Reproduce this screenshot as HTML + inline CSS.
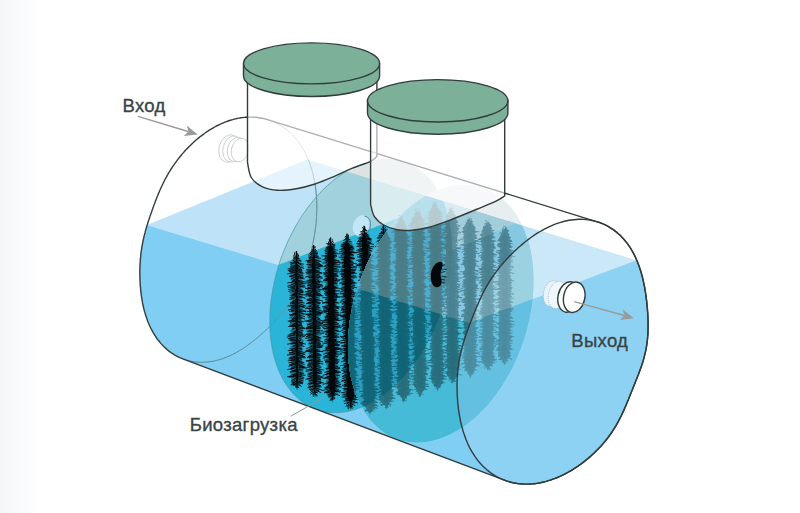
<!DOCTYPE html>
<html><head><meta charset="utf-8"><style>
html,body{margin:0;padding:0;background:#fff;}
svg{display:block;}
.t{font-family:"Liberation Sans",sans-serif;}
</style></head><body>
<svg width="800" height="513" viewBox="0 0 800 513">
<defs>
<path id="bh" d="M296.4,252.5 L296.5,254.0 L297.6,255.6 L298.8,257.2 L299.1,258.8 L301.8,260.4 L300.1,262.0 L301.6,263.6 L302.7,265.2 L304.1,266.8 L300.7,268.4 L302.7,270.0 L301.5,271.6 L304.4,273.2 L302.6,274.8 L304.3,276.4 L301.2,278.0 L302.2,279.6 L302.2,281.2 L303.5,282.8 L300.7,284.4 L304.7,286.0 L300.6,287.6 L302.7,289.2 L302.9,290.8 L302.8,292.4 L302.1,294.0 L303.3,295.6 L301.4,297.2 L301.9,298.8 L301.8,300.4 L303.0,302.0 L302.1,303.6 L304.4,305.2 L301.4,306.8 L303.4,308.4 L301.0,310.0 L302.3,311.6 L301.5,313.2 L302.8,314.8 L301.3,316.4 L302.9,318.0 L301.5,319.6 L302.8,321.2 L301.5,322.8 L302.6,324.4 L301.6,326.0 L304.7,327.6 L302.8,329.2 L304.2,330.8 L301.4,332.4 L302.5,334.0 L302.7,335.6 L303.7,337.2 L301.6,338.8 L304.4,340.4 L303.0,342.0 L302.8,343.6 L302.9,345.2 L302.3,346.8 L301.6,348.4 L303.0,350.0 L301.0,351.6 L304.3,353.2 L301.8,354.8 L303.0,356.4 L302.2,358.0 L302.7,359.6 L302.0,361.2 L303.2,362.8 L302.4,364.4 L303.9,366.0 L302.9,367.6 L304.2,369.2 L303.1,370.8 L304.0,372.4 L302.2,374.0 L302.1,375.6 L301.7,377.2 L304.6,378.8 L302.1,380.4 L302.3,382.0 L300.9,383.6 L300.1,385.2 L298.3,386.8 L297.0,391.0 L296.0,386.8 L293.8,385.2 L293.0,383.6 L290.9,382.0 L290.9,380.4 L291.5,378.8 L290.6,377.2 L289.4,375.6 L292.2,374.0 L289.7,372.4 L292.6,370.8 L289.2,369.2 L292.1,367.6 L290.0,366.0 L291.8,364.4 L290.5,362.8 L291.2,361.2 L291.3,359.6 L292.5,358.0 L289.9,356.4 L291.9,354.8 L288.8,353.2 L292.3,351.6 L290.6,350.0 L292.4,348.4 L289.5,346.8 L292.5,345.2 L290.6,343.6 L292.1,342.0 L290.5,340.4 L292.3,338.8 L288.9,337.2 L290.9,335.6 L290.1,334.0 L291.8,332.4 L289.6,330.8 L291.9,329.2 L291.7,327.6 L291.9,326.0 L289.3,324.4 L290.6,322.8 L291.2,321.2 L291.6,319.6 L288.9,318.0 L290.6,316.4 L290.8,314.8 L292.2,313.2 L290.8,311.6 L290.9,310.0 L290.3,308.4 L291.1,306.8 L289.5,305.2 L290.7,303.6 L289.8,302.0 L292.4,300.4 L289.9,298.8 L292.2,297.2 L288.8,295.6 L291.1,294.0 L288.9,292.4 L292.2,290.8 L290.9,289.2 L291.8,287.6 L289.0,286.0 L291.2,284.4 L290.7,282.8 L292.1,281.2 L290.7,279.6 L291.0,278.0 L289.2,276.4 L290.6,274.8 L289.8,273.2 L291.1,271.6 L288.8,270.0 L290.2,268.4 L290.1,266.8 L290.9,265.2 L290.8,263.6 L291.9,262.0 L291.6,260.4 L293.2,258.8 L294.3,257.2 L294.8,255.6 L296.3,254.0Z M313.6,246.5 L313.6,248.0 L314.8,249.6 L316.1,251.2 L316.7,252.8 L317.8,254.4 L318.2,256.0 L319.5,257.6 L318.7,259.2 L321.0,260.8 L318.2,262.4 L319.9,264.0 L319.9,265.6 L320.8,267.2 L319.3,268.8 L320.4,270.4 L318.6,272.0 L321.5,273.6 L318.7,275.2 L321.7,276.8 L318.7,278.4 L321.3,280.0 L319.4,281.6 L320.5,283.2 L318.7,284.8 L321.2,286.4 L318.3,288.0 L321.3,289.6 L320.1,291.2 L320.8,292.8 L319.1,294.4 L319.9,296.0 L319.9,297.6 L319.8,299.2 L319.4,300.8 L320.0,302.4 L319.4,304.0 L320.1,305.6 L318.8,307.2 L320.7,308.8 L320.0,310.4 L319.9,312.0 L319.0,313.6 L321.2,315.2 L318.9,316.8 L319.9,318.4 L320.3,320.0 L321.4,321.6 L319.1,323.2 L321.7,324.8 L319.6,326.4 L321.0,328.0 L319.8,329.6 L320.1,331.2 L319.1,332.8 L322.3,334.4 L319.0,336.0 L321.5,337.6 L320.6,339.2 L320.7,340.8 L319.1,342.4 L321.3,344.0 L319.6,345.6 L322.1,347.2 L319.7,348.8 L320.2,350.4 L319.0,352.0 L320.1,353.6 L319.6,355.2 L320.7,356.8 L320.0,358.4 L320.0,360.0 L319.3,361.6 L320.6,363.2 L319.4,364.8 L321.4,366.4 L320.7,368.0 L320.0,369.6 L320.2,371.2 L321.5,372.8 L319.1,374.4 L320.5,376.0 L320.0,377.6 L320.7,379.2 L320.1,380.8 L320.7,382.4 L319.5,384.0 L321.0,385.6 L319.3,387.2 L320.0,388.8 L319.0,390.4 L318.3,392.0 L316.1,393.6 L315.0,398.0 L314.1,393.6 L311.3,392.0 L311.4,390.4 L308.6,388.8 L309.2,387.2 L307.8,385.6 L310.3,384.0 L308.7,382.4 L309.2,380.8 L307.3,379.2 L310.3,377.6 L307.0,376.0 L308.5,374.4 L307.2,372.8 L310.7,371.2 L309.2,369.6 L309.2,368.0 L307.2,366.4 L308.4,364.8 L307.7,363.2 L308.9,361.6 L308.8,360.0 L309.3,358.4 L308.3,356.8 L309.8,355.2 L308.0,353.6 L309.3,352.0 L309.5,350.4 L309.6,348.8 L309.0,347.2 L309.8,345.6 L307.4,344.0 L309.9,342.4 L307.0,340.8 L308.8,339.2 L306.9,337.6 L309.0,336.0 L307.7,334.4 L309.9,332.8 L307.0,331.2 L308.9,329.6 L308.3,328.0 L308.8,326.4 L307.2,324.8 L308.9,323.2 L307.7,321.6 L308.7,320.0 L308.7,318.4 L309.2,316.8 L306.9,315.2 L309.6,313.6 L308.9,312.0 L309.0,310.4 L308.1,308.8 L309.1,307.2 L308.4,305.6 L308.5,304.0 L307.8,302.4 L308.7,300.8 L306.3,299.2 L309.6,297.6 L307.4,296.0 L308.9,294.4 L306.3,292.8 L308.3,291.2 L306.6,289.6 L308.1,288.0 L307.8,286.4 L307.8,284.8 L307.4,283.2 L308.2,281.6 L308.3,280.0 L309.2,278.4 L306.2,276.8 L309.1,275.2 L307.0,273.6 L308.5,272.0 L306.5,270.4 L307.9,268.8 L307.3,267.2 L308.7,265.6 L307.0,264.0 L308.1,262.4 L307.6,260.8 L309.0,259.2 L308.0,257.6 L308.5,256.0 L308.1,254.4 L310.5,252.8 L310.8,251.2 L312.9,249.6 L313.5,248.0Z M330.6,239.0 L330.7,240.5 L331.7,242.1 L333.0,243.7 L333.8,245.3 L335.6,246.9 L334.1,248.5 L338.5,250.1 L336.1,251.7 L337.9,253.3 L336.0,254.9 L337.4,256.5 L335.7,258.1 L337.4,259.7 L336.0,261.3 L336.9,262.9 L335.1,264.5 L338.4,266.1 L337.0,267.7 L338.6,269.3 L336.3,270.9 L338.4,272.5 L335.9,274.1 L338.2,275.7 L336.7,277.3 L336.8,278.9 L337.2,280.5 L338.4,282.1 L336.3,283.7 L338.6,285.3 L336.9,286.9 L336.5,288.5 L335.6,290.1 L337.9,291.7 L335.2,293.3 L337.4,294.9 L336.3,296.5 L337.2,298.1 L337.1,299.7 L337.1,301.3 L337.2,302.9 L336.9,304.5 L336.8,306.1 L338.2,307.7 L336.3,309.3 L337.7,310.9 L336.4,312.5 L338.3,314.1 L337.4,315.7 L338.1,317.3 L337.7,318.9 L338.4,320.5 L336.0,322.1 L338.9,323.7 L337.7,325.3 L337.5,326.9 L336.1,328.5 L338.9,330.1 L336.2,331.7 L337.5,333.3 L336.3,334.9 L339.7,336.5 L337.1,338.1 L337.7,339.7 L336.1,341.3 L337.6,342.9 L336.1,344.5 L339.3,346.1 L338.0,347.7 L339.8,349.3 L336.3,350.9 L338.7,352.5 L337.1,354.1 L339.5,355.7 L337.8,357.3 L337.3,358.9 L336.7,360.5 L339.9,362.1 L336.4,363.7 L338.9,365.3 L337.0,366.9 L340.0,368.5 L338.2,370.1 L339.4,371.7 L338.4,373.3 L339.8,374.9 L337.7,376.5 L339.7,378.1 L338.3,379.7 L340.1,381.3 L337.3,382.9 L338.8,384.5 L336.8,386.1 L337.9,387.7 L336.9,389.3 L339.8,390.9 L337.3,392.5 L337.9,394.1 L335.4,395.7 L334.5,397.3 L333.5,398.9 L332.5,403.0 L330.9,398.9 L330.0,397.3 L329.6,395.7 L326.1,394.1 L326.4,392.5 L325.9,390.9 L327.6,389.3 L325.2,387.7 L326.7,386.1 L326.1,384.5 L326.5,382.9 L325.5,381.3 L327.2,379.7 L324.5,378.1 L326.8,376.5 L325.8,374.9 L327.4,373.3 L325.5,371.7 L327.2,370.1 L324.5,368.5 L327.0,366.9 L326.3,365.3 L326.3,363.7 L324.8,362.1 L325.7,360.5 L326.5,358.9 L325.6,357.3 L325.4,355.7 L327.0,354.1 L324.6,352.5 L327.0,350.9 L325.7,349.3 L326.0,347.7 L325.4,346.1 L326.8,344.5 L325.5,342.9 L326.0,341.3 L324.4,339.7 L325.9,338.1 L325.9,336.5 L326.2,334.9 L326.3,333.3 L325.6,331.7 L325.2,330.1 L327.1,328.5 L325.5,326.9 L325.3,325.3 L325.2,323.7 L326.3,322.1 L325.6,320.5 L325.6,318.9 L324.7,317.3 L325.6,315.7 L325.3,314.1 L325.8,312.5 L324.7,310.9 L327.0,309.3 L324.0,307.7 L325.4,306.1 L325.8,304.5 L326.1,302.9 L325.6,301.3 L326.0,299.7 L324.7,298.1 L326.7,296.5 L324.6,294.9 L324.8,293.3 L324.2,291.7 L325.6,290.1 L323.6,288.5 L325.0,286.9 L324.8,285.3 L326.3,283.7 L323.2,282.1 L326.7,280.5 L325.5,278.9 L326.3,277.3 L325.5,275.7 L325.3,274.1 L324.8,272.5 L325.4,270.9 L323.5,269.3 L325.5,267.7 L323.4,266.1 L325.6,264.5 L325.4,262.9 L325.2,261.3 L324.4,259.7 L325.6,258.1 L323.5,256.5 L325.8,254.9 L324.0,253.3 L326.2,251.7 L325.4,250.1 L327.1,248.5 L325.9,246.9 L328.0,245.3 L327.7,243.7 L329.3,242.1 L330.3,240.5Z M347.0,235.1 L347.1,236.6 L348.2,238.2 L349.9,239.8 L349.4,241.4 L352.3,243.0 L352.2,244.6 L354.2,246.2 L352.5,247.8 L354.6,249.4 L352.7,251.0 L355.0,252.6 L352.6,254.2 L354.3,255.8 L352.5,257.4 L354.7,259.0 L352.4,260.6 L354.3,262.2 L351.8,263.8 L353.6,265.4 L352.0,267.0 L353.4,268.6 L353.3,270.2 L354.5,271.8 L352.3,273.4 L354.8,275.0 L352.8,276.6 L355.5,278.2 L352.9,279.8 L354.6,281.4 L354.0,283.0 L355.2,284.6 L353.6,286.2 L355.0,287.8 L353.0,289.4 L354.4,291.0 L353.8,292.6 L355.1,294.2 L353.2,295.8 L353.8,297.4 L353.3,299.0 L356.0,300.6 L352.6,302.2 L354.0,303.8 L353.0,305.4 L354.9,307.0 L354.6,308.6 L355.5,310.2 L355.0,311.8 L355.6,313.4 L354.7,315.0 L354.9,316.6 L353.9,318.2 L355.8,319.8 L355.1,321.4 L354.3,323.0 L353.8,324.6 L355.2,326.2 L354.3,327.8 L355.6,329.4 L353.3,331.0 L356.7,332.6 L353.4,334.2 L354.3,335.8 L353.5,337.4 L355.5,339.0 L354.2,340.6 L355.5,342.2 L354.5,343.8 L354.4,345.4 L354.1,347.0 L356.5,348.6 L353.7,350.2 L357.2,351.8 L353.7,353.4 L357.4,355.0 L354.2,356.6 L356.2,358.2 L355.8,359.8 L356.0,361.4 L355.5,363.0 L357.2,364.6 L355.0,366.2 L355.2,367.8 L354.1,369.4 L356.2,371.0 L354.8,372.6 L357.1,374.2 L355.0,375.8 L356.4,377.4 L354.8,379.0 L355.6,380.6 L354.8,382.2 L356.6,383.8 L355.0,385.4 L356.1,387.0 L356.1,388.6 L356.4,390.2 L355.4,391.8 L356.2,393.4 L356.8,395.0 L356.2,396.6 L356.4,398.2 L356.2,399.8 L354.7,401.4 L355.6,403.0 L353.0,404.6 L351.9,406.2 L350.6,410.5 L349.3,406.2 L347.4,404.6 L346.9,403.0 L346.5,401.4 L345.0,399.8 L345.8,398.2 L342.8,396.6 L344.4,395.0 L342.9,393.4 L345.7,391.8 L343.7,390.2 L344.4,388.6 L344.2,387.0 L344.5,385.4 L343.7,383.8 L345.0,382.2 L343.9,380.6 L345.7,379.0 L342.0,377.4 L345.3,375.8 L343.7,374.2 L344.9,372.6 L342.3,371.0 L343.3,369.4 L343.0,367.8 L344.1,366.2 L344.1,364.6 L344.9,363.0 L343.5,361.4 L343.3,359.8 L344.0,358.2 L344.6,356.6 L343.1,355.0 L344.6,353.4 L344.0,351.8 L344.7,350.2 L342.4,348.6 L344.1,347.0 L343.9,345.4 L343.9,343.8 L343.1,342.2 L344.7,340.6 L341.9,339.0 L343.1,337.4 L343.4,335.8 L343.3,334.2 L342.6,332.6 L344.9,331.0 L343.6,329.4 L343.6,327.8 L341.8,326.2 L342.5,324.6 L342.6,323.0 L343.7,321.4 L342.9,319.8 L343.3,318.2 L341.8,316.6 L343.8,315.0 L342.8,313.4 L343.3,311.8 L343.2,310.2 L342.4,308.6 L341.6,307.0 L343.6,305.4 L341.0,303.8 L343.2,302.2 L341.9,300.6 L343.5,299.0 L341.3,297.4 L343.5,295.8 L342.6,294.2 L343.5,292.6 L341.0,291.0 L342.0,289.4 L340.8,287.8 L342.1,286.2 L341.1,284.6 L342.6,283.0 L342.6,281.4 L342.3,279.8 L341.7,278.2 L342.4,276.6 L341.1,275.0 L342.8,273.4 L341.5,271.8 L341.9,270.2 L341.1,268.6 L342.6,267.0 L341.7,265.4 L341.6,263.8 L342.1,262.2 L341.2,260.6 L341.9,259.0 L342.1,257.4 L339.7,255.8 L342.0,254.2 L341.1,252.6 L341.1,251.0 L340.8,249.4 L341.7,247.8 L341.6,246.2 L342.5,244.6 L341.7,243.0 L344.7,241.4 L345.0,239.8 L346.1,238.2 L347.1,236.6Z M364.2,227.3 L364.0,228.8 L365.5,230.4 L367.4,232.0 L366.6,233.6 L370.1,235.2 L367.9,236.8 L370.5,238.4 L370.8,240.0 L372.1,241.6 L369.9,243.2 L369.9,244.8 L369.5,246.4 L371.0,248.0 L370.8,249.6 L370.7,251.2 L370.2,252.8 L370.9,254.4 L370.2,256.0 L372.5,257.6 L371.3,259.2 L370.8,260.8 L371.0,262.4 L370.8,264.0 L371.3,265.6 L372.3,267.2 L369.7,268.8 L370.9,270.4 L370.6,272.0 L372.9,273.6 L369.9,275.2 L371.3,276.8 L371.0,278.4 L373.2,280.0 L370.8,281.6 L372.3,283.2 L371.0,284.8 L371.6,286.4 L371.0,288.0 L371.7,289.6 L372.3,291.2 L373.0,292.8 L371.3,294.4 L372.1,296.0 L371.3,297.6 L372.0,299.2 L371.3,300.8 L373.3,302.4 L372.1,304.0 L371.8,305.6 L372.1,307.2 L373.0,308.8 L371.6,310.4 L371.9,312.0 L372.4,313.6 L372.1,315.2 L371.3,316.8 L374.2,318.4 L372.9,320.0 L374.8,321.6 L371.7,323.2 L374.7,324.8 L373.4,326.4 L372.6,328.0 L373.1,329.6 L374.5,331.2 L373.2,332.8 L373.0,334.4 L372.8,336.0 L375.4,337.6 L373.9,339.2 L375.5,340.8 L373.4,342.4 L375.1,344.0 L373.4,345.6 L374.7,347.2 L373.8,348.8 L375.2,350.4 L373.6,352.0 L374.6,353.6 L372.8,355.2 L374.7,356.8 L373.6,358.4 L373.7,360.0 L374.4,361.6 L375.2,363.2 L374.4,364.8 L374.9,366.4 L374.5,368.0 L374.7,369.6 L374.7,371.2 L374.4,372.8 L373.8,374.4 L375.6,376.0 L374.9,377.6 L376.0,379.2 L373.4,380.8 L376.5,382.4 L373.8,384.0 L374.9,385.6 L373.7,387.2 L374.9,388.8 L375.5,390.4 L376.4,392.0 L374.6,393.6 L377.1,395.2 L375.5,396.8 L374.6,398.4 L374.0,400.0 L377.4,401.6 L374.5,403.2 L377.1,404.8 L374.2,406.4 L375.6,408.0 L373.2,409.6 L372.3,411.2 L370.4,412.8 L369.9,416.0 L369.4,412.8 L367.6,411.2 L367.5,409.6 L365.5,408.0 L365.5,406.4 L362.0,404.8 L363.2,403.2 L362.2,401.6 L364.6,400.0 L362.8,398.4 L364.2,396.8 L362.3,395.2 L364.5,393.6 L362.3,392.0 L364.2,390.4 L362.4,388.8 L363.9,387.2 L362.5,385.6 L363.7,384.0 L361.2,382.4 L363.4,380.8 L362.8,379.2 L362.2,377.6 L361.9,376.0 L363.4,374.4 L361.4,372.8 L364.0,371.2 L361.4,369.6 L363.5,368.0 L363.2,366.4 L362.4,364.8 L361.9,363.2 L362.1,361.6 L361.4,360.0 L362.4,358.4 L361.4,356.8 L361.9,355.2 L361.4,353.6 L363.4,352.0 L362.4,350.4 L361.8,348.8 L361.5,347.2 L361.6,345.6 L360.9,344.0 L362.9,342.4 L360.4,340.8 L361.4,339.2 L361.3,337.6 L361.8,336.0 L360.8,334.4 L361.6,332.8 L359.6,331.2 L362.4,329.6 L359.7,328.0 L362.3,326.4 L361.2,324.8 L360.8,323.2 L359.7,321.6 L361.7,320.0 L359.5,318.4 L360.5,316.8 L360.1,315.2 L360.7,313.6 L361.3,312.0 L361.4,310.4 L359.1,308.8 L361.9,307.2 L360.2,305.6 L360.3,304.0 L359.9,302.4 L362.0,300.8 L360.5,299.2 L361.2,297.6 L359.2,296.0 L361.1,294.4 L359.3,292.8 L361.3,291.2 L360.2,289.6 L360.9,288.0 L360.2,286.4 L361.2,284.8 L359.5,283.2 L360.8,281.6 L360.4,280.0 L359.8,278.4 L357.9,276.8 L359.8,275.2 L358.6,273.6 L361.5,272.0 L358.3,270.4 L361.2,268.8 L357.6,267.2 L359.9,265.6 L359.2,264.0 L359.6,262.4 L359.3,260.8 L360.5,259.2 L358.4,257.6 L359.7,256.0 L358.7,254.4 L359.7,252.8 L358.2,251.2 L359.6,249.6 L358.0,248.0 L360.0,246.4 L358.2,244.8 L358.9,243.2 L359.0,241.6 L359.8,240.0 L357.0,238.4 L359.9,236.8 L360.7,235.2 L360.9,233.6 L362.1,232.0 L363.0,230.4 L364.1,228.8Z M383.5,226.5 L383.4,228.0 L384.9,229.6 L386.7,231.2 L386.2,232.8 L388.7,234.4 L388.1,236.0 L389.5,237.6 L390.2,239.2 L390.7,240.8 L389.2,242.4 L390.9,244.0 L389.0,245.6 L391.7,247.2 L388.9,248.8 L390.4,250.4 L389.6,252.0 L391.5,253.6 L388.5,255.2 L391.2,256.8 L389.1,258.4 L390.9,260.0 L389.2,261.6 L390.6,263.2 L389.6,264.8 L390.2,266.4 L388.8,268.0 L391.3,269.6 L389.7,271.2 L391.1,272.8 L389.6,274.4 L392.3,276.0 L388.3,277.6 L390.6,279.2 L389.5,280.8 L390.0,282.4 L389.3,284.0 L392.1,285.6 L389.3,287.2 L391.9,288.8 L388.8,290.4 L390.4,292.0 L389.9,293.6 L391.0,295.2 L390.2,296.8 L390.5,298.4 L388.8,300.0 L392.6,301.6 L390.3,303.2 L392.3,304.8 L389.7,306.4 L392.8,308.0 L389.4,309.6 L391.3,311.2 L390.0,312.8 L391.6,314.4 L391.0,316.0 L392.4,317.6 L389.3,319.2 L390.6,320.8 L389.5,322.4 L390.6,324.0 L389.4,325.6 L390.7,327.2 L390.6,328.8 L391.8,330.4 L390.3,332.0 L391.2,333.6 L389.8,335.2 L390.4,336.8 L390.5,338.4 L392.3,340.0 L389.8,341.6 L392.4,343.2 L390.5,344.8 L392.0,346.4 L390.2,348.0 L391.6,349.6 L391.0,351.2 L391.7,352.8 L390.8,354.4 L390.9,356.0 L391.0,357.6 L392.4,359.2 L390.4,360.8 L391.9,362.4 L391.3,364.0 L392.1,365.6 L390.3,367.2 L392.7,368.8 L390.0,370.4 L393.4,372.0 L392.1,373.6 L393.1,375.2 L391.0,376.8 L393.3,378.4 L390.2,380.0 L392.5,381.6 L390.8,383.2 L392.4,384.8 L391.0,386.4 L391.6,388.0 L391.9,389.6 L393.3,391.2 L392.0,392.8 L393.3,394.4 L391.8,396.0 L393.6,397.6 L392.5,399.2 L391.3,400.8 L389.5,402.4 L389.3,404.0 L387.7,405.6 L386.2,410.1 L385.2,405.6 L382.6,404.0 L382.1,402.4 L379.4,400.8 L379.7,399.2 L378.7,397.6 L381.3,396.0 L379.9,394.4 L381.7,392.8 L379.1,391.2 L381.5,389.6 L380.8,388.0 L380.3,386.4 L378.3,384.8 L380.5,383.2 L378.1,381.6 L380.3,380.0 L378.4,378.4 L381.2,376.8 L379.0,375.2 L380.2,373.6 L380.4,372.0 L379.6,370.4 L380.0,368.8 L380.7,367.2 L379.5,365.6 L380.7,364.0 L380.1,362.4 L380.0,360.8 L379.3,359.2 L380.2,357.6 L378.3,356.0 L381.3,354.4 L377.7,352.8 L380.6,351.2 L378.7,349.6 L379.2,348.0 L377.7,346.4 L380.2,344.8 L379.4,343.2 L379.9,341.6 L377.2,340.0 L379.1,338.4 L379.1,336.8 L379.8,335.2 L379.2,333.6 L380.4,332.0 L379.6,330.4 L380.5,328.8 L379.2,327.2 L380.4,325.6 L378.5,324.0 L378.8,322.4 L378.1,320.8 L380.4,319.2 L378.6,317.6 L379.8,316.0 L378.1,314.4 L378.4,312.8 L378.1,311.2 L379.2,309.6 L378.5,308.0 L378.5,306.4 L377.1,304.8 L380.2,303.2 L378.6,301.6 L379.5,300.0 L378.9,298.4 L378.3,296.8 L377.8,295.2 L380.1,293.6 L378.2,292.0 L379.8,290.4 L378.5,288.8 L378.2,287.2 L377.9,285.6 L379.6,284.0 L378.6,282.4 L379.6,280.8 L377.0,279.2 L378.9,277.6 L378.1,276.0 L379.9,274.4 L377.2,272.8 L378.5,271.2 L378.2,269.6 L378.4,268.0 L376.1,266.4 L377.7,264.8 L377.6,263.2 L379.5,261.6 L376.7,260.0 L379.1,258.4 L376.6,256.8 L378.6,255.2 L378.5,253.6 L378.3,252.0 L376.2,250.4 L378.3,248.8 L378.0,247.2 L378.4,245.6 L376.3,244.0 L378.4,242.4 L377.2,240.8 L378.7,239.2 L376.9,237.6 L378.9,236.0 L379.4,234.4 L380.6,232.8 L381.0,231.2 L382.7,229.6 L383.2,228.0Z M401.0,216.5 L400.9,218.0 L402.6,219.6 L403.9,221.2 L403.6,222.8 L405.0,224.4 L405.8,226.0 L407.1,227.6 L406.5,229.2 L407.3,230.8 L405.9,232.4 L407.6,234.0 L406.5,235.6 L408.9,237.2 L406.4,238.8 L408.9,240.4 L406.1,242.0 L408.3,243.6 L406.4,245.2 L407.9,246.8 L407.1,248.4 L408.4,250.0 L406.5,251.6 L408.2,253.2 L406.8,254.8 L407.5,256.4 L406.7,258.0 L408.1,259.6 L406.8,261.2 L407.8,262.8 L407.3,264.4 L409.4,266.0 L407.0,267.6 L408.2,269.2 L406.5,270.8 L409.5,272.4 L406.1,274.0 L408.2,275.6 L406.4,277.2 L409.5,278.8 L407.2,280.4 L408.3,282.0 L407.9,283.6 L407.8,285.2 L406.2,286.8 L407.2,288.4 L407.0,290.0 L409.6,291.6 L408.2,293.2 L409.9,294.8 L406.8,296.4 L408.3,298.0 L407.4,299.6 L409.0,301.2 L407.6,302.8 L408.1,304.4 L407.4,306.0 L410.0,307.6 L408.3,309.2 L410.2,310.8 L408.6,312.4 L409.0,314.0 L406.7,315.6 L410.3,317.2 L407.9,318.8 L409.4,320.4 L407.0,322.0 L409.4,323.6 L407.1,325.2 L409.8,326.8 L408.5,328.4 L409.8,330.0 L408.7,331.6 L409.5,333.2 L408.4,334.8 L410.2,336.4 L409.0,338.0 L410.2,339.6 L407.5,341.2 L409.4,342.8 L408.1,344.4 L409.4,346.0 L407.7,347.6 L410.4,349.2 L408.9,350.8 L408.8,352.4 L408.8,354.0 L410.7,355.6 L407.6,357.2 L410.0,358.8 L408.5,360.4 L410.8,362.0 L408.6,363.6 L410.3,365.2 L407.6,366.8 L411.1,368.4 L409.4,370.0 L409.1,371.6 L409.4,373.2 L409.6,374.8 L409.0,376.4 L409.8,378.0 L407.6,379.6 L411.1,381.2 L409.3,382.8 L409.2,384.4 L409.1,386.0 L409.4,387.6 L408.8,389.2 L411.2,390.8 L409.3,392.4 L408.9,394.0 L406.8,395.6 L407.0,397.2 L405.2,398.8 L403.8,403.1 L402.1,398.8 L401.3,397.2 L399.9,395.6 L397.4,394.0 L397.6,392.4 L398.1,390.8 L397.6,389.2 L396.6,387.6 L398.4,386.0 L397.0,384.4 L397.2,382.8 L397.2,381.2 L397.6,379.6 L397.0,378.0 L398.6,376.4 L397.2,374.8 L397.1,373.2 L397.6,371.6 L399.1,370.0 L395.8,368.4 L398.0,366.8 L397.2,365.2 L397.4,363.6 L396.4,362.0 L398.8,360.4 L397.3,358.8 L398.2,357.2 L397.7,355.6 L397.3,354.0 L397.0,352.4 L397.2,350.8 L396.0,349.2 L397.5,347.6 L395.6,346.0 L396.9,344.4 L396.4,342.8 L397.9,341.2 L397.3,339.6 L398.1,338.0 L396.6,336.4 L398.0,334.8 L396.7,333.2 L397.2,331.6 L396.1,330.0 L397.0,328.4 L396.6,326.8 L397.1,325.2 L396.7,323.6 L397.6,322.0 L396.6,320.4 L397.6,318.8 L397.4,317.2 L397.6,315.6 L394.7,314.0 L398.3,312.4 L397.0,310.8 L397.2,309.2 L395.4,307.6 L397.7,306.0 L394.7,304.4 L397.8,302.8 L395.9,301.2 L397.6,299.6 L394.8,298.0 L397.9,296.4 L395.9,294.8 L396.7,293.2 L395.9,291.6 L396.1,290.0 L395.8,288.4 L396.8,286.8 L396.4,285.2 L396.4,283.6 L394.3,282.0 L395.7,280.4 L395.0,278.8 L396.1,277.2 L394.8,275.6 L395.3,274.0 L394.0,272.4 L396.2,270.8 L395.1,269.2 L395.3,267.6 L394.2,266.0 L395.8,264.4 L396.0,262.8 L395.7,261.2 L396.4,259.6 L396.3,258.0 L395.6,256.4 L395.6,254.8 L395.8,253.2 L397.0,251.6 L396.4,250.0 L396.4,248.4 L394.0,246.8 L396.6,245.2 L395.8,243.6 L396.1,242.0 L394.2,240.4 L394.9,238.8 L394.2,237.2 L395.9,235.6 L393.9,234.0 L395.3,232.4 L393.7,230.8 L395.8,229.2 L395.6,227.6 L397.0,226.0 L396.2,224.4 L398.4,222.8 L398.4,221.2 L399.9,219.6 L400.8,218.0Z M417.6,209.0 L417.4,210.5 L418.6,212.1 L419.6,213.7 L420.2,215.3 L421.9,216.9 L423.0,218.5 L425.3,220.1 L422.4,221.7 L423.9,223.3 L423.6,224.9 L423.4,226.5 L424.0,228.1 L425.1,229.7 L422.7,231.3 L425.3,232.9 L422.7,234.5 L425.2,236.1 L423.9,237.7 L425.9,239.3 L422.4,240.9 L423.9,242.5 L422.8,244.1 L423.6,245.7 L422.2,247.3 L423.8,248.9 L422.4,250.5 L424.9,252.1 L422.7,253.7 L425.0,255.3 L423.4,256.9 L425.3,258.5 L423.9,260.1 L425.0,261.7 L422.7,263.3 L425.9,264.9 L423.7,266.5 L426.1,268.1 L423.2,269.7 L425.4,271.3 L423.2,272.9 L424.6,274.5 L424.6,276.1 L423.9,277.7 L424.5,279.3 L424.5,280.9 L422.6,282.5 L425.9,284.1 L424.2,285.7 L426.3,287.3 L423.8,288.9 L426.1,290.5 L423.2,292.1 L425.4,293.7 L422.9,295.3 L426.8,296.9 L423.8,298.5 L425.2,300.1 L424.2,301.7 L425.1,303.3 L425.0,304.9 L425.2,306.5 L424.0,308.1 L425.3,309.7 L423.0,311.3 L425.5,312.9 L423.6,314.5 L425.5,316.1 L425.4,317.7 L426.2,319.3 L424.4,320.9 L424.5,322.5 L423.4,324.1 L425.3,325.7 L425.1,327.3 L424.9,328.9 L425.2,330.5 L424.7,332.1 L424.6,333.7 L425.0,335.3 L423.4,336.9 L426.6,338.5 L425.1,340.1 L426.4,341.7 L425.4,343.3 L426.5,344.9 L425.4,346.5 L426.8,348.1 L424.3,349.7 L425.8,351.3 L424.7,352.9 L426.7,354.5 L424.0,356.1 L426.9,357.7 L425.2,359.3 L426.7,360.9 L424.3,362.5 L426.9,364.1 L425.2,365.7 L427.5,367.3 L425.4,368.9 L427.3,370.5 L425.7,372.1 L427.9,373.7 L425.0,375.3 L426.7,376.9 L425.8,378.5 L426.2,380.1 L425.0,381.7 L426.1,383.3 L424.7,384.9 L425.6,386.5 L424.6,388.1 L424.1,389.7 L422.6,391.3 L422.1,392.9 L420.1,397.3 L418.4,392.9 L417.6,391.3 L416.4,389.7 L415.9,388.1 L414.2,386.5 L414.1,384.9 L413.1,383.3 L415.2,381.7 L413.3,380.1 L415.3,378.5 L412.4,376.9 L414.8,375.3 L414.3,373.7 L414.0,372.1 L414.1,370.5 L414.3,368.9 L412.3,367.3 L414.2,365.7 L414.4,364.1 L415.5,362.5 L413.8,360.9 L414.6,359.3 L413.7,357.7 L415.3,356.1 L414.0,354.5 L415.2,352.9 L413.5,351.3 L414.6,349.7 L412.4,348.1 L414.9,346.5 L413.0,344.9 L414.7,343.3 L411.4,341.7 L413.4,340.1 L412.8,338.5 L414.6,336.9 L413.0,335.3 L413.5,333.7 L412.6,332.1 L415.2,330.5 L412.5,328.9 L413.3,327.3 L411.4,325.7 L414.4,324.1 L412.1,322.5 L412.9,320.9 L413.3,319.3 L413.3,317.7 L411.6,316.1 L414.2,314.5 L412.9,312.9 L414.4,311.3 L413.7,309.7 L412.6,308.1 L412.6,306.5 L413.1,304.9 L412.9,303.3 L413.7,301.7 L412.4,300.1 L413.1,298.5 L411.6,296.9 L412.9,295.3 L411.4,293.7 L413.3,292.1 L413.6,290.5 L412.5,288.9 L411.3,287.3 L414.2,285.7 L412.8,284.1 L413.9,282.5 L411.4,280.9 L414.1,279.3 L411.1,277.7 L413.7,276.1 L413.2,274.5 L413.7,272.9 L412.1,271.3 L412.6,269.7 L412.3,268.1 L413.3,266.5 L412.8,264.9 L412.1,263.3 L410.6,261.7 L412.1,260.1 L412.5,258.5 L414.1,256.9 L411.3,255.3 L411.9,253.7 L410.9,252.1 L413.6,250.5 L411.2,248.9 L412.9,247.3 L412.7,245.7 L413.3,244.1 L411.7,242.5 L413.0,240.9 L411.8,239.3 L412.3,237.7 L411.8,236.1 L413.4,234.5 L411.2,232.9 L413.5,231.3 L412.4,229.7 L411.8,228.1 L410.6,226.5 L411.8,224.9 L410.1,223.3 L411.7,221.7 L412.0,220.1 L412.7,218.5 L413.1,216.9 L414.8,215.3 L415.1,213.7 L416.2,212.1 L417.7,210.5Z M435.0,201.5 L434.8,203.0 L436.3,204.6 L437.0,206.2 L437.5,207.8 L440.1,209.4 L439.2,211.0 L442.0,212.6 L440.5,214.2 L441.8,215.8 L440.2,217.4 L441.7,219.0 L439.7,220.6 L442.1,222.2 L440.4,223.8 L441.6,225.4 L440.9,227.0 L441.7,228.6 L440.4,230.2 L441.2,231.8 L439.7,233.4 L440.9,235.0 L440.3,236.6 L442.9,238.2 L440.3,239.8 L442.4,241.4 L440.3,243.0 L441.9,244.6 L441.0,246.2 L443.1,247.8 L441.3,249.4 L441.4,251.0 L440.4,252.6 L443.4,254.2 L442.2,255.8 L442.1,257.4 L440.3,259.0 L443.5,260.6 L441.4,262.2 L443.7,263.8 L441.1,265.4 L442.1,267.0 L440.8,268.6 L443.3,270.2 L440.9,271.8 L441.8,273.4 L440.4,275.0 L441.8,276.6 L441.2,278.2 L443.7,279.8 L440.6,281.4 L442.3,283.0 L441.1,284.6 L443.6,286.2 L441.1,287.8 L442.4,289.4 L440.8,291.0 L442.6,292.6 L441.0,294.2 L443.1,295.8 L442.7,297.4 L442.9,299.0 L441.5,300.6 L443.9,302.2 L441.6,303.8 L444.0,305.4 L441.3,307.0 L441.8,308.6 L442.0,310.2 L443.4,311.8 L442.2,313.4 L442.2,315.0 L442.3,316.6 L443.1,318.2 L443.2,319.8 L441.8,321.4 L441.7,323.0 L443.1,324.6 L441.3,326.2 L444.3,327.8 L441.4,329.4 L444.6,331.0 L442.7,332.6 L442.5,334.2 L442.5,335.8 L444.1,337.4 L441.4,339.0 L444.7,340.6 L441.9,342.2 L443.8,343.8 L441.1,345.4 L443.6,347.0 L441.2,348.6 L442.8,350.2 L443.1,351.8 L444.1,353.4 L441.9,355.0 L443.3,356.6 L442.5,358.2 L443.8,359.8 L442.5,361.4 L444.0,363.0 L443.6,364.6 L444.9,366.2 L442.2,367.8 L443.6,369.4 L442.5,371.0 L444.0,372.6 L442.7,374.2 L445.0,375.8 L443.1,377.4 L444.9,379.0 L442.0,380.6 L443.5,382.2 L441.5,383.8 L440.5,385.4 L438.8,387.0 L437.7,391.4 L435.9,387.0 L435.1,385.4 L434.2,383.8 L431.2,382.2 L431.8,380.6 L430.8,379.0 L432.1,377.4 L430.1,375.8 L432.1,374.2 L430.6,372.6 L431.3,371.0 L431.5,369.4 L431.7,367.8 L430.1,366.2 L433.1,364.6 L430.4,363.0 L431.6,361.4 L429.6,359.8 L431.9,358.2 L431.7,356.6 L431.3,355.0 L430.9,353.4 L432.5,351.8 L431.6,350.2 L432.7,348.6 L429.1,347.0 L432.5,345.4 L429.5,343.8 L431.8,342.2 L430.3,340.6 L431.0,339.0 L431.4,337.4 L431.5,335.8 L430.5,334.2 L431.9,332.6 L429.6,331.0 L430.9,329.4 L431.2,327.8 L432.1,326.2 L430.7,324.6 L432.5,323.0 L429.1,321.4 L430.6,319.8 L431.0,318.2 L431.2,316.6 L429.4,315.0 L431.9,313.4 L429.8,311.8 L432.2,310.2 L429.3,308.6 L431.7,307.0 L430.8,305.4 L430.6,303.8 L428.8,302.2 L431.2,300.6 L430.4,299.0 L432.0,297.4 L429.2,295.8 L431.5,294.2 L429.8,292.6 L430.4,291.0 L430.2,289.4 L430.7,287.8 L428.4,286.2 L430.9,284.6 L430.9,283.0 L431.7,281.4 L428.4,279.8 L431.4,278.2 L429.5,276.6 L431.3,275.0 L428.1,273.4 L429.8,271.8 L429.5,270.2 L429.7,268.6 L429.3,267.0 L430.7,265.4 L428.6,263.8 L430.4,262.2 L429.5,260.6 L430.7,259.0 L428.1,257.4 L431.2,255.8 L430.0,254.2 L430.7,252.6 L429.3,251.0 L429.8,249.4 L429.5,247.8 L429.7,246.2 L429.1,244.6 L430.8,243.0 L429.8,241.4 L430.4,239.8 L430.0,238.2 L431.3,236.6 L430.1,235.0 L431.0,233.4 L427.9,231.8 L430.2,230.2 L429.3,228.6 L429.7,227.0 L427.7,225.4 L428.9,223.8 L429.1,222.2 L429.2,220.6 L428.8,219.0 L430.5,217.4 L428.0,215.8 L429.0,214.2 L428.2,212.6 L430.4,211.0 L430.9,209.4 L431.5,207.8 L432.2,206.2 L433.6,204.6 L434.7,203.0Z M451.0,208.1 L450.9,209.6 L452.6,211.2 L453.2,212.8 L454.5,214.4 L456.6,216.0 L456.1,217.6 L456.1,219.2 L457.6,220.8 L458.0,222.4 L455.7,224.0 L457.1,225.6 L456.5,227.2 L459.1,228.8 L457.1,230.4 L456.9,232.0 L457.3,233.6 L458.1,235.2 L457.3,236.8 L457.2,238.4 L456.6,240.0 L457.9,241.6 L455.8,243.2 L458.2,244.8 L456.3,246.4 L459.2,248.0 L456.6,249.6 L456.7,251.2 L457.1,252.8 L458.4,254.4 L456.9,256.0 L459.1,257.6 L456.6,259.2 L458.7,260.8 L455.7,262.4 L458.6,264.0 L457.4,265.6 L458.9,267.2 L458.0,268.8 L457.3,270.4 L457.8,272.0 L459.4,273.6 L456.9,275.2 L458.3,276.8 L458.1,278.4 L459.4,280.0 L456.3,281.6 L458.0,283.2 L456.4,284.8 L458.4,286.4 L456.5,288.0 L459.6,289.6 L456.4,291.2 L458.5,292.8 L458.1,294.4 L459.6,296.0 L457.8,297.6 L458.4,299.2 L456.8,300.8 L459.9,302.4 L457.9,304.0 L458.4,305.6 L456.7,307.2 L458.4,308.8 L458.1,310.4 L458.2,312.0 L458.0,313.6 L459.4,315.2 L457.5,316.8 L459.6,318.4 L457.1,320.0 L458.5,321.6 L456.9,323.2 L458.3,324.8 L457.3,326.4 L459.9,328.0 L457.6,329.6 L458.2,331.2 L458.7,332.8 L459.7,334.4 L457.7,336.0 L458.3,337.6 L457.0,339.2 L458.3,340.8 L458.2,342.4 L457.9,344.0 L456.9,345.6 L459.5,347.2 L457.5,348.8 L457.8,350.4 L458.0,352.0 L459.4,353.6 L459.0,355.2 L459.6,356.8 L458.7,358.4 L460.2,360.0 L458.4,361.6 L460.2,363.2 L459.1,364.8 L460.3,366.4 L458.8,368.0 L458.3,369.6 L458.0,371.2 L458.7,372.8 L457.3,374.4 L457.3,376.0 L455.5,377.6 L455.0,379.2 L453.4,380.8 L452.9,384.4 L451.7,380.8 L451.1,379.2 L449.7,377.6 L447.0,376.0 L446.8,374.4 L447.3,372.8 L447.2,371.2 L447.7,369.6 L447.6,368.0 L445.0,366.4 L446.8,364.8 L447.3,363.2 L448.5,361.6 L444.6,360.0 L448.1,358.4 L446.1,356.8 L447.9,355.2 L446.2,353.6 L447.5,352.0 L445.3,350.4 L447.1,348.8 L446.8,347.2 L446.3,345.6 L446.9,344.0 L446.8,342.4 L446.3,340.8 L447.4,339.2 L445.1,337.6 L447.4,336.0 L446.8,334.4 L447.1,332.8 L447.0,331.2 L447.9,329.6 L446.0,328.0 L447.5,326.4 L445.9,324.8 L447.6,323.2 L444.4,321.6 L446.8,320.0 L446.1,318.4 L445.8,316.8 L446.2,315.2 L447.9,313.6 L445.0,312.0 L447.4,310.4 L446.5,308.8 L446.2,307.2 L446.5,305.6 L447.5,304.0 L444.9,302.4 L445.6,300.8 L445.5,299.2 L447.1,297.6 L446.3,296.0 L446.5,294.4 L444.8,292.8 L445.4,291.2 L444.7,289.6 L446.6,288.0 L446.1,286.4 L446.8,284.8 L444.8,283.2 L447.4,281.6 L445.5,280.0 L446.4,278.4 L443.9,276.8 L447.6,275.2 L445.4,273.6 L446.6,272.0 L445.5,270.4 L445.4,268.8 L443.8,267.2 L446.7,265.6 L445.0,264.0 L446.1,262.4 L443.5,260.8 L445.6,259.2 L444.5,257.6 L445.5,256.0 L445.7,254.4 L446.5,252.8 L446.4,251.2 L445.6,249.6 L443.4,248.0 L445.1,246.4 L443.7,244.8 L446.8,243.2 L445.9,241.6 L446.1,240.0 L443.5,238.4 L445.2,236.8 L445.8,235.2 L446.8,233.6 L444.3,232.0 L445.4,230.4 L445.6,228.8 L446.2,227.2 L445.7,225.6 L445.3,224.0 L444.5,222.4 L445.4,220.8 L445.9,219.2 L447.3,217.6 L445.9,216.0 L448.6,214.4 L448.8,212.8 L449.6,211.2 L450.9,209.6Z M469.5,217.5 L469.7,219.0 L470.3,220.6 L472.3,222.2 L472.8,223.8 L473.9,225.4 L474.5,227.0 L475.1,228.6 L474.7,230.2 L477.2,231.8 L474.8,233.4 L476.3,235.0 L475.7,236.6 L477.5,238.2 L474.0,239.8 L475.6,241.4 L475.8,243.0 L475.6,244.6 L474.4,246.2 L475.5,247.8 L475.9,249.4 L475.7,251.0 L475.3,252.6 L476.0,254.2 L475.9,255.8 L475.8,257.4 L474.8,259.0 L476.9,260.6 L475.1,262.2 L477.0,263.8 L475.6,265.4 L475.5,267.0 L474.9,268.6 L475.0,270.2 L474.4,271.8 L475.1,273.4 L474.6,275.0 L477.9,276.6 L476.2,278.2 L475.6,279.8 L475.3,281.4 L475.6,283.0 L475.7,284.6 L478.0,286.2 L475.6,287.8 L475.9,289.4 L475.3,291.0 L477.3,292.6 L474.4,294.2 L477.1,295.8 L474.5,297.4 L476.2,299.0 L475.4,300.6 L477.0,302.2 L475.2,303.8 L477.3,305.4 L476.1,307.0 L476.4,308.6 L475.3,310.2 L475.4,311.8 L476.0,313.4 L476.5,315.0 L474.8,316.6 L477.1,318.2 L476.0,319.8 L477.2,321.4 L474.6,323.0 L476.7,324.6 L474.7,326.2 L477.9,327.8 L476.4,329.4 L475.8,331.0 L476.0,332.6 L476.6,334.2 L474.5,335.8 L478.1,337.4 L476.1,339.0 L477.0,340.6 L476.3,342.2 L476.2,343.8 L474.2,345.4 L477.5,347.0 L476.0,348.6 L475.7,350.2 L474.8,351.8 L476.7,353.4 L474.3,355.0 L477.9,356.6 L475.7,358.2 L477.1,359.8 L475.2,361.4 L476.5,363.0 L475.7,364.6 L476.2,366.2 L474.8,367.8 L475.7,369.4 L474.0,371.0 L474.3,372.6 L471.8,374.2 L470.4,378.6 L468.9,374.2 L467.1,372.6 L467.4,371.0 L464.2,369.4 L465.3,367.8 L464.0,366.2 L466.1,364.6 L464.3,363.0 L464.2,361.4 L464.1,359.8 L464.6,358.2 L462.9,356.6 L465.1,355.0 L462.4,353.4 L463.9,351.8 L465.1,350.2 L464.0,348.6 L464.8,347.0 L464.6,345.4 L463.4,343.8 L465.1,342.2 L462.8,340.6 L464.7,339.0 L463.9,337.4 L464.5,335.8 L464.3,334.2 L463.9,332.6 L463.3,331.0 L465.6,329.4 L463.7,327.8 L464.1,326.2 L464.0,324.6 L464.0,323.0 L462.5,321.4 L464.0,319.8 L463.4,318.2 L464.5,316.6 L464.4,315.0 L465.4,313.4 L462.9,311.8 L464.9,310.2 L464.7,308.6 L465.4,307.0 L463.4,305.4 L465.3,303.8 L462.1,302.2 L464.6,300.6 L462.7,299.0 L464.9,297.4 L464.4,295.8 L464.1,294.2 L463.2,292.6 L464.7,291.0 L463.7,289.4 L465.5,287.8 L462.2,286.2 L465.2,284.6 L462.6,283.0 L464.4,281.4 L462.9,279.8 L465.5,278.2 L463.2,276.6 L464.5,275.0 L462.1,273.4 L463.7,271.8 L464.6,270.2 L465.0,268.6 L464.3,267.0 L463.7,265.4 L462.7,263.8 L464.1,262.2 L462.3,260.6 L464.4,259.0 L464.2,257.4 L464.2,255.8 L462.9,254.2 L465.2,252.6 L463.5,251.0 L464.7,249.4 L463.4,247.8 L463.9,246.2 L462.5,244.6 L463.9,243.0 L464.0,241.4 L464.0,239.8 L463.6,238.2 L463.5,236.6 L464.1,235.0 L464.2,233.4 L462.2,231.8 L463.5,230.2 L462.3,228.6 L464.3,227.0 L464.3,225.4 L466.0,223.8 L466.5,222.2 L468.2,220.6 L469.7,219.0Z M487.5,220.5 L487.4,222.0 L489.0,223.6 L490.6,225.2 L490.7,226.8 L491.8,228.4 L491.5,230.0 L492.8,231.6 L493.4,233.2 L493.8,234.8 L492.1,236.4 L493.6,238.0 L491.8,239.6 L494.9,241.2 L493.5,242.8 L494.7,244.4 L493.9,246.0 L494.7,247.6 L493.3,249.2 L494.2,250.8 L492.9,252.4 L495.2,254.0 L493.2,255.6 L493.2,257.2 L492.6,258.8 L494.6,260.4 L493.0,262.0 L493.6,263.6 L493.6,265.2 L494.8,266.8 L492.6,268.4 L494.3,270.0 L493.8,271.6 L495.2,273.2 L492.5,274.8 L495.3,276.4 L492.2,278.0 L494.5,279.6 L492.4,281.2 L492.8,282.8 L492.4,284.4 L493.8,286.0 L492.7,287.6 L494.0,289.2 L493.4,290.8 L494.2,292.4 L492.9,294.0 L495.2,295.6 L492.5,297.2 L493.9,298.8 L493.1,300.4 L494.6,302.0 L492.4,303.6 L494.5,305.2 L492.9,306.8 L494.6,308.4 L494.0,310.0 L494.8,311.6 L493.2,313.2 L493.6,314.8 L492.9,316.4 L492.9,318.0 L493.0,319.6 L494.4,321.2 L492.9,322.8 L493.2,324.4 L492.6,326.0 L493.7,327.6 L494.0,329.2 L493.5,330.8 L492.1,332.4 L493.2,334.0 L492.1,335.6 L495.6,337.2 L494.2,338.8 L494.5,340.4 L493.6,342.0 L493.8,343.6 L493.0,345.2 L494.5,346.8 L493.1,348.4 L494.6,350.0 L492.1,351.6 L494.5,353.2 L493.0,354.8 L495.5,356.4 L494.1,358.0 L494.8,359.6 L493.5,361.2 L493.3,362.8 L491.5,364.4 L490.3,366.0 L489.1,367.6 L487.9,371.6 L486.8,367.6 L485.5,366.0 L483.9,364.4 L481.8,362.8 L483.3,361.2 L481.1,359.6 L482.0,358.0 L481.0,356.4 L483.0,354.8 L481.6,353.2 L483.6,351.6 L482.2,350.0 L482.6,348.4 L480.8,346.8 L483.0,345.2 L482.3,343.6 L482.9,342.0 L481.6,340.4 L482.1,338.8 L480.5,337.2 L482.9,335.6 L480.2,334.0 L483.0,332.4 L481.2,330.8 L483.5,329.2 L481.2,327.6 L483.1,326.0 L481.8,324.4 L482.5,322.8 L480.3,321.2 L481.9,319.6 L482.5,318.0 L482.4,316.4 L480.7,314.8 L482.5,313.2 L479.7,311.6 L482.2,310.0 L479.8,308.4 L482.8,306.8 L481.5,305.2 L482.5,303.6 L481.6,302.0 L483.5,300.4 L481.0,298.8 L482.6,297.2 L482.0,295.6 L481.5,294.0 L482.0,292.4 L483.1,290.8 L481.6,289.2 L482.8,287.6 L480.7,286.0 L482.9,284.4 L481.2,282.8 L481.7,281.2 L480.7,279.6 L481.9,278.0 L481.5,276.4 L483.0,274.8 L480.9,273.2 L482.1,271.6 L480.0,270.0 L483.0,268.4 L480.7,266.8 L483.2,265.2 L481.7,263.6 L483.0,262.0 L482.4,260.4 L481.6,258.8 L480.1,257.2 L482.2,255.6 L480.9,254.0 L483.1,252.4 L482.1,250.8 L483.0,249.2 L482.2,247.6 L481.4,246.0 L481.1,244.4 L481.8,242.8 L480.6,241.2 L481.9,239.6 L481.0,238.0 L481.7,236.4 L479.6,234.8 L482.1,233.2 L481.3,231.6 L482.5,230.0 L483.0,228.4 L484.4,226.8 L485.4,225.2 L486.2,223.6 L487.7,222.0Z M505.0,226.5 L504.9,228.0 L506.0,229.6 L508.0,231.2 L508.1,232.8 L509.2,234.4 L508.9,236.0 L511.0,237.6 L509.8,239.2 L512.2,240.8 L509.6,242.4 L510.9,244.0 L509.7,245.6 L512.5,247.2 L508.9,248.8 L511.5,250.4 L509.5,252.0 L511.3,253.6 L510.2,255.2 L512.5,256.8 L510.7,258.4 L510.8,260.0 L510.9,261.6 L510.9,263.2 L509.6,264.8 L509.9,266.4 L508.8,268.0 L512.8,269.6 L509.6,271.2 L511.6,272.8 L509.2,274.4 L511.9,276.0 L509.6,277.6 L512.2,279.2 L510.6,280.8 L511.9,282.4 L510.4,284.0 L512.0,285.6 L509.7,287.2 L512.5,288.8 L509.6,290.4 L510.9,292.0 L509.7,293.6 L510.9,295.2 L510.4,296.8 L510.1,298.4 L509.9,300.0 L510.1,301.6 L509.9,303.2 L511.9,304.8 L510.4,306.4 L510.5,308.0 L510.9,309.6 L511.9,311.2 L510.4,312.8 L511.2,314.4 L509.3,316.0 L511.7,317.6 L509.9,319.2 L510.5,320.8 L509.7,322.4 L511.9,324.0 L510.3,325.6 L510.7,327.2 L510.3,328.8 L509.9,330.4 L510.2,332.0 L510.4,333.6 L509.1,335.2 L511.5,336.8 L510.5,338.4 L511.0,340.0 L509.6,341.6 L510.4,343.2 L509.4,344.8 L511.5,346.4 L509.5,348.0 L512.0,349.6 L509.2,351.2 L510.8,352.8 L510.0,354.4 L511.4,356.0 L508.6,357.6 L507.6,359.2 L506.0,360.8 L505.5,362.4 L504.3,365.7 L503.5,362.4 L502.3,360.8 L500.5,359.2 L500.6,357.6 L497.5,356.0 L498.9,354.4 L497.9,352.8 L498.7,351.2 L497.1,349.6 L498.7,348.0 L498.4,346.4 L498.5,344.8 L497.5,343.2 L499.2,341.6 L497.4,340.0 L499.5,338.4 L498.4,336.8 L498.5,335.2 L498.0,333.6 L498.9,332.0 L499.1,330.4 L498.1,328.8 L498.5,327.2 L498.9,325.6 L497.6,324.0 L499.9,322.4 L499.0,320.8 L499.3,319.2 L498.1,317.6 L500.3,316.0 L498.8,314.4 L499.0,312.8 L497.9,311.2 L500.1,309.6 L498.2,308.0 L499.4,306.4 L498.3,304.8 L499.1,303.2 L497.6,301.6 L500.3,300.0 L497.7,298.4 L499.3,296.8 L497.2,295.2 L498.8,293.6 L497.0,292.0 L500.1,290.4 L497.1,288.8 L499.9,287.2 L497.8,285.6 L499.5,284.0 L497.2,282.4 L499.0,280.8 L498.0,279.2 L499.7,277.6 L498.0,276.0 L499.8,274.4 L498.6,272.8 L499.0,271.2 L499.2,269.6 L499.6,268.0 L497.2,266.4 L498.9,264.8 L499.2,263.2 L499.6,261.6 L496.8,260.0 L499.7,258.4 L499.2,256.8 L499.3,255.2 L499.0,253.6 L499.4,252.0 L499.5,250.4 L500.4,248.8 L498.9,247.2 L500.4,245.6 L496.8,244.0 L500.2,242.4 L499.4,240.8 L499.1,239.2 L499.3,237.6 L500.5,236.0 L500.3,234.4 L502.3,232.8 L502.5,231.2 L504.2,229.6 L505.2,228.0Z" fill="currentColor"/><path id="bf" d="M295.0,252.0 l-0.4,0.8M296.9,252.0 l0.2,-0.4M295.0,252.9 l-1.0,0.8M297.1,252.9 l0.8,0.9M295.1,253.8 l-1.8,1.8M297.8,253.8 l0.7,2.7M295.2,254.9 l-0.8,0.8M297.4,254.9 l1.8,0.8M295.6,256.3 l-2.2,2.9M297.0,256.3 l1.9,-0.3M295.3,257.1 l-2.4,-0.2M296.6,257.1 l3.1,1.8M296.3,258.3 l-2.8,-0.3M297.1,258.3 l1.7,0.6M295.3,259.8 l-2.3,0.8M296.9,259.8 l4.6,1.4M296.2,261.1 l-2.6,0.5M297.5,261.1 l2.0,2.9M296.4,262.3 l-6.2,2.0M297.2,262.3 l4.0,2.6M295.9,263.1 l-6.1,-0.4M297.6,263.1 l6.1,1.1M295.5,264.5 l-2.5,2.4M296.9,264.5 l3.1,2.1M295.5,265.3 l-5.1,0.9M297.2,265.3 l2.7,1.4M296.0,266.5 l-8.3,2.6M296.8,266.5 l7.1,1.8M296.4,267.8 l-5.8,0.3M296.6,267.8 l5.6,1.9M295.9,268.7 l-8.0,1.9M297.4,268.7 l4.5,1.7M295.4,269.9 l-6.0,1.8M297.2,269.9 l3.3,1.3M296.2,271.0 l-7.3,0.3M297.7,271.0 l4.6,0.2M295.0,272.0 l-7.8,2.0M297.5,272.0 l4.0,0.5M295.3,273.0 l-3.8,-0.4M297.5,273.0 l5.6,-0.1M296.0,273.9 l-5.8,2.7M298.0,273.9 l3.0,2.5M295.3,275.1 l-6.3,1.6M296.7,275.1 l6.3,0.1M296.2,276.2 l-6.5,-0.3M296.6,276.2 l6.2,1.3M295.6,277.1 l-4.9,1.9M297.6,277.1 l7.0,1.9M296.5,278.2 l-3.9,2.2M297.5,278.2 l5.9,-0.5M295.7,279.1 l-2.8,2.2M296.5,279.1 l3.1,2.4M295.0,280.0 l-3.7,2.2M297.3,280.0 l8.3,2.0M296.1,281.4 l-8.7,1.6M298.0,281.4 l6.6,2.1M296.5,282.4 l-3.0,1.1M297.3,282.4 l7.2,1.6M295.6,283.5 l-8.2,2.6M297.0,283.5 l8.0,2.4M295.5,285.0 l-4.3,2.2M297.5,285.0 l3.4,-0.4M295.5,286.0 l-3.5,2.1M297.9,286.0 l5.4,0.4M295.1,286.9 l-7.2,0.4M297.7,286.9 l8.0,0.2M295.1,288.3 l-7.1,1.3M297.9,288.3 l4.0,1.8M295.3,289.6 l-6.9,1.9M297.0,289.6 l6.3,1.4M295.2,291.0 l-3.0,0.7M297.2,291.0 l6.3,0.4M296.1,291.9 l-4.0,2.8M297.0,291.9 l6.6,0.8M296.5,292.9 l-3.0,1.2M297.7,292.9 l3.3,1.4M295.2,294.1 l-4.1,1.9M296.8,294.1 l8.8,0.9M295.5,295.6 l-3.5,-0.5M298.1,295.6 l7.4,2.7M296.3,296.5 l-6.8,1.2M296.8,296.5 l7.6,1.3M295.2,297.8 l-6.1,1.8M296.7,297.8 l3.9,-0.1M296.5,299.3 l-4.1,2.2M297.9,299.3 l2.8,1.2M295.5,300.6 l-3.6,2.0M297.9,300.6 l5.0,0.1M296.1,301.9 l-6.1,1.5M296.7,301.9 l7.9,1.1M295.4,303.2 l-3.4,0.4M297.4,303.2 l8.6,2.8M295.5,304.5 l-4.9,1.3M297.2,304.5 l3.2,1.5M295.4,305.3 l-3.9,2.3M298.0,305.3 l7.7,2.9M295.6,306.1 l-8.0,-0.2M297.4,306.1 l7.4,0.7M295.8,307.6 l-4.3,0.3M296.9,307.6 l3.1,0.2M296.1,308.5 l-8.2,1.4M297.9,308.5 l8.6,2.9M296.1,309.9 l-7.1,1.6M297.2,309.9 l8.8,1.9M296.2,311.1 l-5.1,-0.1M297.3,311.1 l5.9,1.0M295.8,311.9 l-3.3,2.7M298.0,311.9 l5.8,2.4M296.4,312.9 l-6.6,2.6M297.8,312.9 l8.5,1.3M295.8,313.7 l-5.9,1.8M296.9,313.7 l3.5,1.5M295.6,314.9 l-6.5,-0.2M298.1,314.9 l6.9,1.8M295.4,315.8 l-2.8,2.7M297.9,315.8 l4.6,2.1M296.0,317.2 l-4.3,2.7M297.1,317.2 l8.0,1.7M295.6,318.4 l-6.6,2.9M296.7,318.4 l3.7,0.6M295.6,319.9 l-5.7,2.7M298.1,319.9 l2.9,0.2M295.6,320.8 l-7.8,0.4M297.3,320.8 l4.0,2.3M295.7,321.7 l-3.1,-0.4M297.4,321.7 l6.6,0.1M296.5,322.7 l-4.4,1.8M298.2,322.7 l3.3,0.7M295.6,324.1 l-7.4,2.4M297.4,324.1 l4.6,1.1M295.7,324.9 l-4.0,0.6M297.6,324.9 l5.3,1.3M295.9,325.7 l-4.4,-0.2M296.9,325.7 l3.6,-0.4M296.5,326.6 l-7.1,-0.2M297.9,326.6 l6.6,1.3M295.7,328.0 l-3.9,1.3M297.4,328.0 l7.8,0.6M296.5,329.2 l-2.9,2.9M297.8,329.2 l4.9,1.6M296.3,330.6 l-3.4,2.6M297.2,330.6 l5.5,2.3M296.1,332.1 l-7.0,2.2M297.9,332.1 l4.6,1.2M295.5,333.2 l-5.0,0.7M297.1,333.2 l8.7,2.3M295.3,334.3 l-8.6,3.0M297.4,334.3 l7.4,2.5M295.4,335.4 l-7.8,-0.2M297.8,335.4 l3.3,1.2M296.3,336.8 l-8.0,1.8M297.1,336.8 l3.5,0.4M295.3,337.7 l-7.3,1.1M298.1,337.7 l3.3,1.6M295.8,338.9 l-5.8,1.0M296.9,338.9 l3.4,2.8M296.6,339.9 l-7.7,0.3M298.1,339.9 l2.9,0.4M296.3,340.7 l-5.9,0.1M298.0,340.7 l3.3,2.6M295.3,341.6 l-4.6,2.9M297.1,341.6 l6.9,1.9M295.7,342.5 l-8.4,1.7M298.3,342.5 l7.7,1.6M296.5,343.6 l-6.1,-0.4M297.1,343.6 l5.5,0.9M296.4,344.8 l-3.4,1.3M297.7,344.8 l6.8,1.7M295.8,346.2 l-3.1,-0.1M297.0,346.2 l3.6,1.1M295.6,347.4 l-4.5,2.8M297.4,347.4 l4.7,2.1M295.9,348.8 l-6.5,-0.0M298.1,348.8 l4.5,0.1M296.1,350.2 l-8.3,0.5M297.3,350.2 l8.0,2.7M296.5,351.0 l-7.5,2.0M297.7,351.0 l2.8,0.6M295.6,351.9 l-6.6,1.0M297.6,351.9 l6.5,2.3M296.6,352.9 l-4.3,1.2M296.9,352.9 l8.3,1.6M295.7,354.0 l-8.8,1.1M297.5,354.0 l7.4,2.7M296.8,354.9 l-3.5,2.1M297.4,354.9 l8.0,2.3M296.7,355.9 l-7.4,2.2M298.2,355.9 l4.7,-0.1M295.9,357.2 l-7.0,1.2M297.1,357.2 l8.4,0.6M295.8,358.2 l-7.0,-0.0M298.1,358.2 l3.7,1.2M296.6,359.2 l-8.8,1.1M297.5,359.2 l2.8,1.7M296.3,360.7 l-6.7,-0.2M298.0,360.7 l4.0,1.1M295.5,361.7 l-7.2,1.1M297.5,361.7 l6.8,0.8M295.8,362.6 l-6.8,2.5M298.3,362.6 l6.3,1.9M296.3,363.8 l-7.8,2.5M298.3,363.8 l4.6,2.9M296.0,364.7 l-5.2,-0.2M297.5,364.7 l7.6,2.3M296.3,365.5 l-5.6,2.6M298.3,365.5 l7.5,2.6M295.9,366.9 l-4.6,2.4M297.3,366.9 l7.4,0.5M295.7,367.9 l-8.3,1.7M298.3,367.9 l8.7,-0.0M296.9,369.4 l-7.2,2.5M297.4,369.4 l3.0,-0.3M296.7,370.2 l-6.1,1.3M298.1,370.2 l4.3,-0.3M295.9,371.3 l-6.0,0.8M297.0,371.3 l7.2,2.8M296.7,372.5 l-3.7,3.0M298.4,372.5 l3.1,1.0M296.6,373.6 l-6.0,1.7M297.8,373.6 l4.4,1.2M296.3,375.0 l-3.6,0.8M297.7,375.0 l7.8,0.3M295.7,375.9 l-7.1,1.1M298.1,375.9 l6.1,1.6M295.9,376.9 l-8.8,-0.2M297.0,376.9 l3.6,-0.3M295.9,378.1 l-4.4,2.5M297.0,378.1 l6.4,0.4M295.7,379.5 l-4.1,3.0M298.4,379.5 l5.3,1.5M296.8,380.6 l-4.3,2.7M297.1,380.6 l6.1,2.0M295.5,382.1 l-4.8,2.7M297.7,382.1 l5.2,1.7M296.9,382.9 l-5.3,2.2M298.1,382.9 l4.4,-0.1M295.7,383.8 l-2.9,1.7M297.7,383.8 l1.8,0.5M295.7,384.6 l-2.1,0.3M298.5,384.6 l3.2,1.9M296.8,386.1 l-1.9,-0.3M297.5,386.1 l1.5,2.0M296.3,387.6 l-1.0,-0.5M297.5,387.6 l0.4,-0.1M313.4,246.0 l-0.5,1.0M314.7,246.0 l0.7,1.6M312.8,247.3 l-0.6,-0.3M314.1,247.3 l1.1,0.7M312.7,248.5 l-0.8,2.2M314.8,248.5 l2.0,2.8M313.4,249.8 l-1.9,1.7M314.4,249.8 l1.4,2.9M312.8,251.1 l-3.3,2.2M314.9,251.1 l2.9,1.7M313.0,252.2 l-2.8,2.9M314.1,252.2 l2.2,2.3M313.5,253.6 l-2.8,0.9M313.7,253.6 l4.4,0.0M312.9,255.1 l-3.8,2.4M314.4,255.1 l2.7,0.2M313.6,256.3 l-4.9,2.4M314.1,256.3 l4.3,0.1M313.7,257.3 l-4.4,1.3M314.4,257.3 l6.8,1.1M313.5,258.7 l-6.0,2.4M314.2,258.7 l2.7,2.4M312.7,259.6 l-5.0,2.1M314.1,259.6 l7.5,2.2M312.3,260.9 l-6.7,-0.2M314.6,260.9 l5.4,2.6M313.0,262.2 l-5.9,0.1M314.9,262.2 l6.6,2.6M312.6,263.6 l-3.5,0.9M315.1,263.6 l8.3,2.8M313.8,264.9 l-7.4,-0.3M314.5,264.9 l8.3,0.5M313.7,266.0 l-4.2,-0.2M315.2,266.0 l7.2,0.8M313.5,267.0 l-5.9,0.4M315.0,267.0 l5.6,2.2M313.7,267.9 l-4.0,2.5M314.8,267.9 l3.8,-0.2M312.8,269.2 l-4.2,2.6M313.9,269.2 l4.3,1.5M313.3,270.2 l-7.2,-0.5M315.1,270.2 l7.1,3.0M313.6,271.5 l-6.4,-0.4M314.6,271.5 l5.4,0.8M312.6,272.4 l-7.1,-0.2M314.1,272.4 l7.9,0.8M312.8,273.7 l-6.7,0.2M314.9,273.7 l5.0,1.6M313.6,274.8 l-8.5,2.3M313.9,274.8 l8.5,2.5M313.4,276.2 l-4.9,1.4M314.1,276.2 l8.4,2.3M312.4,277.4 l-3.4,0.4M315.2,277.4 l3.6,1.1M313.9,278.5 l-4.4,1.2M314.5,278.5 l4.5,2.2M313.4,279.9 l-6.0,0.5M314.1,279.9 l3.1,2.8M313.3,281.0 l-7.7,0.1M315.0,281.0 l7.8,1.0M313.2,282.1 l-8.6,1.2M315.2,282.1 l4.8,0.2M312.9,283.0 l-5.2,2.7M315.0,283.0 l7.2,2.1M313.7,284.0 l-6.8,1.7M314.8,284.0 l3.8,0.5M313.5,285.1 l-6.0,-0.0M314.5,285.1 l8.6,0.1M312.5,286.1 l-5.4,1.9M315.4,286.1 l7.8,0.9M313.8,287.3 l-6.4,1.4M314.0,287.3 l6.0,0.2M312.8,288.6 l-7.7,-0.1M315.3,288.6 l8.2,1.3M313.2,289.5 l-8.5,2.5M314.1,289.5 l2.8,3.0M313.2,290.8 l-2.9,1.9M315.2,290.8 l5.1,0.4M313.2,292.0 l-6.0,-0.3M315.5,292.0 l5.7,2.8M313.1,292.9 l-7.4,0.5M314.3,292.9 l6.6,1.6M313.4,294.3 l-8.1,0.3M314.8,294.3 l7.3,1.1M313.0,295.2 l-7.5,0.9M315.2,295.2 l8.3,0.8M313.4,296.6 l-4.6,-0.4M315.0,296.6 l3.2,1.2M313.0,297.9 l-6.3,1.8M314.3,297.9 l3.4,2.1M313.9,299.0 l-7.0,1.7M315.2,299.0 l7.9,2.2M313.6,300.3 l-5.1,0.0M314.3,300.3 l3.5,-0.0M312.8,301.1 l-5.9,2.0M315.1,301.1 l3.1,1.0M313.9,302.0 l-8.0,1.8M314.9,302.0 l5.3,1.7M312.7,303.0 l-6.7,0.7M314.9,303.0 l6.0,-0.2M312.9,304.1 l-4.1,2.6M314.5,304.1 l4.5,1.7M314.1,305.6 l-7.8,1.7M314.7,305.6 l4.3,1.6M313.9,306.9 l-4.6,2.5M315.1,306.9 l5.2,0.9M313.1,308.2 l-7.9,0.4M315.0,308.2 l4.1,-0.2M313.7,309.0 l-6.0,2.8M314.5,309.0 l8.8,2.4M313.2,310.3 l-3.6,2.3M314.6,310.3 l6.5,3.0M313.1,311.7 l-5.9,-0.3M314.8,311.7 l8.2,0.7M314.2,312.6 l-8.4,2.2M315.0,312.6 l7.7,0.6M313.0,313.7 l-5.6,2.5M314.4,313.7 l7.1,-0.2M312.9,314.7 l-6.9,-0.5M315.2,314.7 l5.7,0.1M314.1,315.6 l-5.3,0.6M314.4,315.6 l3.3,0.2M314.0,317.0 l-6.3,0.7M315.7,317.0 l4.5,1.9M313.3,318.2 l-3.6,1.6M314.4,318.2 l7.5,2.4M313.0,319.6 l-8.7,1.6M314.7,319.6 l5.3,2.5M313.8,320.9 l-7.7,0.7M314.4,320.9 l8.7,2.7M313.1,322.3 l-5.7,2.9M315.3,322.3 l7.5,1.8M313.9,323.8 l-7.3,0.4M314.5,323.8 l7.2,0.1M313.9,324.6 l-7.4,2.8M315.7,324.6 l7.8,1.6M313.4,325.5 l-7.7,2.5M315.6,325.5 l3.0,0.8M313.7,326.5 l-7.7,2.7M315.8,326.5 l4.7,0.7M313.7,327.3 l-5.6,-0.2M315.2,327.3 l5.3,1.3M313.8,328.2 l-8.2,0.6M315.6,328.2 l3.7,0.6M314.3,329.7 l-7.7,1.6M315.2,329.7 l4.5,1.4M314.3,331.1 l-6.9,1.0M315.0,331.1 l7.8,-0.4M314.0,332.6 l-7.7,1.5M315.7,332.6 l8.5,0.8M314.2,333.6 l-7.1,2.5M314.4,333.6 l3.7,0.6M313.4,334.9 l-8.0,-0.5M314.8,334.9 l4.1,2.8M313.1,335.8 l-7.2,0.7M314.6,335.8 l6.8,2.4M313.8,337.0 l-8.7,1.4M315.6,337.0 l3.4,1.4M313.5,338.3 l-5.1,1.5M314.5,338.3 l5.5,0.8M313.7,339.2 l-3.0,0.4M315.4,339.2 l4.0,1.3M313.7,340.2 l-7.0,0.5M314.8,340.2 l8.3,1.7M313.7,341.2 l-3.4,2.7M315.6,341.2 l5.4,2.2M314.0,342.1 l-3.1,0.0M314.9,342.1 l5.3,2.1M313.4,343.6 l-4.7,-0.4M315.3,343.6 l8.1,2.2M313.5,344.7 l-3.0,1.5M314.7,344.7 l7.9,2.2M313.5,345.8 l-7.2,2.8M315.3,345.8 l6.1,1.0M314.3,347.3 l-6.8,2.9M314.7,347.3 l6.8,0.2M314.5,348.7 l-3.4,0.9M315.1,348.7 l3.0,1.1M314.5,350.2 l-8.8,0.3M314.8,350.2 l8.3,1.5M313.2,351.3 l-8.5,0.4M315.6,351.3 l7.7,0.3M313.1,352.6 l-3.1,0.3M315.8,352.6 l6.0,2.8M313.9,354.0 l-6.3,2.8M315.7,354.0 l5.4,1.6M313.4,355.1 l-3.8,0.7M315.6,355.1 l3.8,0.6M313.5,356.4 l-5.0,0.1M314.9,356.4 l5.4,1.4M313.7,357.5 l-6.7,0.2M316.0,357.5 l3.1,0.5M314.4,358.8 l-8.2,2.5M316.0,358.8 l4.6,0.9M313.9,359.9 l-6.8,1.2M315.7,359.9 l7.4,1.9M313.2,361.1 l-7.3,-0.4M315.2,361.1 l6.2,0.7M313.9,362.4 l-5.4,1.0M315.4,362.4 l4.1,0.7M314.3,363.3 l-6.7,1.2M316.0,363.3 l7.3,0.6M314.2,364.4 l-7.1,1.3M315.5,364.4 l4.1,0.9M314.5,365.5 l-8.0,2.2M314.9,365.5 l3.0,-0.4M314.3,366.5 l-3.4,1.4M315.5,366.5 l5.8,0.8M313.9,367.7 l-3.0,2.6M315.4,367.7 l5.1,2.6M314.3,368.5 l-8.5,1.7M315.8,368.5 l7.9,1.6M314.2,369.8 l-8.6,1.7M315.5,369.8 l6.3,2.0M313.8,371.1 l-3.8,2.3M314.8,371.1 l4.2,1.4M313.3,372.5 l-5.8,1.8M315.9,372.5 l4.7,0.9M313.7,373.3 l-4.7,1.3M314.9,373.3 l7.2,-0.2M314.3,374.4 l-3.5,1.9M315.3,374.4 l8.3,2.9M314.3,375.8 l-6.6,0.6M315.8,375.8 l7.9,2.5M313.8,376.7 l-8.3,2.7M316.2,376.7 l4.4,2.6M313.7,377.8 l-6.8,1.2M316.0,377.8 l5.2,1.2M313.5,379.0 l-4.9,2.1M315.9,379.0 l5.2,1.1M314.2,380.4 l-5.4,0.4M315.1,380.4 l6.6,1.7M314.4,381.3 l-7.0,2.9M316.0,381.3 l7.8,1.7M313.9,382.3 l-4.7,2.5M315.5,382.3 l3.0,2.5M314.7,383.2 l-6.9,0.5M315.3,383.2 l6.1,0.3M314.5,384.6 l-4.4,2.8M315.3,384.6 l5.7,1.0M313.4,386.0 l-5.9,1.6M315.7,386.0 l3.9,-0.2M314.0,386.8 l-5.7,0.2M316.0,386.8 l5.8,-0.0M314.0,388.2 l-3.9,2.7M316.3,388.2 l6.8,2.3M313.8,389.1 l-5.0,0.4M316.2,389.1 l3.2,2.2M313.6,390.2 l-3.3,2.4M316.1,390.2 l5.0,2.5M314.4,391.6 l-3.8,2.6M316.4,391.6 l1.4,1.7M314.4,392.6 l-1.8,1.1M315.6,392.6 l1.6,-0.2M314.2,393.9 l-1.8,1.0M315.8,393.9 l1.6,2.0M314.1,394.8 l-1.0,2.2M315.7,394.8 l1.0,1.6M329.7,238.5 l-0.7,1.4M330.8,238.5 l0.3,-0.1M329.7,239.5 l-0.5,2.0M332.0,239.5 l1.2,1.1M329.7,240.9 l-1.3,1.8M332.1,240.9 l1.6,2.3M329.2,242.1 l-1.2,0.6M330.8,242.1 l1.6,1.7M329.7,243.4 l-3.5,0.3M331.9,243.4 l3.1,2.6M329.8,244.4 l-2.4,0.3M331.7,244.4 l3.8,0.6M330.1,245.7 l-4.5,2.6M331.4,245.7 l3.3,1.6M330.4,246.6 l-4.7,2.6M330.8,246.6 l3.0,0.6M330.5,247.9 l-3.6,1.4M332.0,247.9 l3.3,1.8M329.6,249.2 l-5.2,1.4M331.1,249.2 l3.3,-0.1M330.3,250.5 l-5.2,1.3M332.2,250.5 l3.1,1.1M330.0,251.9 l-3.2,1.3M331.0,251.9 l7.3,1.9M330.7,253.1 l-5.4,0.3M332.1,253.1 l4.1,1.0M329.5,254.0 l-4.4,1.9M331.9,254.0 l4.8,2.4M329.4,254.9 l-4.5,2.9M331.6,254.9 l2.8,2.3M329.5,255.9 l-7.9,-0.1M331.0,255.9 l6.0,-0.3M329.3,257.4 l-4.8,1.3M331.0,257.4 l3.7,2.8M330.4,258.3 l-8.3,1.6M331.4,258.3 l2.8,-0.2M330.2,259.1 l-5.8,2.0M332.1,259.1 l7.5,2.4M329.9,260.5 l-3.9,1.4M332.1,260.5 l7.3,0.3M330.0,261.7 l-3.0,2.8M332.0,261.7 l8.5,1.2M330.7,262.8 l-8.4,0.2M332.0,262.8 l5.8,-0.1M330.5,263.7 l-5.4,1.9M331.5,263.7 l5.3,0.3M330.1,265.0 l-6.4,1.5M331.9,265.0 l8.2,-0.3M329.9,266.1 l-3.7,1.5M332.0,266.1 l8.0,1.2M330.0,267.4 l-5.8,1.5M331.1,267.4 l4.3,1.1M330.4,268.7 l-3.5,2.3M331.0,268.7 l5.6,-0.1M330.6,270.0 l-5.3,1.2M331.2,270.0 l8.0,-0.1M330.0,271.2 l-3.8,1.6M331.4,271.2 l8.7,0.8M330.5,272.2 l-6.6,1.7M332.3,272.2 l3.8,2.3M330.9,273.1 l-8.2,-0.3M331.1,273.1 l6.3,1.1M330.3,274.1 l-5.8,2.5M331.5,274.1 l6.0,-0.1M329.6,275.0 l-6.2,-0.3M332.0,275.0 l6.4,1.4M330.5,276.1 l-5.1,1.0M331.2,276.1 l7.3,-0.1M329.8,277.1 l-6.2,2.6M332.2,277.1 l5.3,1.6M330.2,277.9 l-4.9,1.9M331.2,277.9 l8.6,2.8M329.7,279.0 l-5.7,1.5M331.8,279.0 l4.3,2.6M329.8,280.1 l-6.7,0.6M332.5,280.1 l6.1,0.9M331.0,281.0 l-3.7,0.6M332.4,281.0 l2.9,1.6M330.5,282.2 l-2.9,1.2M332.3,282.2 l4.3,1.8M330.2,283.3 l-2.9,-0.4M332.1,283.3 l5.4,-0.1M331.1,284.5 l-6.4,2.9M331.4,284.5 l3.1,2.0M330.9,285.7 l-6.9,1.8M331.8,285.7 l8.1,3.0M331.0,287.0 l-8.1,1.6M332.1,287.0 l5.4,1.7M330.6,288.5 l-8.4,0.1M331.5,288.5 l4.2,2.2M330.1,289.4 l-7.2,0.4M331.2,289.4 l4.2,-0.3M329.8,290.5 l-5.7,1.0M331.9,290.5 l8.1,0.4M330.9,291.8 l-6.0,1.0M331.7,291.8 l2.9,2.3M330.4,292.8 l-6.2,1.1M331.3,292.8 l6.4,3.0M330.6,293.7 l-4.4,2.1M332.5,293.7 l6.3,0.1M331.1,294.9 l-5.9,0.2M331.9,294.9 l5.4,0.1M329.9,295.8 l-3.2,1.9M331.5,295.8 l8.4,1.2M330.6,297.2 l-8.1,0.5M332.4,297.2 l6.0,0.3M331.0,298.2 l-5.2,1.3M331.3,298.2 l5.4,1.5M330.6,299.4 l-5.8,0.2M332.2,299.4 l4.5,-0.4M330.2,300.6 l-7.7,2.7M332.2,300.6 l3.9,0.2M330.3,301.7 l-5.9,0.9M332.6,301.7 l6.6,1.5M330.7,302.7 l-8.6,0.2M331.4,302.7 l6.4,-0.1M329.9,303.9 l-2.8,1.9M331.9,303.9 l3.3,1.8M330.5,305.2 l-8.5,1.8M332.6,305.2 l7.7,2.1M330.2,306.6 l-6.7,1.4M332.0,306.6 l6.7,0.9M330.1,307.7 l-4.1,1.2M332.9,307.7 l6.3,1.1M330.9,308.5 l-7.8,0.7M332.5,308.5 l4.7,2.5M330.0,309.5 l-6.7,1.3M331.6,309.5 l6.5,1.4M330.0,310.4 l-6.8,2.8M332.4,310.4 l6.2,2.9M331.2,311.4 l-7.8,0.0M332.0,311.4 l4.7,1.4M330.4,312.5 l-4.4,1.6M332.5,312.5 l6.8,0.4M330.7,313.5 l-3.7,2.2M332.1,313.5 l8.8,2.0M331.1,314.4 l-4.9,1.2M331.6,314.4 l4.1,-0.3M331.0,315.3 l-4.2,2.2M333.0,315.3 l8.0,-0.3M330.3,316.2 l-5.9,0.9M332.9,316.2 l5.5,0.9M331.1,317.1 l-4.6,-0.5M331.8,317.1 l7.5,1.8M331.4,318.1 l-6.5,0.0M332.9,318.1 l6.2,2.4M330.1,319.0 l-7.6,1.5M333.0,319.0 l5.3,0.7M330.5,320.0 l-5.8,0.0M332.7,320.0 l7.2,0.7M330.4,320.8 l-8.4,0.3M332.6,320.8 l6.1,2.8M330.2,322.1 l-8.7,0.4M331.7,322.1 l4.7,0.8M330.4,323.3 l-6.9,2.1M333.0,323.3 l7.8,2.5M330.9,324.5 l-8.0,0.2M332.9,324.5 l3.2,0.3M330.4,325.5 l-8.2,1.9M332.8,325.5 l8.6,2.3M331.4,326.5 l-7.5,2.6M331.9,326.5 l8.4,0.5M330.8,327.9 l-7.6,0.7M331.8,327.9 l6.4,0.2M330.8,329.1 l-4.8,2.5M332.9,329.1 l5.9,2.3M330.9,330.3 l-8.5,1.9M332.1,330.3 l8.6,1.4M331.3,331.4 l-5.9,1.6M333.2,331.4 l2.8,2.4M331.6,332.8 l-2.9,1.3M332.3,332.8 l6.9,1.6M330.8,334.3 l-5.8,-0.0M332.7,334.3 l4.6,1.4M331.1,335.8 l-3.5,0.9M333.0,335.8 l6.4,1.8M330.3,336.9 l-7.5,-0.2M332.2,336.9 l4.7,0.9M330.7,338.4 l-6.2,1.6M332.3,338.4 l3.4,2.3M330.5,339.5 l-6.7,2.9M332.1,339.5 l4.4,0.1M331.6,340.9 l-4.0,0.5M331.9,340.9 l8.1,0.6M331.1,341.9 l-8.7,2.2M332.1,341.9 l8.3,0.3M331.2,343.1 l-3.9,0.9M333.2,343.1 l4.9,0.7M331.0,344.4 l-3.5,2.2M332.5,344.4 l7.2,0.2M331.6,345.7 l-6.9,2.6M332.4,345.7 l7.3,-0.4M330.8,347.1 l-5.7,2.9M332.6,347.1 l6.9,1.0M331.1,348.5 l-4.9,0.3M332.9,348.5 l8.6,-0.1M331.8,349.6 l-4.8,0.8M332.2,349.6 l8.4,-0.3M331.3,350.7 l-8.7,-0.0M332.8,350.7 l7.0,1.1M330.5,352.2 l-7.2,2.0M332.0,352.2 l4.5,0.3M331.3,353.6 l-7.0,2.5M333.2,353.6 l8.5,0.7M330.9,355.1 l-7.5,1.9M333.4,355.1 l4.4,1.7M331.2,356.3 l-8.3,1.9M332.8,356.3 l3.8,0.7M331.5,357.5 l-4.3,0.2M332.1,357.5 l6.0,2.4M331.6,359.0 l-3.0,0.8M333.3,359.0 l6.5,1.1M332.0,360.2 l-7.9,-0.2M333.2,360.2 l5.0,0.8M330.6,361.4 l-5.7,0.0M332.6,361.4 l5.3,2.3M331.9,362.4 l-6.9,-0.3M332.5,362.4 l6.4,-0.4M331.8,363.8 l-3.5,0.6M332.4,363.8 l4.2,-0.1M331.9,365.3 l-2.9,1.7M333.5,365.3 l4.3,1.3M331.5,366.6 l-2.9,0.8M333.5,366.6 l6.5,0.9M331.4,367.5 l-5.4,1.5M332.5,367.5 l3.4,0.4M331.4,368.6 l-3.7,-0.0M333.4,368.6 l6.8,0.0M331.8,369.8 l-5.0,2.3M333.4,369.8 l3.9,1.3M331.2,370.9 l-6.8,1.4M332.4,370.9 l7.9,1.4M331.0,371.9 l-6.0,2.8M332.5,371.9 l8.3,0.3M330.9,373.0 l-8.3,2.4M332.5,373.0 l6.1,-0.4M331.6,374.2 l-4.4,-0.5M332.2,374.2 l7.9,1.7M331.8,375.5 l-7.4,2.2M332.8,375.5 l3.1,0.8M330.9,376.4 l-5.8,1.5M333.0,376.4 l4.9,2.7M331.8,377.3 l-7.9,1.2M333.5,377.3 l3.4,1.8M331.7,378.7 l-3.6,0.4M333.3,378.7 l5.5,2.8M331.6,379.9 l-3.5,2.1M333.0,379.9 l3.6,1.9M331.1,380.7 l-2.9,1.8M333.7,380.7 l6.9,2.2M330.8,381.9 l-8.1,2.6M332.6,381.9 l8.5,2.9M332.3,382.8 l-5.2,0.3M332.4,382.8 l3.9,0.1M331.3,383.9 l-3.2,1.8M332.7,383.9 l7.1,2.3M331.0,385.0 l-6.7,2.8M332.7,385.0 l7.5,1.4M331.2,385.9 l-6.0,2.8M333.5,385.9 l4.0,0.7M331.5,386.8 l-5.9,1.2M333.7,386.8 l8.0,0.2M331.0,388.3 l-7.9,2.0M333.0,388.3 l5.9,1.3M331.6,389.6 l-7.0,2.5M332.8,389.6 l7.5,2.9M331.3,391.0 l-7.1,1.8M332.8,391.0 l8.0,-0.0M332.0,391.9 l-5.9,0.8M332.5,391.9 l4.5,-0.5M331.3,393.3 l-2.5,0.9M333.7,393.3 l6.3,2.4M331.6,394.6 l-4.2,0.3M332.6,394.6 l2.4,0.5M332.1,395.6 l-4.3,0.6M332.9,395.6 l2.3,-0.3M331.0,396.6 l-2.5,0.7M333.2,396.6 l1.9,2.4M331.6,397.8 l-1.7,2.8M333.2,397.8 l1.5,0.4M332.1,399.2 l-1.2,1.6M333.5,399.2 l1.0,-0.3M346.9,234.6 l-0.3,1.9M348.3,234.6 l0.3,2.2M345.9,235.9 l-1.1,1.4M347.7,235.9 l0.9,1.9M347.0,236.7 l-1.2,2.8M347.7,236.7 l0.8,1.5M346.4,237.8 l-1.3,0.4M348.1,237.8 l0.9,0.4M345.9,238.9 l-2.6,1.7M347.5,238.9 l3.0,1.0M346.8,240.3 l-1.6,1.8M347.3,240.3 l1.9,-0.5M346.8,241.7 l-3.7,2.8M348.4,241.7 l3.3,-0.1M345.8,243.0 l-2.8,-0.3M347.6,243.0 l2.7,2.0M346.5,244.2 l-5.6,0.6M348.1,244.2 l4.4,2.6M346.5,245.6 l-4.2,0.4M348.4,245.6 l4.5,1.4M345.9,246.6 l-5.4,-0.5M348.2,246.6 l5.4,1.6M346.9,247.6 l-5.4,0.7M348.2,247.6 l6.2,0.6M345.8,248.9 l-6.3,0.5M347.9,248.9 l5.4,1.0M345.9,250.4 l-6.8,1.5M348.5,250.4 l8.0,2.4M347.1,251.6 l-4.5,1.2M347.7,251.6 l7.6,1.3M346.9,252.6 l-5.5,2.9M347.6,252.6 l4.1,1.1M347.1,253.8 l-8.7,-0.2M347.8,253.8 l5.3,0.7M346.5,255.1 l-3.3,2.9M348.5,255.1 l5.4,-0.1M347.4,256.2 l-3.8,-0.2M347.5,256.2 l6.6,2.7M346.3,257.5 l-7.8,-0.3M348.1,257.5 l6.2,0.5M347.0,258.4 l-3.4,1.9M348.7,258.4 l6.4,0.3M346.8,259.5 l-6.2,-0.2M348.0,259.5 l3.3,1.2M346.1,260.7 l-4.4,2.9M348.9,260.7 l4.5,1.6M347.3,261.5 l-3.4,2.4M348.2,261.5 l2.9,-0.1M346.7,262.7 l-7.5,0.1M348.9,262.7 l8.0,1.2M347.2,264.1 l-5.2,1.9M347.8,264.1 l5.6,0.5M347.3,265.1 l-3.3,2.8M348.7,265.1 l7.1,1.7M347.6,266.5 l-5.0,0.4M347.8,266.5 l4.5,1.1M346.4,267.3 l-7.9,-0.4M348.5,267.3 l8.6,0.6M346.8,268.6 l-6.9,2.9M347.7,268.6 l7.9,2.0M347.1,269.5 l-6.6,0.2M348.3,269.5 l7.8,0.1M346.7,270.7 l-5.7,1.4M349.2,270.7 l5.9,0.2M347.4,271.6 l-6.5,2.9M348.1,271.6 l6.9,0.8M347.8,272.6 l-8.1,1.6M348.7,272.6 l6.1,0.0M346.7,273.7 l-5.0,1.2M348.0,273.7 l8.8,-0.5M347.5,274.9 l-6.4,1.5M348.4,274.9 l3.3,2.1M346.9,276.1 l-5.4,2.9M349.2,276.1 l6.8,-0.1M346.5,277.2 l-4.9,-0.4M348.5,277.2 l8.5,-0.1M347.2,278.6 l-3.7,0.5M348.6,278.6 l3.3,1.5M346.5,279.9 l-8.2,-0.2M348.6,279.9 l4.9,0.4M347.0,280.7 l-6.3,1.8M349.3,280.7 l3.7,0.7M347.3,282.1 l-4.0,1.6M349.5,282.1 l7.0,0.8M347.7,283.2 l-8.6,0.0M348.4,283.2 l6.8,-0.0M347.6,284.4 l-5.8,0.0M348.3,284.4 l6.9,1.2M347.4,285.9 l-7.2,3.0M349.1,285.9 l8.6,2.1M346.6,287.0 l-3.3,0.3M348.7,287.0 l5.3,1.7M347.9,288.1 l-6.8,1.4M348.5,288.1 l3.5,2.1M346.8,289.6 l-7.0,2.6M349.0,289.6 l4.4,1.4M346.7,291.0 l-2.8,0.2M348.7,291.0 l5.6,1.9M346.8,292.4 l-6.7,1.4M348.2,292.4 l8.7,0.7M348.2,293.3 l-8.6,0.5M348.4,293.3 l3.9,0.5M348.0,294.2 l-5.1,0.5M348.5,294.2 l8.3,1.0M347.9,295.5 l-5.3,0.0M348.7,295.5 l7.4,1.4M347.5,296.7 l-8.1,0.2M348.6,296.7 l4.3,2.9M347.2,298.1 l-6.5,2.5M349.8,298.1 l3.7,2.4M348.1,299.4 l-2.8,1.6M349.0,299.4 l6.7,2.3M348.4,300.5 l-8.8,1.8M348.9,300.5 l5.7,1.8M347.6,302.0 l-4.3,0.6M348.7,302.0 l3.8,1.5M347.4,303.1 l-3.4,2.7M348.6,303.1 l4.7,1.4M348.2,304.2 l-6.0,-0.4M349.2,304.2 l4.9,1.3M347.9,305.2 l-7.2,2.1M349.6,305.2 l7.7,0.1M347.5,306.5 l-6.3,2.5M349.6,306.5 l8.6,2.7M347.5,307.4 l-4.4,2.8M348.7,307.4 l5.3,1.2M348.2,308.6 l-7.5,1.8M349.2,308.6 l5.7,2.9M348.2,309.7 l-6.5,0.1M349.5,309.7 l7.9,2.9M347.2,311.0 l-7.0,2.1M349.5,311.0 l6.0,-0.4M347.9,312.4 l-6.0,-0.5M348.6,312.4 l8.8,1.5M347.5,313.5 l-7.0,2.3M349.4,313.5 l3.2,-0.2M348.3,314.3 l-6.2,2.2M349.5,314.3 l6.0,-0.4M347.9,315.2 l-6.5,1.3M350.1,315.2 l6.6,0.7M348.3,316.3 l-7.9,0.5M349.5,316.3 l6.2,0.1M348.4,317.2 l-5.7,1.1M349.9,317.2 l8.1,-0.1M347.5,318.7 l-8.3,1.8M349.2,318.7 l8.3,0.7M347.8,320.1 l-5.1,1.9M349.0,320.1 l5.3,-0.2M347.9,321.1 l-3.1,0.7M349.5,321.1 l5.1,2.1M348.4,322.5 l-6.4,2.1M348.9,322.5 l5.7,0.7M348.6,323.3 l-4.1,2.6M349.6,323.3 l8.2,1.4M348.7,324.6 l-7.6,1.6M349.4,324.6 l7.1,0.3M347.7,326.0 l-5.2,2.4M349.3,326.0 l3.8,2.4M348.5,327.2 l-6.0,1.8M349.4,327.2 l7.3,0.1M348.6,328.1 l-8.1,2.9M349.6,328.1 l3.2,-0.3M348.3,329.3 l-2.9,-0.3M349.3,329.3 l8.2,2.0M348.3,330.4 l-6.4,2.2M349.1,330.4 l4.2,0.4M348.7,331.5 l-3.2,0.5M349.1,331.5 l6.8,0.4M348.0,332.4 l-4.4,1.5M349.5,332.4 l3.9,2.3M348.4,333.4 l-4.6,2.5M350.1,333.4 l3.4,2.7M349.1,334.3 l-4.1,0.0M350.2,334.3 l5.1,1.8M348.4,335.3 l-7.5,2.5M349.5,335.3 l6.2,2.8M347.8,336.3 l-8.0,0.1M350.0,336.3 l8.3,2.5M349.1,337.8 l-4.1,0.3M350.6,337.8 l5.0,1.2M348.5,338.9 l-5.8,-0.1M350.7,338.9 l7.8,2.3M348.8,339.8 l-8.3,1.0M350.1,339.8 l3.3,1.4M347.9,341.3 l-7.3,2.0M350.2,341.3 l6.5,1.0M348.3,342.8 l-8.1,-0.1M349.6,342.8 l4.7,2.7M348.2,344.0 l-6.6,1.8M350.7,344.0 l6.5,2.0M349.0,345.3 l-7.5,1.0M349.4,345.3 l4.2,1.2M348.8,346.5 l-5.4,0.1M349.7,346.5 l7.3,3.0M348.5,347.5 l-7.9,2.1M349.9,347.5 l7.2,2.9M349.0,348.7 l-5.4,1.5M349.4,348.7 l5.7,1.1M349.1,349.7 l-4.9,0.4M349.9,349.7 l4.7,2.3M348.1,350.6 l-8.4,0.5M350.2,350.6 l8.8,-0.3M348.3,351.9 l-8.3,1.4M349.9,351.9 l6.0,-0.5M348.1,353.1 l-3.8,0.8M350.5,353.1 l2.9,2.2M348.9,354.0 l-4.4,2.6M350.8,354.0 l4.8,3.0M349.2,355.3 l-7.0,2.7M350.7,355.3 l7.7,1.0M349.1,356.2 l-4.8,0.1M350.4,356.2 l3.3,2.8M349.5,357.1 l-7.8,1.7M349.7,357.1 l5.9,1.0M348.7,358.0 l-3.2,0.4M350.0,358.0 l5.1,1.8M348.2,359.0 l-4.7,1.1M350.7,359.0 l8.7,1.3M348.2,360.0 l-7.3,1.8M350.8,360.0 l5.8,-0.2M348.5,361.3 l-3.2,0.1M350.3,361.3 l4.6,2.8M348.2,362.7 l-4.9,1.2M350.1,362.7 l5.3,0.2M348.4,363.7 l-3.4,-0.2M350.2,363.7 l3.8,0.3M348.5,364.8 l-8.3,0.8M350.7,364.8 l8.1,2.2M349.0,365.6 l-6.8,2.8M350.3,365.6 l7.3,0.6M348.4,366.8 l-4.2,-0.4M350.0,366.8 l6.3,-0.0M348.5,367.9 l-3.4,0.2M351.2,367.9 l5.9,-0.5M349.0,369.1 l-7.6,1.4M351.2,369.1 l4.5,1.2M349.5,370.1 l-6.2,1.8M350.2,370.1 l3.5,-0.3M348.6,371.2 l-6.5,2.6M351.3,371.2 l6.1,1.5M349.7,372.0 l-3.5,0.5M350.6,372.0 l5.9,-0.3M349.3,373.2 l-4.6,1.4M351.0,373.2 l3.8,2.6M349.9,374.2 l-8.0,2.5M349.9,374.2 l3.0,2.6M348.9,375.5 l-6.2,0.3M351.3,375.5 l7.3,-0.3M348.5,376.5 l-6.4,2.4M350.1,376.5 l5.0,2.4M349.2,377.4 l-3.1,1.6M350.4,377.4 l7.0,1.2M349.6,378.5 l-7.9,2.2M350.7,378.5 l5.0,1.2M349.6,380.0 l-8.3,1.3M350.4,380.0 l5.9,0.5M349.9,380.8 l-6.0,1.8M351.1,380.8 l7.7,0.6M349.9,381.8 l-4.2,1.6M351.2,381.8 l6.3,1.8M348.9,383.2 l-7.0,2.4M350.8,383.2 l3.8,2.4M350.1,384.3 l-5.1,1.4M350.9,384.3 l7.9,-0.4M349.4,385.3 l-5.3,-0.4M350.7,385.3 l4.0,-0.0M349.4,386.4 l-6.1,-0.2M351.1,386.4 l8.8,-0.1M349.6,387.6 l-6.2,2.6M351.4,387.6 l8.0,1.6M348.9,388.7 l-6.3,-0.2M351.1,388.7 l6.0,-0.2M349.8,389.9 l-3.5,1.3M350.7,389.9 l5.0,1.3M349.9,391.1 l-8.7,1.7M350.4,391.1 l3.0,-0.3M349.9,392.2 l-3.0,2.6M351.0,392.2 l3.2,0.3M349.5,393.5 l-2.8,1.3M351.3,393.5 l4.3,2.0M349.8,394.8 l-7.6,-0.0M351.6,394.8 l4.6,1.9M349.9,396.3 l-8.2,0.9M350.5,396.3 l7.2,1.1M349.9,397.3 l-5.0,1.6M350.5,397.3 l3.2,0.3M349.0,398.2 l-3.1,1.1M350.9,398.2 l7.4,1.6M349.4,399.5 l-3.9,0.8M351.5,399.5 l4.1,-0.2M349.1,400.6 l-5.6,0.5M351.5,400.6 l6.3,2.6M349.4,401.6 l-2.7,2.8M351.3,401.6 l4.4,1.0M349.4,402.6 l-5.3,0.9M350.9,402.6 l1.9,1.7M349.7,404.0 l-4.1,2.3M351.2,404.0 l4.2,1.7M349.5,405.3 l-2.2,1.3M351.1,405.3 l2.0,2.3M349.3,406.2 l-2.0,1.9M351.1,406.2 l1.6,0.1M349.1,407.3 l-0.7,2.0M351.3,407.3 l1.0,1.6M362.9,226.8 l-0.5,1.5M364.9,226.8 l0.3,0.7M364.0,227.6 l-0.8,2.3M364.4,227.6 l1.1,1.0M364.3,228.5 l-0.9,1.4M364.5,228.5 l0.9,2.3M363.6,229.4 l-1.6,2.2M365.0,229.4 l1.4,0.4M364.0,230.5 l-1.1,1.7M365.2,230.5 l2.0,0.2M363.2,231.7 l-3.0,0.2M364.5,231.7 l1.5,2.1M363.0,233.0 l-4.1,2.2M364.6,233.0 l2.5,0.6M363.7,234.0 l-1.7,0.8M365.8,234.0 l2.6,1.1M363.5,234.9 l-1.9,0.4M364.5,234.9 l3.5,1.2M364.0,235.9 l-1.9,1.9M365.9,235.9 l4.9,2.8M363.1,236.9 l-4.3,1.5M364.9,236.9 l4.5,-0.0M363.3,237.8 l-5.2,2.9M365.8,237.8 l4.6,1.8M363.7,238.6 l-3.3,-0.3M365.0,238.6 l6.4,0.1M363.5,239.6 l-4.0,2.1M366.0,239.6 l5.8,0.3M363.4,240.5 l-6.4,1.3M366.1,240.5 l5.7,2.9M364.5,241.8 l-5.9,-0.2M365.9,241.8 l4.8,1.3M364.6,242.9 l-8.3,0.8M365.5,242.9 l8.6,1.6M363.8,243.9 l-3.0,2.8M365.5,243.9 l3.5,1.5M364.2,244.7 l-6.9,0.2M365.0,244.7 l4.8,0.6M364.5,245.9 l-8.1,0.7M366.1,245.9 l4.1,2.2M363.8,246.8 l-2.9,2.9M365.5,246.8 l8.4,-0.1M363.4,247.8 l-7.1,2.7M366.3,247.8 l6.3,1.0M364.9,248.8 l-7.2,2.2M365.0,248.8 l7.2,2.3M363.7,249.7 l-2.9,0.7M366.2,249.7 l5.3,1.3M363.7,251.0 l-8.0,1.8M365.0,251.0 l5.6,2.1M363.9,252.1 l-6.6,2.8M365.7,252.1 l3.7,0.2M365.0,253.5 l-5.2,1.9M365.9,253.5 l7.1,1.7M363.8,254.8 l-4.0,1.0M365.9,254.8 l8.3,1.5M364.3,255.9 l-4.6,-0.1M366.3,255.9 l4.4,0.9M364.1,256.8 l-7.0,0.1M366.5,256.8 l3.4,1.5M364.6,257.7 l-3.9,-0.3M366.3,257.7 l4.2,0.7M364.1,258.9 l-7.7,1.6M366.6,258.9 l7.0,2.4M365.2,259.8 l-5.7,1.9M365.6,259.8 l6.1,1.5M364.3,260.6 l-6.1,0.8M365.7,260.6 l3.7,0.2M364.4,261.8 l-7.8,3.0M365.9,261.8 l4.4,0.6M365.2,263.0 l-8.3,2.6M365.6,263.0 l8.8,2.8M364.2,264.3 l-8.5,1.7M366.6,264.3 l7.8,1.2M365.2,265.5 l-8.5,0.1M366.2,265.5 l6.7,-0.1M364.5,266.3 l-3.1,0.6M366.3,266.3 l8.3,2.0M364.0,267.3 l-4.1,1.0M366.9,267.3 l8.7,-0.2M365.1,268.1 l-3.2,0.1M366.9,268.1 l6.8,0.1M365.4,269.3 l-5.3,0.4M366.0,269.3 l6.9,1.4M364.5,270.6 l-4.4,-0.3M365.8,270.6 l5.9,2.5M365.6,271.7 l-3.4,3.0M366.4,271.7 l8.2,-0.3M364.6,272.8 l-3.9,2.0M366.5,272.8 l2.9,2.7M364.4,273.8 l-5.1,0.6M366.5,273.8 l5.9,1.2M365.0,275.1 l-5.4,1.6M366.3,275.1 l6.7,1.1M365.7,276.5 l-3.1,0.8M366.5,276.5 l5.2,0.7M364.3,277.5 l-4.2,0.4M367.3,277.5 l5.2,0.1M364.7,278.5 l-6.6,2.0M366.4,278.5 l7.6,2.8M365.8,279.4 l-5.3,2.0M366.2,279.4 l6.1,2.4M365.3,280.7 l-4.0,1.3M366.9,280.7 l8.5,1.0M365.9,282.1 l-6.8,0.4M366.3,282.1 l6.4,0.1M365.9,283.0 l-4.9,1.8M366.8,283.0 l3.2,2.9M364.6,284.2 l-3.7,-0.1M366.9,284.2 l3.9,2.2M364.9,285.6 l-7.1,1.7M367.1,285.6 l6.8,0.1M365.0,286.9 l-6.6,2.3M367.0,286.9 l8.4,-0.4M364.9,288.2 l-5.8,2.0M367.4,288.2 l8.3,0.2M365.4,289.6 l-3.6,2.9M367.4,289.6 l4.5,1.3M365.1,290.5 l-7.6,2.6M367.6,290.5 l6.3,1.1M366.0,291.5 l-3.0,0.4M366.3,291.5 l7.0,2.4M365.4,292.7 l-4.7,2.8M367.4,292.7 l7.7,0.6M365.1,294.1 l-4.2,1.1M366.7,294.1 l7.1,0.2M366.1,295.0 l-5.3,2.3M366.7,295.0 l8.6,1.6M365.3,295.8 l-7.3,-0.2M367.5,295.8 l8.0,-0.1M365.9,296.9 l-8.3,-0.2M366.6,296.9 l5.2,1.6M365.5,297.7 l-4.0,0.7M367.2,297.7 l5.5,2.7M365.2,298.6 l-3.8,1.9M367.1,298.6 l8.2,0.3M365.1,299.8 l-4.6,2.3M367.1,299.8 l7.9,0.5M365.7,301.2 l-8.1,-0.5M367.1,301.2 l8.3,2.2M366.0,302.3 l-8.8,1.2M367.4,302.3 l4.7,-0.2M365.4,303.5 l-5.1,3.0M366.7,303.5 l7.4,0.4M365.1,304.3 l-7.0,0.7M367.3,304.3 l3.6,1.5M366.1,305.6 l-3.3,1.9M367.2,305.6 l3.1,0.8M365.6,306.4 l-7.6,0.6M367.8,306.4 l6.0,2.2M365.8,307.2 l-8.2,0.0M367.6,307.2 l4.5,-0.4M366.0,308.1 l-3.7,3.0M367.7,308.1 l8.7,-0.5M365.5,309.6 l-8.3,0.6M367.4,309.6 l4.1,0.6M366.4,311.0 l-7.0,-0.4M367.1,311.0 l3.4,-0.4M365.8,312.1 l-7.7,0.4M368.0,312.1 l3.2,1.7M365.7,313.5 l-8.8,2.0M367.4,313.5 l4.6,1.7M365.8,314.8 l-3.9,1.1M368.0,314.8 l4.2,2.2M366.2,316.3 l-3.3,1.0M368.3,316.3 l3.7,0.8M366.1,317.5 l-3.1,0.5M368.5,317.5 l8.3,0.4M365.7,318.9 l-8.4,0.5M367.6,318.9 l7.3,0.3M366.6,320.0 l-3.0,0.9M368.1,320.0 l7.4,1.3M365.9,321.0 l-3.9,2.7M367.3,321.0 l6.4,2.5M366.2,322.5 l-4.0,-0.3M367.4,322.5 l3.4,0.6M366.1,323.3 l-6.8,-0.0M367.8,323.3 l8.0,0.1M366.5,324.4 l-6.9,2.9M367.8,324.4 l6.5,1.5M366.3,325.3 l-8.6,2.1M367.8,325.3 l3.4,0.8M367.1,326.4 l-7.6,1.6M368.5,326.4 l4.3,-0.5M365.8,327.6 l-7.3,2.4M368.5,327.6 l6.6,2.9M366.9,329.0 l-3.4,1.6M367.7,329.0 l6.8,1.2M366.7,330.5 l-3.4,1.6M368.6,330.5 l8.1,0.9M366.7,331.6 l-7.2,2.2M368.0,331.6 l4.6,-0.4M366.6,333.0 l-4.5,1.7M368.1,333.0 l2.9,2.4M367.3,334.0 l-7.2,-0.1M368.6,334.0 l4.8,0.8M366.8,335.5 l-4.6,2.1M367.8,335.5 l4.7,0.8M366.9,336.5 l-5.2,1.7M367.8,336.5 l6.9,2.3M367.3,337.8 l-3.2,2.6M369.1,337.8 l5.1,2.3M367.6,339.2 l-3.8,-0.3M367.7,339.2 l3.2,0.7M367.2,340.0 l-8.5,1.7M368.0,340.0 l7.7,2.4M367.6,340.9 l-4.0,-0.3M368.3,340.9 l7.8,2.4M367.4,341.9 l-5.8,0.9M367.8,341.9 l3.6,1.8M367.5,342.9 l-8.7,0.8M368.2,342.9 l4.3,1.5M367.5,344.3 l-8.5,-0.1M368.4,344.3 l4.7,0.7M366.4,345.5 l-6.4,1.3M369.0,345.5 l8.5,1.5M367.1,346.8 l-7.4,0.0M368.3,346.8 l7.5,1.2M366.8,347.7 l-6.2,2.1M368.6,347.7 l4.5,2.0M367.2,348.9 l-8.6,2.8M368.2,348.9 l5.0,2.2M367.0,349.9 l-8.3,1.2M368.7,349.9 l3.5,1.6M367.9,350.8 l-6.0,2.5M369.2,350.8 l3.8,1.7M367.0,352.2 l-8.0,1.1M368.8,352.2 l6.7,-0.2M366.8,353.2 l-6.8,-0.1M368.8,353.2 l7.3,1.5M367.9,354.5 l-3.5,0.4M369.6,354.5 l4.1,2.4M366.8,355.9 l-6.1,0.6M368.2,355.9 l7.2,-0.1M368.2,357.4 l-5.6,-0.2M369.0,357.4 l3.5,1.3M367.7,358.2 l-5.7,2.1M368.7,358.2 l5.0,1.7M366.9,359.1 l-7.1,2.6M368.3,359.1 l5.4,-0.2M367.0,360.6 l-7.5,-0.3M368.7,360.6 l4.8,0.4M367.3,361.6 l-8.6,2.3M369.5,361.6 l5.4,2.5M368.1,363.0 l-5.5,2.3M369.0,363.0 l2.9,1.5M367.4,364.3 l-8.1,1.3M369.2,364.3 l5.4,-0.3M367.3,365.5 l-5.3,1.4M368.9,365.5 l6.2,0.5M367.7,366.8 l-6.1,0.4M369.3,366.8 l8.6,0.3M368.1,368.2 l-7.5,1.1M368.9,368.2 l4.8,2.4M367.1,369.7 l-6.0,1.3M369.7,369.7 l4.8,2.3M368.0,370.6 l-3.7,1.5M369.2,370.6 l7.9,1.8M368.3,371.8 l-3.8,2.5M370.0,371.8 l3.9,-0.2M367.7,373.0 l-4.4,0.8M369.2,373.0 l5.5,2.5M368.0,374.4 l-7.0,0.2M370.2,374.4 l6.4,2.1M367.6,375.4 l-6.0,0.6M369.7,375.4 l5.6,0.8M367.8,376.3 l-7.0,1.5M369.1,376.3 l4.9,2.1M367.3,377.7 l-8.3,1.6M369.2,377.7 l5.3,2.5M367.8,378.9 l-7.7,1.0M369.2,378.9 l6.8,1.1M368.5,380.0 l-6.2,2.8M369.4,380.0 l4.5,2.3M367.7,381.4 l-5.1,0.2M369.6,381.4 l3.8,0.2M368.6,382.6 l-6.9,1.6M369.3,382.6 l7.9,-0.3M367.5,384.0 l-2.9,0.8M369.8,384.0 l2.9,2.9M367.9,385.4 l-5.0,0.5M369.1,385.4 l8.5,1.5M368.0,386.5 l-6.2,0.8M369.7,386.5 l8.5,2.6M368.4,387.3 l-3.1,2.0M369.5,387.3 l4.5,1.6M368.2,388.2 l-5.3,0.4M369.2,388.2 l6.9,0.3M368.6,389.3 l-7.6,2.2M370.3,389.3 l8.3,0.2M368.1,390.5 l-8.7,1.1M370.4,390.5 l6.2,1.6M369.1,391.6 l-5.3,0.7M370.3,391.6 l8.7,1.2M368.7,392.5 l-7.7,1.6M369.6,392.5 l5.7,1.1M368.7,393.5 l-7.4,2.2M369.6,393.5 l7.6,0.4M368.3,394.8 l-8.1,1.7M370.6,394.8 l4.3,-0.2M368.4,396.0 l-7.8,0.2M370.5,396.0 l4.5,2.8M368.1,397.3 l-6.0,0.9M370.7,397.3 l8.4,2.5M368.5,398.6 l-3.5,0.6M370.0,398.6 l3.7,1.2M368.4,400.1 l-6.9,2.1M370.2,400.1 l5.3,2.6M368.5,401.1 l-4.3,-0.1M369.8,401.1 l3.3,0.3M368.8,402.1 l-8.2,1.7M369.7,402.1 l8.4,0.5M369.2,403.3 l-4.2,2.8M370.5,403.3 l6.3,2.1M368.8,404.2 l-5.3,1.8M369.7,404.2 l3.0,-0.3M369.0,405.3 l-5.2,0.2M370.1,405.3 l8.1,0.8M368.4,406.3 l-3.8,-0.4M370.8,406.3 l6.9,2.0M368.5,407.6 l-3.3,2.8M370.7,407.6 l4.6,2.0M369.5,408.5 l-4.6,3.0M370.0,408.5 l1.8,1.1M368.3,409.9 l-3.4,1.0M370.6,409.9 l3.3,1.6M369.3,411.1 l-1.7,-0.4M370.6,411.1 l1.1,0.1M369.5,412.2 l-1.3,-0.2M369.9,412.2 l1.2,1.2M383.3,226.0 l-0.3,1.6M383.9,226.0 l0.4,0.4M382.5,227.4 l-1.4,2.3M384.9,227.4 l1.2,0.7M382.2,228.6 l-1.1,0.9M384.2,228.6 l2.1,2.1M383.2,229.9 l-1.3,-0.5M385.0,229.9 l2.7,0.1M382.1,231.1 l-1.8,2.9M384.5,231.1 l1.8,1.1M383.2,232.2 l-1.9,0.7M384.4,232.2 l3.4,0.6M383.0,233.3 l-4.1,0.4M384.7,233.3 l1.6,1.6M383.6,234.6 l-1.8,2.4M383.9,234.6 l3.7,-0.3M383.3,235.5 l-4.9,0.2M384.0,235.5 l4.6,2.2M383.5,236.8 l-6.6,1.3M384.2,236.8 l2.4,0.9M383.2,237.9 l-2.5,0.3M384.4,237.9 l6.3,0.8M382.8,238.9 l-6.2,2.7M384.9,238.9 l4.0,2.3M382.5,240.3 l-2.7,2.5M384.0,240.3 l8.3,1.3M383.4,241.7 l-5.4,1.8M384.0,241.7 l8.0,1.3M383.0,243.1 l-3.1,0.3M384.2,243.1 l3.1,2.5M383.4,244.0 l-3.4,2.7M384.4,244.0 l5.1,-0.1M383.2,245.1 l-8.1,1.8M384.1,245.1 l5.8,0.8M382.9,246.2 l-7.8,0.3M385.0,246.2 l3.7,0.0M382.8,247.2 l-3.7,-0.4M385.1,247.2 l6.6,0.9M383.0,248.2 l-3.7,2.8M384.0,248.2 l6.6,0.0M382.8,249.7 l-3.5,1.8M384.5,249.7 l3.2,0.9M382.8,251.0 l-3.5,2.4M384.3,251.0 l8.8,0.2M382.9,252.1 l-7.9,0.5M384.8,252.1 l4.4,0.4M382.7,253.3 l-4.3,1.5M383.9,253.3 l5.4,1.4M383.3,254.3 l-6.4,0.6M384.2,254.3 l2.9,1.1M383.4,255.3 l-8.0,2.7M385.1,255.3 l5.5,0.7M382.9,256.5 l-5.3,0.2M384.3,256.5 l4.3,1.7M383.2,257.6 l-3.5,-0.2M384.5,257.6 l3.1,0.0M383.3,259.1 l-4.6,2.2M384.7,259.1 l6.5,2.9M382.8,260.4 l-5.7,1.0M384.7,260.4 l6.6,2.4M383.1,261.9 l-5.3,1.3M384.5,261.9 l3.0,0.8M383.2,262.7 l-7.7,3.0M384.1,262.7 l7.3,1.9M383.0,264.0 l-5.3,0.5M385.1,264.0 l3.6,2.1M383.3,265.1 l-8.3,2.5M385.1,265.1 l4.1,-0.2M383.3,266.4 l-6.7,0.7M384.4,266.4 l4.0,0.7M383.2,267.5 l-3.4,1.2M385.3,267.5 l4.0,-0.3M383.8,268.6 l-4.9,2.5M384.9,268.6 l3.8,2.4M383.8,269.7 l-8.5,-0.3M384.3,269.7 l5.8,0.2M383.9,270.9 l-5.7,1.6M384.9,270.9 l8.4,0.2M383.3,272.2 l-4.2,1.1M385.6,272.2 l3.9,2.9M383.3,273.3 l-5.8,2.0M384.7,273.3 l3.8,-0.1M383.6,274.3 l-5.6,1.4M384.3,274.3 l5.3,2.4M383.1,275.8 l-8.7,1.0M385.2,275.8 l4.5,1.7M384.1,276.9 l-5.5,2.5M384.8,276.9 l6.8,3.0M384.1,278.4 l-8.2,1.9M385.5,278.4 l4.1,2.0M383.3,279.7 l-4.9,-0.1M385.2,279.7 l8.2,1.0M383.1,280.8 l-8.4,1.2M385.0,280.8 l3.3,0.6M383.9,281.8 l-8.4,2.3M385.5,281.8 l8.4,2.9M383.0,282.7 l-7.9,0.5M385.0,282.7 l8.0,2.1M382.9,284.0 l-6.7,-0.2M385.6,284.0 l5.6,1.1M384.3,285.2 l-7.3,-0.2M385.2,285.2 l7.1,2.9M383.8,286.2 l-2.9,1.7M384.5,286.2 l4.1,1.6M383.7,287.6 l-3.5,-0.4M384.7,287.6 l5.9,1.8M384.0,288.7 l-4.0,2.3M384.5,288.7 l4.1,-0.2M383.1,289.8 l-5.9,2.6M385.2,289.8 l8.2,2.4M383.1,290.8 l-4.8,-0.1M384.6,290.8 l7.7,2.8M384.2,292.0 l-8.6,2.5M384.7,292.0 l8.5,2.2M383.1,293.2 l-4.2,1.9M385.9,293.2 l8.1,2.8M384.1,294.7 l-5.7,1.4M385.6,294.7 l3.2,2.5M384.4,296.0 l-5.3,2.6M385.7,296.0 l2.9,2.9M384.2,297.5 l-8.1,0.6M385.6,297.5 l4.2,-0.2M384.5,298.6 l-5.4,1.8M385.7,298.6 l3.7,-0.2M383.4,299.7 l-8.0,2.4M385.4,299.7 l4.0,1.6M383.9,301.1 l-6.8,0.0M385.6,301.1 l6.4,2.2M384.1,302.2 l-4.6,1.9M384.7,302.2 l8.6,2.0M384.6,303.6 l-3.7,2.3M385.0,303.6 l7.6,-0.1M384.1,304.4 l-5.3,2.1M385.7,304.4 l7.7,-0.3M383.9,305.6 l-4.3,2.3M385.7,305.6 l6.7,2.1M383.4,306.9 l-3.0,-0.4M386.0,306.9 l8.3,1.5M383.7,308.1 l-8.3,-0.3M385.5,308.1 l2.9,0.3M383.6,309.6 l-3.5,1.0M386.0,309.6 l7.2,2.2M383.3,310.6 l-6.7,0.7M385.4,310.6 l8.7,2.5M383.5,311.9 l-7.8,2.1M385.8,311.9 l6.3,1.4M384.3,313.2 l-3.3,2.0M385.5,313.2 l6.4,1.1M384.5,314.7 l-7.3,0.7M385.7,314.7 l6.4,1.1M384.7,315.8 l-6.7,1.4M386.0,315.8 l4.3,1.7M383.9,316.9 l-8.7,2.7M385.1,316.9 l2.9,0.4M384.6,318.0 l-4.5,0.7M385.9,318.0 l6.1,0.1M384.5,319.4 l-4.1,2.4M385.7,319.4 l7.9,0.4M384.3,320.7 l-4.5,0.8M385.7,320.7 l4.9,0.4M384.2,322.0 l-8.7,-0.2M386.2,322.0 l6.2,-0.0M383.8,323.4 l-8.3,0.4M386.4,323.4 l7.4,0.1M383.8,324.7 l-3.4,0.8M385.2,324.7 l6.9,2.4M384.0,325.6 l-5.8,1.2M385.0,325.6 l7.2,1.4M384.4,326.4 l-7.4,0.7M386.1,326.4 l6.7,2.9M384.5,327.2 l-7.8,0.8M386.1,327.2 l8.6,2.1M384.1,328.1 l-6.0,1.2M385.5,328.1 l7.3,1.8M384.8,329.4 l-5.0,0.5M386.1,329.4 l6.6,2.9M384.5,330.8 l-5.2,-0.3M385.5,330.8 l7.4,2.7M384.1,331.7 l-4.9,2.3M386.0,331.7 l7.9,2.1M384.0,332.6 l-6.0,1.6M386.2,332.6 l4.3,1.0M384.2,333.6 l-3.5,2.1M385.7,333.6 l5.3,2.2M384.3,334.5 l-3.6,0.8M385.1,334.5 l8.3,1.8M383.9,335.7 l-8.5,0.5M385.2,335.7 l4.5,0.0M384.8,336.6 l-6.4,2.4M385.4,336.6 l5.1,1.4M384.4,337.5 l-8.5,1.2M386.2,337.5 l4.5,1.8M385.1,338.8 l-3.0,1.3M386.6,338.8 l3.3,-0.3M384.3,339.9 l-3.4,-0.3M386.0,339.9 l5.6,-0.3M385.0,340.9 l-4.0,-0.3M386.2,340.9 l4.5,0.5M384.2,341.7 l-4.2,1.4M385.8,341.7 l3.9,0.7M384.3,343.0 l-7.4,-0.3M385.4,343.0 l4.1,0.5M383.9,344.2 l-7.9,1.0M385.9,344.2 l5.8,-0.5M385.0,345.2 l-3.4,2.5M385.5,345.2 l4.0,0.5M384.2,346.6 l-4.9,0.2M385.9,346.6 l6.6,2.5M384.1,348.1 l-2.9,1.3M385.7,348.1 l8.1,0.1M384.9,349.1 l-4.0,1.8M386.1,349.1 l6.7,0.1M384.4,350.0 l-4.5,2.0M386.5,350.0 l3.4,0.3M384.6,351.3 l-3.1,1.6M385.9,351.3 l3.8,1.9M384.7,352.5 l-3.9,1.7M385.6,352.5 l5.4,2.8M385.1,353.7 l-6.7,0.1M386.6,353.7 l4.9,1.9M383.9,355.0 l-5.6,-0.0M386.8,355.0 l7.5,0.8M385.4,356.4 l-4.3,2.1M386.3,356.4 l7.1,2.2M384.5,357.3 l-7.4,1.1M386.7,357.3 l4.8,-0.4M385.4,358.4 l-7.2,2.9M386.2,358.4 l5.9,0.8M385.0,359.5 l-6.0,0.4M386.7,359.5 l3.1,2.9M385.1,360.4 l-5.2,2.0M386.5,360.4 l2.9,2.4M384.9,361.5 l-7.8,2.7M385.5,361.5 l4.6,-0.1M385.2,362.6 l-5.9,2.8M385.9,362.6 l6.7,-0.1M384.4,363.9 l-7.4,2.2M386.0,363.9 l3.7,-0.1M385.2,364.9 l-6.4,0.1M386.7,364.9 l4.0,0.2M385.5,365.7 l-7.0,1.1M386.7,365.7 l8.4,1.0M385.3,366.9 l-7.7,2.4M386.5,366.9 l5.7,0.2M384.2,368.4 l-6.2,0.3M385.8,368.4 l6.4,1.8M385.2,369.7 l-5.0,1.0M386.8,369.7 l4.9,0.7M385.0,370.6 l-6.7,1.5M386.5,370.6 l3.2,1.8M384.4,371.7 l-4.0,1.5M387.0,371.7 l4.3,2.0M384.9,373.1 l-4.9,1.6M386.9,373.1 l3.1,0.2M385.1,374.5 l-7.6,-0.5M387.2,374.5 l7.6,0.5M385.3,375.3 l-7.3,2.6M386.4,375.3 l6.6,0.2M385.6,376.5 l-5.9,1.4M387.1,376.5 l6.0,1.1M384.4,377.9 l-4.5,0.5M386.5,377.9 l6.1,1.5M385.6,379.0 l-4.5,2.1M386.7,379.0 l5.8,0.2M385.5,380.0 l-7.7,1.4M386.1,380.0 l8.2,2.3M385.4,381.2 l-3.2,2.7M385.9,381.2 l7.3,0.8M385.8,382.3 l-7.6,2.4M386.9,382.3 l4.7,1.4M384.8,383.2 l-6.3,2.3M386.2,383.2 l4.6,1.3M385.4,384.3 l-5.3,-0.2M387.3,384.3 l4.5,2.2M385.5,385.3 l-5.6,1.1M387.3,385.3 l7.9,1.4M385.8,386.2 l-6.7,1.7M386.0,386.2 l4.0,2.2M385.2,387.2 l-8.7,2.7M386.1,387.2 l5.9,0.7M385.7,388.1 l-3.1,2.2M386.9,388.1 l4.6,3.0M385.9,389.2 l-7.7,2.8M386.9,389.2 l5.6,2.8M385.8,390.3 l-3.0,1.0M386.5,390.3 l7.4,-0.3M385.5,391.1 l-8.1,1.8M386.4,391.1 l4.6,0.9M385.8,392.5 l-7.5,2.6M387.3,392.5 l3.8,-0.2M385.3,393.9 l-3.1,0.1M387.0,393.9 l7.2,1.9M385.8,394.9 l-7.1,2.2M386.1,394.9 l4.5,0.1M385.2,396.4 l-3.2,2.4M387.0,396.4 l7.6,2.1M385.0,397.6 l-5.4,0.6M386.2,397.6 l3.4,1.3M385.5,398.6 l-6.5,0.9M387.1,398.6 l8.3,-0.4M385.9,399.8 l-5.2,0.2M386.1,399.8 l2.6,-0.3M385.3,400.6 l-5.7,2.5M386.8,400.6 l3.5,0.6M385.1,401.5 l-4.1,0.4M387.6,401.5 l6.0,-0.4M385.3,402.5 l-4.9,2.6M386.7,402.5 l4.5,1.9M384.7,403.8 l-3.8,2.1M387.6,403.8 l3.4,2.8M385.6,405.2 l-1.9,-0.5M386.7,405.2 l1.3,2.5M386.0,406.6 l-0.9,1.4M387.3,406.6 l1.2,0.6M399.6,216.0 l-0.3,-0.4M402.0,216.0 l0.4,1.5M400.3,217.4 l-0.7,2.0M401.9,217.4 l0.7,1.3M400.2,218.7 l-0.9,0.6M401.2,218.7 l1.5,2.5M400.5,220.1 l-3.0,0.1M402.3,220.1 l2.4,2.2M400.0,221.5 l-1.8,2.3M402.1,221.5 l3.2,1.7M400.3,222.9 l-1.8,2.6M401.8,222.9 l3.3,2.1M399.6,224.1 l-4.7,0.6M401.4,224.1 l3.0,2.9M400.4,225.3 l-4.7,0.7M402.1,225.3 l4.5,0.9M400.1,226.3 l-5.8,1.5M402.3,226.3 l4.1,2.5M399.7,227.6 l-3.5,-0.0M401.7,227.6 l4.8,-0.5M401.1,228.9 l-6.6,0.2M402.7,228.9 l3.5,0.9M400.0,230.4 l-5.0,1.6M402.6,230.4 l2.8,-0.2M399.8,231.5 l-8.7,0.7M401.4,231.5 l3.7,1.1M399.9,232.9 l-5.0,1.0M401.5,232.9 l3.9,-0.4M400.2,233.9 l-3.5,0.1M402.1,233.9 l7.2,2.8M400.6,234.7 l-7.4,1.4M401.4,234.7 l6.0,0.0M400.1,236.0 l-6.4,3.0M401.8,236.0 l5.8,2.0M400.8,237.0 l-5.6,0.3M401.6,237.0 l5.1,2.0M401.0,238.3 l-6.9,2.1M401.6,238.3 l8.2,-0.5M400.4,239.2 l-4.9,2.1M402.3,239.2 l7.4,1.3M401.2,240.1 l-8.1,1.3M401.5,240.1 l4.0,2.7M401.2,241.0 l-6.3,0.8M402.2,241.0 l3.2,2.8M399.9,242.0 l-4.2,2.6M402.7,242.0 l7.1,-0.3M400.2,242.8 l-6.5,2.2M402.3,242.8 l3.0,1.8M400.6,243.8 l-3.6,2.3M402.2,243.8 l6.0,2.3M400.1,244.8 l-3.5,0.7M402.8,244.8 l5.8,-0.4M400.0,245.6 l-6.2,0.2M401.7,245.6 l7.0,0.0M401.4,246.6 l-7.2,0.8M402.0,246.6 l7.9,-0.4M400.4,247.6 l-6.8,2.1M401.5,247.6 l6.7,0.5M401.3,248.8 l-4.6,2.2M403.0,248.8 l6.1,1.2M401.2,250.1 l-7.6,2.6M401.9,250.1 l5.7,-0.1M401.1,251.1 l-4.4,-0.5M402.2,251.1 l3.8,1.5M401.2,252.2 l-4.3,0.3M402.6,252.2 l5.8,1.2M400.7,253.5 l-3.2,1.6M403.0,253.5 l4.6,2.8M400.8,254.9 l-3.7,0.8M401.9,254.9 l3.5,0.1M400.4,256.1 l-5.1,2.8M403.1,256.1 l2.8,2.2M400.5,257.1 l-3.0,1.1M401.7,257.1 l3.5,1.9M400.3,258.6 l-4.1,1.3M401.7,258.6 l7.5,2.8M400.3,259.8 l-7.5,1.7M403.1,259.8 l7.2,-0.1M400.8,260.8 l-8.6,1.8M402.8,260.8 l8.1,2.6M401.0,262.2 l-5.1,2.2M401.7,262.2 l8.4,2.2M400.8,263.0 l-7.3,0.4M402.6,263.0 l5.0,-0.1M400.7,264.5 l-2.9,0.8M402.8,264.5 l5.1,2.3M401.1,265.6 l-4.2,2.6M402.7,265.6 l4.1,1.9M400.8,267.0 l-6.4,0.1M402.9,267.0 l5.7,1.4M400.7,268.2 l-3.9,3.0M403.2,268.2 l7.2,0.4M401.6,269.3 l-5.1,-0.3M403.3,269.3 l6.8,1.5M401.1,270.7 l-4.2,1.2M402.2,270.7 l3.1,0.0M400.8,271.5 l-4.0,1.4M403.2,271.5 l4.4,0.9M401.2,272.9 l-7.1,0.2M402.0,272.9 l8.4,0.9M401.1,274.2 l-7.4,0.8M403.2,274.2 l5.1,2.6M400.4,275.2 l-5.4,0.5M403.4,275.2 l3.4,-0.3M401.2,276.6 l-3.5,1.2M402.6,276.6 l4.9,2.4M401.9,277.9 l-7.4,2.9M402.8,277.9 l8.8,0.7M401.7,279.1 l-6.7,0.5M402.1,279.1 l4.6,1.5M401.1,279.9 l-2.8,0.1M402.8,279.9 l7.1,2.7M401.6,281.4 l-3.0,0.5M402.6,281.4 l3.5,2.7M401.8,282.3 l-6.3,0.4M403.3,282.3 l4.5,1.4M401.4,283.4 l-3.3,0.5M402.7,283.4 l5.1,-0.3M401.6,284.5 l-5.3,0.2M402.5,284.5 l6.0,0.2M401.1,285.9 l-6.3,0.6M403.1,285.9 l3.5,0.6M400.7,287.0 l-6.3,1.5M403.2,287.0 l7.7,1.2M400.7,288.5 l-8.4,2.0M402.5,288.5 l7.8,0.7M401.1,289.9 l-8.0,2.8M402.3,289.9 l5.4,-0.2M402.1,290.8 l-7.2,1.8M403.2,290.8 l4.7,0.2M401.6,292.1 l-8.0,0.4M403.1,292.1 l7.8,2.3M401.6,293.1 l-6.9,0.4M402.9,293.1 l7.2,0.1M402.0,293.9 l-6.9,1.4M402.2,293.9 l8.1,1.7M401.6,295.3 l-8.0,0.6M402.4,295.3 l4.3,2.0M401.0,296.5 l-5.1,2.8M402.4,296.5 l4.4,0.1M401.8,297.8 l-7.5,2.5M403.4,297.8 l8.6,-0.0M401.2,298.9 l-7.7,1.2M403.2,298.9 l7.9,1.9M400.8,300.1 l-7.1,-0.2M402.7,300.1 l3.1,0.8M402.3,300.9 l-3.6,1.2M403.2,300.9 l3.6,-0.0M401.4,302.3 l-5.9,0.8M403.5,302.3 l5.5,2.2M401.4,303.1 l-4.8,1.1M402.4,303.1 l3.2,1.6M402.1,304.1 l-7.7,1.9M403.3,304.1 l3.2,0.8M400.9,305.2 l-7.6,0.3M402.4,305.2 l5.4,1.1M401.4,306.4 l-3.2,1.1M403.6,306.4 l6.5,-0.5M401.7,307.2 l-3.3,1.4M402.9,307.2 l4.3,2.6M401.6,308.3 l-7.7,-0.4M402.4,308.3 l4.4,0.1M401.3,309.3 l-6.9,2.1M403.1,309.3 l3.0,2.3M401.0,310.2 l-5.5,2.8M402.6,310.2 l5.3,2.5M401.1,311.7 l-7.6,-0.0M402.8,311.7 l2.9,2.4M402.2,312.6 l-5.0,0.9M402.9,312.6 l4.1,0.8M401.8,313.8 l-4.1,1.4M402.6,313.8 l4.8,0.5M401.9,314.6 l-5.1,0.2M403.2,314.6 l4.1,2.0M402.3,316.1 l-5.3,1.2M403.8,316.1 l6.0,-0.5M402.3,317.6 l-5.7,0.2M403.7,317.6 l7.7,3.0M401.5,318.5 l-5.8,1.5M402.6,318.5 l8.0,2.9M402.4,319.3 l-3.4,1.8M402.8,319.3 l8.1,-0.1M401.7,320.5 l-3.6,0.7M403.3,320.5 l3.5,0.2M402.6,321.8 l-3.0,1.5M403.5,321.8 l5.2,-0.3M402.3,323.1 l-6.1,0.9M402.7,323.1 l4.1,2.5M402.5,324.5 l-6.3,1.9M403.6,324.5 l7.5,0.2M401.5,325.4 l-3.8,2.1M403.4,325.4 l4.4,-0.1M402.0,326.4 l-5.2,1.4M403.7,326.4 l8.4,0.5M401.8,327.6 l-6.1,0.1M402.7,327.6 l7.2,-0.3M401.3,328.9 l-3.1,2.7M403.9,328.9 l2.8,0.2M402.4,329.9 l-7.4,0.4M403.4,329.9 l6.7,1.9M402.2,331.2 l-3.4,-0.2M403.5,331.2 l6.1,0.7M401.7,332.4 l-7.2,1.5M403.6,332.4 l8.4,0.0M401.9,333.7 l-5.7,-0.2M403.7,333.7 l7.4,1.3M402.7,334.8 l-7.2,1.4M403.6,334.8 l3.7,0.2M402.0,335.7 l-7.6,2.3M402.9,335.7 l6.6,2.4M402.7,336.6 l-3.3,1.3M403.4,336.6 l3.4,0.6M401.7,337.9 l-5.4,0.3M403.7,337.9 l6.3,0.0M401.7,338.8 l-6.9,1.6M403.2,338.8 l3.7,2.0M402.0,340.0 l-5.7,1.3M403.4,340.0 l6.3,1.6M402.6,341.1 l-4.3,0.7M403.1,341.1 l8.2,2.2M402.7,342.5 l-7.4,2.9M403.1,342.5 l8.7,0.3M402.1,343.4 l-8.4,1.9M403.0,343.4 l4.1,1.8M402.7,344.5 l-5.9,0.1M403.5,344.5 l2.8,0.2M402.9,345.9 l-7.1,2.2M403.2,345.9 l5.8,2.0M403.0,346.9 l-4.4,-0.4M404.0,346.9 l3.2,1.0M402.1,347.8 l-6.5,2.0M404.3,347.8 l7.6,2.6M402.1,349.1 l-6.5,0.8M403.3,349.1 l6.6,0.7M402.4,350.5 l-8.4,1.9M404.0,350.5 l2.9,0.8M402.5,351.8 l-3.3,0.7M403.8,351.8 l3.6,0.7M402.6,353.1 l-7.2,0.7M403.1,353.1 l4.8,2.6M402.1,354.3 l-8.3,-0.2M404.2,354.3 l3.6,1.4M402.5,355.3 l-5.5,2.0M403.5,355.3 l5.7,0.8M403.0,356.4 l-8.2,3.0M403.5,356.4 l3.6,1.0M402.3,357.7 l-8.3,0.7M404.3,357.7 l6.3,2.6M402.4,358.5 l-4.9,2.4M403.5,358.5 l3.6,2.6M402.6,359.6 l-3.5,1.9M404.1,359.6 l5.5,-0.3M402.6,360.8 l-7.5,2.0M403.8,360.8 l8.7,2.7M403.0,362.0 l-8.3,0.7M404.5,362.0 l6.6,2.7M402.5,363.1 l-6.1,1.1M403.4,363.1 l7.7,2.2M402.8,364.3 l-5.3,1.6M403.8,364.3 l3.2,-0.0M402.6,365.1 l-6.1,0.9M403.8,365.1 l4.2,2.7M402.7,366.4 l-7.9,-0.1M403.9,366.4 l3.8,2.8M403.3,367.8 l-6.6,2.1M403.9,367.8 l6.6,0.7M401.9,369.3 l-3.7,2.9M403.4,369.3 l4.6,1.2M402.5,370.4 l-8.6,0.1M404.5,370.4 l8.7,-0.1M401.9,371.8 l-5.0,1.7M403.6,371.8 l5.0,0.3M402.4,373.1 l-6.1,1.7M404.3,373.1 l8.5,0.5M402.9,374.5 l-3.2,2.7M404.7,374.5 l8.0,0.7M402.9,375.5 l-3.9,0.8M404.4,375.5 l4.0,3.0M402.6,376.9 l-8.6,0.8M403.7,376.9 l7.7,0.2M402.2,377.7 l-7.7,0.6M404.2,377.7 l6.0,1.0M403.0,379.1 l-7.4,1.8M404.8,379.1 l4.0,3.0M402.7,380.3 l-4.2,2.6M404.0,380.3 l5.1,1.6M403.0,381.3 l-3.6,1.0M403.7,381.3 l4.4,1.7M402.1,382.7 l-3.1,2.6M403.6,382.7 l6.1,1.9M402.7,383.9 l-8.7,1.0M403.6,383.9 l3.1,2.1M402.4,385.3 l-5.6,0.7M405.0,385.3 l5.9,-0.4M403.3,386.4 l-8.6,-0.2M404.1,386.4 l3.1,1.6M402.3,387.5 l-6.9,-0.4M405.0,387.5 l8.3,2.8M403.4,388.4 l-5.1,2.0M404.2,388.4 l4.5,-0.5M403.6,389.8 l-8.0,2.7M404.7,389.8 l6.5,-0.3M402.9,390.8 l-6.5,2.3M403.9,390.8 l5.7,0.1M402.3,392.1 l-5.2,2.3M405.0,392.1 l7.8,1.6M403.6,393.2 l-6.1,0.9M404.0,393.2 l6.0,1.2M402.6,394.5 l-5.0,-0.0M404.4,394.5 l5.9,0.6M403.7,395.9 l-3.8,0.4M404.5,395.9 l3.1,-0.4M403.3,397.1 l-1.7,0.2M405.0,397.1 l2.1,1.6M403.5,398.5 l-0.9,2.7M403.8,398.5 l1.0,2.2M403.2,399.5 l-1.2,1.3M404.9,399.5 l1.4,1.7M416.3,208.5 l-0.6,1.9M418.7,208.5 l0.4,1.0M416.2,210.0 l-1.6,-0.1M418.9,210.0 l0.8,-0.2M416.7,211.1 l-1.2,1.3M418.7,211.1 l1.0,2.5M416.4,212.1 l-2.8,2.8M419.0,212.1 l2.0,1.7M417.6,213.2 l-2.5,2.0M419.1,213.2 l1.4,2.3M417.5,214.2 l-1.4,1.4M419.0,214.2 l1.7,0.7M416.8,215.3 l-1.9,1.8M417.9,215.3 l3.1,2.4M416.5,216.4 l-4.8,2.9M417.9,216.4 l4.3,1.0M416.8,217.2 l-4.3,2.2M419.0,217.2 l3.2,2.4M417.4,218.1 l-5.8,0.0M418.9,218.1 l3.3,1.8M417.3,219.3 l-5.3,-0.2M418.0,219.3 l3.2,0.9M416.3,220.5 l-4.8,2.4M418.5,220.5 l5.9,1.6M416.6,221.6 l-7.8,3.0M419.0,221.6 l7.5,2.8M417.2,222.7 l-5.5,2.4M419.2,222.7 l3.1,-0.1M417.6,223.5 l-8.0,0.5M418.9,223.5 l6.2,2.6M416.5,224.7 l-8.3,1.0M418.0,224.7 l8.6,-0.3M417.2,225.8 l-6.8,1.6M419.0,225.8 l4.3,2.0M416.4,226.8 l-7.6,0.9M419.2,226.8 l3.1,2.9M416.7,228.1 l-5.6,2.7M419.4,228.1 l5.7,1.4M417.4,229.0 l-3.4,2.8M418.6,229.0 l4.9,0.1M417.3,230.3 l-7.9,1.0M418.7,230.3 l5.8,2.8M417.0,231.5 l-5.3,2.5M419.1,231.5 l3.8,2.1M417.6,232.9 l-2.9,2.7M418.3,232.9 l4.2,0.3M417.5,233.9 l-3.9,0.3M418.9,233.9 l5.7,-0.2M417.7,235.1 l-7.5,0.7M418.4,235.1 l6.1,1.7M417.2,236.5 l-4.6,0.9M419.3,236.5 l5.7,1.6M416.7,238.0 l-4.2,2.9M418.5,238.0 l4.2,2.2M418.0,239.0 l-2.9,1.1M419.2,239.0 l7.0,0.2M418.0,240.0 l-7.2,-0.0M418.6,240.0 l5.2,-0.4M417.8,240.9 l-7.6,1.6M418.5,240.9 l7.9,2.6M416.9,242.1 l-5.1,2.1M419.5,242.1 l4.3,-0.5M417.9,242.9 l-4.8,0.0M418.7,242.9 l5.4,-0.3M416.8,244.2 l-8.2,0.7M419.5,244.2 l3.1,2.1M417.5,245.5 l-3.8,0.5M419.1,245.5 l8.3,1.8M417.4,246.4 l-6.5,0.1M418.5,246.4 l6.9,2.0M417.9,247.7 l-5.5,1.9M418.5,247.7 l3.8,1.3M416.8,248.9 l-4.9,-0.0M419.0,248.9 l6.6,1.9M417.7,249.9 l-4.2,1.1M419.2,249.9 l5.3,2.9M417.1,250.8 l-5.7,0.3M418.5,250.8 l8.1,2.9M417.6,251.7 l-6.9,2.4M418.2,251.7 l4.7,2.0M417.0,252.6 l-4.3,1.4M419.4,252.6 l6.6,1.2M417.0,253.7 l-3.0,0.8M418.5,253.7 l6.8,-0.1M417.8,255.1 l-7.7,1.8M419.2,255.1 l5.6,0.1M417.9,256.0 l-6.9,2.7M419.7,256.0 l5.8,-0.5M417.7,257.3 l-7.9,2.2M419.3,257.3 l3.7,0.4M418.1,258.4 l-8.7,0.4M418.3,258.4 l4.6,-0.1M417.2,259.3 l-5.3,2.1M418.6,259.3 l6.8,2.5M417.8,260.7 l-7.3,1.5M419.5,260.7 l5.9,2.0M417.7,261.9 l-6.0,2.7M418.8,261.9 l3.6,2.6M417.5,263.0 l-3.7,0.9M418.5,263.0 l6.2,1.8M417.2,264.3 l-8.4,-0.2M418.7,264.3 l3.2,0.3M416.9,265.4 l-3.8,1.4M419.6,265.4 l3.1,0.5M417.1,266.3 l-7.5,2.5M419.2,266.3 l6.7,0.8M417.9,267.4 l-7.9,1.7M419.2,267.4 l5.0,0.5M417.1,268.8 l-4.7,0.6M418.7,268.8 l7.6,0.6M417.2,269.7 l-5.3,2.3M419.3,269.7 l3.1,-0.3M418.3,271.0 l-4.0,0.7M418.6,271.0 l4.9,2.2M417.9,272.2 l-5.4,1.3M419.8,272.2 l7.3,1.2M418.2,273.5 l-5.8,2.9M418.7,273.5 l6.5,0.5M418.3,274.7 l-7.2,0.2M419.5,274.7 l7.0,2.7M417.4,275.8 l-3.9,2.7M419.4,275.8 l5.3,2.0M418.4,276.6 l-6.2,-0.3M419.5,276.6 l5.8,0.4M418.3,277.6 l-5.5,2.2M419.4,277.6 l8.1,0.4M417.5,278.8 l-4.5,0.5M418.8,278.8 l7.0,-0.3M417.3,280.0 l-3.9,1.3M418.7,280.0 l3.1,2.6M418.4,281.3 l-3.0,1.5M419.1,281.3 l5.4,2.0M417.8,282.5 l-3.5,-0.5M419.6,282.5 l3.2,1.7M417.3,283.9 l-3.2,1.0M419.1,283.9 l5.2,0.7M417.6,284.9 l-4.4,0.9M419.5,284.9 l7.5,1.5M417.8,285.9 l-4.8,2.5M419.0,285.9 l8.7,1.0M418.7,287.3 l-8.6,2.6M420.0,287.3 l5.5,-0.1M417.3,288.2 l-5.5,-0.3M418.7,288.2 l4.5,0.7M418.3,289.7 l-6.0,1.0M418.9,289.7 l5.0,1.7M418.2,290.9 l-4.3,1.0M418.8,290.9 l5.2,0.8M417.4,291.9 l-7.6,0.5M419.7,291.9 l6.4,-0.3M418.0,293.4 l-3.5,2.2M419.1,293.4 l5.1,0.3M417.7,294.8 l-3.6,-0.4M418.8,294.8 l7.2,0.9M418.0,295.7 l-8.3,1.8M419.2,295.7 l5.5,1.9M418.5,296.5 l-5.9,0.0M420.1,296.5 l4.2,2.1M418.6,298.0 l-4.4,1.0M420.2,298.0 l7.4,-0.3M417.5,299.2 l-7.2,2.4M419.1,299.2 l6.4,0.9M417.9,300.5 l-5.1,1.6M420.2,300.5 l7.5,1.6M417.9,301.9 l-7.2,2.5M419.7,301.9 l5.4,0.8M418.1,302.8 l-3.3,2.2M419.3,302.8 l5.3,0.5M417.7,304.1 l-7.3,1.5M419.5,304.1 l5.2,-0.1M418.0,305.6 l-6.1,1.1M419.6,305.6 l5.8,2.0M417.8,306.4 l-7.6,0.6M419.4,306.4 l7.9,1.7M418.2,307.8 l-2.9,0.5M419.8,307.8 l8.2,1.1M418.2,308.9 l-3.5,2.1M419.9,308.9 l4.9,1.5M418.4,310.2 l-4.5,0.4M419.8,310.2 l3.9,2.5M418.9,311.2 l-8.4,2.8M420.3,311.2 l5.6,2.4M417.7,312.2 l-4.4,2.1M419.8,312.2 l4.3,-0.5M418.0,313.0 l-3.1,1.7M419.8,313.0 l8.6,1.8M417.6,314.0 l-4.0,1.8M419.7,314.0 l8.2,-0.2M417.6,315.1 l-5.9,0.8M419.8,315.1 l3.1,0.1M419.0,316.3 l-6.8,2.4M419.9,316.3 l5.5,1.7M418.3,317.7 l-7.9,-0.3M420.1,317.7 l5.1,-0.1M417.7,318.5 l-8.1,0.3M420.0,318.5 l3.5,0.7M419.0,319.3 l-7.2,1.2M419.5,319.3 l5.8,2.5M417.8,320.5 l-5.1,1.5M419.8,320.5 l7.1,0.0M418.8,321.6 l-4.0,0.2M420.3,321.6 l8.3,2.0M418.5,322.4 l-3.1,-0.1M419.9,322.4 l6.9,-0.3M418.8,323.8 l-6.5,0.2M419.6,323.8 l7.6,1.3M417.9,325.0 l-3.5,2.4M420.6,325.0 l8.0,2.6M418.4,326.3 l-4.4,0.8M419.2,326.3 l3.8,-0.2M418.3,327.7 l-3.7,0.1M420.2,327.7 l5.4,1.9M417.8,329.0 l-5.5,1.4M419.8,329.0 l6.9,0.4M418.3,330.3 l-7.6,1.2M420.3,330.3 l5.9,1.3M418.0,331.7 l-3.7,2.2M419.9,331.7 l7.3,2.3M418.8,332.6 l-5.9,-0.3M420.4,332.6 l6.8,0.9M418.1,334.1 l-4.9,1.7M420.7,334.1 l3.5,2.0M418.3,335.1 l-7.9,1.7M420.4,335.1 l5.5,0.2M419.3,336.2 l-8.0,2.3M419.9,336.2 l6.1,1.5M418.5,337.7 l-7.3,0.2M420.1,337.7 l5.3,-0.3M418.7,339.0 l-7.1,-0.0M419.8,339.0 l4.2,3.0M418.3,339.8 l-6.2,0.3M420.7,339.8 l5.2,1.8M418.8,340.7 l-6.0,2.9M419.8,340.7 l5.3,0.5M419.4,342.1 l-6.5,-0.2M420.2,342.1 l7.3,0.3M418.0,343.5 l-3.3,2.6M420.6,343.5 l3.0,2.1M418.1,344.8 l-7.7,0.8M419.6,344.8 l4.7,0.2M419.2,345.8 l-3.2,0.6M419.6,345.8 l6.7,2.5M418.4,347.1 l-6.0,2.7M420.9,347.1 l3.7,2.7M418.4,348.1 l-3.2,1.3M419.9,348.1 l8.2,0.8M418.5,349.0 l-8.6,0.5M420.0,349.0 l4.2,0.6M419.1,350.1 l-3.9,1.4M420.9,350.1 l5.6,0.5M419.5,351.2 l-7.8,2.0M419.7,351.2 l6.2,0.2M418.3,352.2 l-5.9,1.8M420.8,352.2 l4.2,1.4M418.1,353.2 l-3.2,1.9M420.1,353.2 l8.6,0.7M418.8,354.5 l-8.0,0.6M420.5,354.5 l6.1,-0.4M419.5,355.5 l-3.4,3.0M420.9,355.5 l4.9,0.5M418.9,356.9 l-4.2,2.9M420.7,356.9 l4.6,2.1M418.9,357.9 l-5.5,0.5M419.8,357.9 l6.3,2.0M419.4,358.9 l-7.6,0.9M419.9,358.9 l3.7,1.1M419.4,359.8 l-8.1,1.2M420.5,359.8 l7.1,1.5M419.2,360.8 l-8.2,2.7M420.3,360.8 l5.8,1.3M418.4,362.1 l-6.7,1.6M420.7,362.1 l3.2,1.7M419.6,363.0 l-4.4,2.4M420.9,363.0 l7.0,0.0M418.7,364.1 l-3.6,0.1M419.7,364.1 l8.1,1.3M419.4,365.4 l-5.5,-0.4M420.9,365.4 l7.5,1.9M418.4,366.3 l-5.5,1.4M420.7,366.3 l4.8,1.0M419.5,367.3 l-5.1,2.7M421.0,367.3 l7.8,1.4M418.3,368.8 l-6.4,2.7M420.7,368.8 l8.6,0.1M419.7,370.0 l-4.0,1.3M420.0,370.0 l5.5,0.1M419.0,370.9 l-2.8,1.3M420.7,370.9 l3.3,-0.4M419.1,372.4 l-5.1,-0.1M420.5,372.4 l7.6,2.5M418.6,373.5 l-6.7,-0.4M421.0,373.5 l5.6,1.2M419.3,374.6 l-7.2,1.3M420.4,374.6 l4.2,0.9M419.7,375.9 l-8.6,0.5M421.2,375.9 l4.9,2.6M419.0,377.0 l-6.4,2.8M420.4,377.0 l5.0,2.6M419.4,377.9 l-6.9,1.3M420.0,377.9 l7.7,2.6M418.4,379.3 l-8.6,-0.2M421.1,379.3 l3.5,1.8M419.2,380.6 l-5.8,2.3M420.9,380.6 l5.1,0.4M419.3,381.6 l-8.0,0.5M420.4,381.6 l4.0,1.8M419.3,382.5 l-4.5,-0.4M420.0,382.5 l7.6,2.7M419.8,383.3 l-6.2,2.1M420.1,383.3 l8.3,1.0M419.1,384.6 l-7.4,0.0M420.1,384.6 l2.9,2.7M419.9,385.8 l-5.6,0.9M420.7,385.8 l8.3,0.8M419.5,386.8 l-3.2,1.8M421.2,386.8 l3.5,1.0M419.0,387.7 l-4.8,2.0M421.3,387.7 l4.7,0.6M419.3,389.0 l-2.8,1.4M421.3,389.0 l5.8,0.5M419.2,390.4 l-3.6,1.6M420.8,390.4 l2.9,0.2M418.8,391.9 l-1.9,1.8M421.4,391.9 l1.3,-0.2M419.2,393.1 l-1.2,0.9M421.5,393.1 l1.7,1.7M419.6,394.1 l-0.4,2.9M420.3,394.1 l0.6,1.0M434.1,201.0 l-0.4,0.8M436.2,201.0 l0.6,1.4M434.0,202.3 l-1.1,2.0M435.3,202.3 l1.4,1.5M433.7,203.7 l-1.5,2.9M435.2,203.7 l2.1,2.3M434.2,204.8 l-2.2,1.7M435.4,204.8 l1.0,2.3M434.8,206.2 l-3.6,2.4M435.2,206.2 l1.4,2.3M434.8,207.5 l-3.0,1.1M436.1,207.5 l2.9,2.4M433.8,208.9 l-4.0,2.9M435.2,208.9 l1.9,1.0M434.3,210.3 l-5.8,2.2M435.9,210.3 l4.6,1.5M435.1,211.4 l-3.4,-0.4M436.1,211.4 l6.0,2.0M433.8,212.4 l-2.7,0.7M436.5,212.4 l6.5,1.7M434.7,213.5 l-4.0,1.8M435.9,213.5 l6.0,2.3M435.1,214.5 l-4.3,0.2M436.7,214.5 l6.1,2.6M434.7,215.8 l-6.2,2.7M436.4,215.8 l4.7,0.7M434.0,217.0 l-7.8,1.2M435.5,217.0 l6.3,-0.5M434.8,218.4 l-7.2,0.3M435.9,218.4 l6.5,-0.2M434.3,219.3 l-5.9,1.5M436.5,219.3 l6.0,2.4M434.3,220.6 l-4.9,1.8M435.7,220.6 l7.4,-0.5M434.0,221.7 l-5.2,2.4M435.5,221.7 l5.9,2.3M433.9,223.0 l-5.5,2.8M435.8,223.0 l5.6,2.5M433.9,223.9 l-8.5,-0.5M435.6,223.9 l5.5,0.5M435.3,224.9 l-5.9,0.2M436.0,224.9 l3.3,0.5M435.0,226.0 l-5.7,0.3M436.6,226.0 l5.3,-0.2M434.4,227.2 l-6.5,-0.2M435.7,227.2 l3.3,2.6M434.0,228.6 l-7.8,-0.4M435.9,228.6 l8.5,1.4M434.6,229.8 l-7.5,0.5M436.6,229.8 l5.3,1.4M434.6,230.9 l-6.6,1.9M436.4,230.9 l4.2,-0.1M435.0,232.2 l-5.8,3.0M436.8,232.2 l6.1,0.8M435.1,233.3 l-3.5,2.4M436.9,233.3 l8.1,0.8M434.7,234.6 l-3.6,0.8M436.2,234.6 l8.1,0.8M434.2,235.7 l-8.5,1.8M436.4,235.7 l3.1,1.2M435.5,236.6 l-3.8,0.1M436.5,236.6 l6.7,-0.3M434.3,237.7 l-3.9,0.2M436.9,237.7 l5.8,-0.4M434.9,239.2 l-3.5,1.1M436.9,239.2 l2.9,-0.0M434.1,240.4 l-6.1,1.8M436.3,240.4 l7.2,2.9M435.2,241.3 l-7.8,1.1M436.5,241.3 l6.4,2.6M434.2,242.5 l-4.3,-0.0M435.8,242.5 l7.9,1.6M434.7,243.3 l-7.2,1.0M436.6,243.3 l5.7,-0.5M434.9,244.6 l-5.9,0.6M436.7,244.6 l7.0,0.1M434.2,245.6 l-5.2,1.5M436.2,245.6 l5.4,1.4M434.4,246.6 l-6.9,2.7M437.0,246.6 l6.0,1.4M434.4,247.4 l-6.6,0.5M436.6,247.4 l4.2,2.1M434.3,248.4 l-8.2,0.1M436.3,248.4 l6.9,1.3M435.3,249.5 l-3.0,0.7M436.5,249.5 l6.2,2.3M434.5,250.9 l-8.7,0.2M436.8,250.9 l6.2,-0.2M434.6,252.2 l-4.6,3.0M436.1,252.2 l3.5,-0.5M435.6,253.5 l-2.8,0.2M437.1,253.5 l7.9,1.5M434.8,254.5 l-6.2,1.2M437.2,254.5 l6.6,0.0M434.7,255.3 l-7.9,1.9M435.8,255.3 l4.9,2.0M435.0,256.2 l-3.2,1.9M436.6,256.2 l6.9,2.1M434.3,257.3 l-7.6,-0.1M436.5,257.3 l8.2,-0.0M434.5,258.6 l-5.1,0.9M436.2,258.6 l8.2,0.9M434.5,260.1 l-7.0,1.9M435.9,260.1 l5.4,0.4M434.5,261.2 l-3.0,1.1M437.1,261.2 l3.8,1.5M435.7,262.1 l-6.1,1.7M436.4,262.1 l4.1,2.2M434.5,263.0 l-5.8,2.1M437.3,263.0 l4.1,1.1M435.3,264.0 l-2.8,0.2M436.0,264.0 l3.7,0.3M434.5,265.1 l-2.8,0.8M436.3,265.1 l3.8,1.4M434.6,266.0 l-4.0,1.6M436.4,266.0 l4.5,2.1M435.4,267.2 l-7.0,1.8M436.3,267.2 l3.4,-0.1M435.9,268.6 l-5.8,2.3M437.4,268.6 l7.3,3.0M434.5,269.8 l-7.4,2.9M436.2,269.8 l5.3,2.0M435.6,271.3 l-3.2,-0.3M437.0,271.3 l4.6,-0.0M434.6,272.6 l-5.8,1.5M436.5,272.6 l5.0,2.2M434.6,273.5 l-4.9,1.2M437.1,273.5 l3.4,-0.2M435.5,274.3 l-8.1,2.5M436.4,274.3 l7.0,-0.5M434.9,275.4 l-3.9,0.2M437.4,275.4 l3.8,2.6M435.4,276.6 l-5.7,2.6M436.3,276.6 l5.9,1.2M435.0,277.4 l-7.2,1.8M436.9,277.4 l7.3,0.5M435.0,278.6 l-6.2,2.7M436.7,278.6 l5.3,-0.5M434.7,279.9 l-5.0,1.1M436.5,279.9 l8.4,-0.1M436.2,280.8 l-2.9,0.1M436.4,280.8 l6.2,1.6M435.2,282.2 l-2.8,2.1M437.5,282.2 l8.6,2.0M435.9,283.3 l-2.8,2.5M436.2,283.3 l2.9,2.6M435.1,284.7 l-5.8,0.4M437.7,284.7 l7.4,2.9M435.9,285.9 l-4.2,2.8M437.0,285.9 l5.0,2.6M436.2,286.9 l-6.1,-0.4M437.4,286.9 l7.0,-0.1M434.9,288.0 l-6.4,2.1M437.4,288.0 l4.1,0.9M436.2,289.1 l-3.2,1.3M437.1,289.1 l5.8,0.7M435.2,290.3 l-3.3,0.6M436.7,290.3 l4.2,0.4M435.2,291.4 l-4.9,2.9M436.8,291.4 l6.6,0.4M435.0,292.8 l-3.5,-0.0M436.8,292.8 l7.5,-0.5M435.9,293.8 l-6.7,2.4M437.1,293.8 l4.1,0.0M435.8,295.1 l-3.6,1.2M437.1,295.1 l3.2,1.1M435.7,296.5 l-8.0,1.8M437.0,296.5 l2.9,2.9M435.4,297.9 l-5.4,0.9M436.4,297.9 l7.6,0.9M436.0,298.9 l-8.6,-0.3M437.8,298.9 l6.1,0.9M435.6,300.3 l-3.4,1.2M436.8,300.3 l3.2,-0.0M436.0,301.4 l-8.7,0.9M436.5,301.4 l7.8,1.3M435.2,302.8 l-6.4,0.5M437.6,302.8 l4.5,2.4M436.4,303.9 l-4.0,2.6M437.9,303.9 l3.6,0.6M436.1,304.8 l-7.0,0.2M437.4,304.8 l7.7,1.7M436.4,306.2 l-3.7,0.3M437.6,306.2 l6.9,-0.0M435.9,307.1 l-8.2,1.1M436.7,307.1 l3.1,1.5M435.4,308.6 l-6.0,1.3M437.6,308.6 l7.3,1.9M435.7,309.9 l-7.5,1.5M436.7,309.9 l6.5,1.6M436.1,310.9 l-4.9,2.5M437.7,310.9 l4.2,1.4M435.6,312.3 l-4.9,-0.5M437.8,312.3 l3.6,2.2M436.1,313.7 l-8.1,0.6M436.7,313.7 l5.2,2.7M435.5,315.0 l-5.8,1.5M436.7,315.0 l4.2,1.9M435.8,316.4 l-3.7,1.5M436.8,316.4 l7.4,2.4M435.9,317.4 l-6.0,0.9M437.0,317.4 l3.6,0.5M436.0,318.8 l-3.9,1.7M437.7,318.8 l3.3,-0.4M436.0,320.0 l-5.4,0.6M438.0,320.0 l7.0,2.3M436.6,321.1 l-4.0,1.4M436.8,321.1 l6.9,-0.1M436.4,321.9 l-8.3,1.9M437.7,321.9 l6.2,1.6M435.7,323.2 l-7.8,2.0M436.8,323.2 l5.3,0.8M436.0,324.6 l-3.0,2.6M436.9,324.6 l8.3,1.6M436.2,326.0 l-4.6,1.1M437.2,326.0 l6.2,0.0M435.3,327.4 l-2.9,-0.4M437.9,327.4 l3.9,0.2M436.6,328.4 l-7.0,1.7M438.2,328.4 l3.8,2.1M436.0,329.8 l-6.9,2.1M437.4,329.8 l3.0,1.2M436.8,331.0 l-4.1,0.4M438.0,331.0 l8.0,0.1M435.7,331.9 l-3.4,2.6M437.7,331.9 l8.8,2.0M436.2,333.0 l-7.6,0.5M437.6,333.0 l4.7,-0.3M436.7,334.0 l-3.7,2.0M438.1,334.0 l6.1,0.7M435.8,335.0 l-7.4,1.4M437.0,335.0 l5.9,-0.1M436.4,336.3 l-3.6,-0.5M437.0,336.3 l3.8,2.0M436.8,337.7 l-3.6,-0.2M437.9,337.7 l5.1,0.2M435.9,338.9 l-8.1,1.8M438.0,338.9 l6.0,2.0M436.3,340.2 l-3.4,1.9M437.1,340.2 l8.2,1.3M435.8,341.4 l-5.5,2.6M437.1,341.4 l3.1,2.3M436.7,342.4 l-4.5,0.8M438.0,342.4 l4.6,0.2M435.8,343.8 l-4.4,2.3M438.0,343.8 l3.8,-0.3M436.3,345.0 l-3.3,0.6M438.5,345.0 l8.3,2.6M436.0,345.9 l-6.4,-0.1M438.4,345.9 l2.8,2.0M435.9,347.1 l-8.4,2.9M437.3,347.1 l7.6,3.0M436.7,348.5 l-7.9,1.0M437.5,348.5 l6.2,2.9M436.1,349.3 l-5.7,2.1M437.6,349.3 l4.5,2.5M436.9,350.5 l-4.2,1.0M438.6,350.5 l7.9,2.9M435.9,351.4 l-8.1,2.2M438.5,351.4 l5.0,-0.5M436.2,352.9 l-4.1,1.2M438.2,352.9 l3.2,0.8M436.0,354.0 l-3.9,2.8M438.2,354.0 l7.6,2.3M436.2,355.4 l-6.7,0.3M438.2,355.4 l5.0,1.6M435.8,356.3 l-4.4,1.9M437.4,356.3 l3.4,2.5M436.7,357.2 l-5.3,0.8M438.5,357.2 l5.9,2.9M435.8,358.4 l-4.9,-0.2M438.2,358.4 l7.0,-0.5M436.3,359.7 l-7.4,1.0M438.2,359.7 l4.9,-0.1M436.5,361.0 l-8.8,-0.3M438.4,361.0 l4.8,1.9M436.0,362.5 l-8.4,0.3M438.5,362.5 l5.1,2.2M437.0,363.8 l-3.2,2.8M437.5,363.8 l8.3,0.5M436.7,365.2 l-8.6,0.6M437.4,365.2 l4.2,-0.5M437.4,366.5 l-3.9,1.3M438.3,366.5 l4.2,1.2M437.2,367.4 l-3.9,2.9M438.9,367.4 l3.5,1.0M436.2,368.5 l-5.2,2.2M437.8,368.5 l8.3,0.0M436.7,369.6 l-4.2,1.4M438.9,369.6 l5.8,0.3M436.6,370.8 l-3.8,-0.2M438.2,370.8 l5.8,-0.3M437.2,371.8 l-6.7,2.2M438.2,371.8 l4.0,0.4M436.7,372.7 l-6.1,-0.2M437.8,372.7 l4.1,2.8M436.4,373.6 l-6.3,2.2M438.9,373.6 l6.1,2.8M437.1,374.5 l-5.3,1.4M438.1,374.5 l6.4,1.0M437.5,375.8 l-4.2,-0.1M438.6,375.8 l8.1,0.9M436.9,376.8 l-6.7,1.2M438.5,376.8 l5.7,1.7M436.2,378.2 l-7.6,0.3M438.6,378.2 l8.3,0.9M436.7,379.4 l-5.3,0.1M438.1,379.4 l3.4,0.5M436.8,380.7 l-4.4,2.9M437.8,380.7 l7.0,2.1M437.5,381.9 l-2.3,2.3M438.5,381.9 l2.4,2.7M437.5,382.8 l-3.8,2.5M438.1,382.8 l4.7,0.8M437.0,384.2 l-3.4,0.7M437.9,384.2 l3.4,1.9M437.4,385.3 l-3.3,0.6M437.7,385.3 l2.5,2.6M437.1,386.2 l-2.8,-0.1M438.6,386.2 l1.8,0.3M436.5,387.6 l-0.8,1.0M438.7,387.6 l1.7,0.1M450.5,207.6 l-0.6,2.1M452.2,207.6 l0.3,0.6M450.5,208.6 l-1.3,1.6M451.4,208.6 l1.3,0.8M450.2,209.4 l-1.5,0.1M451.2,209.4 l1.4,2.4M450.3,210.3 l-1.4,2.3M451.6,210.3 l1.1,2.1M450.8,211.4 l-2.9,1.3M451.9,211.4 l2.4,0.4M449.9,212.9 l-2.3,1.4M452.0,212.9 l3.1,1.9M449.8,213.9 l-2.9,1.6M452.4,213.9 l3.9,2.4M449.7,215.0 l-2.7,2.0M451.9,215.0 l4.3,1.7M450.6,216.4 l-2.3,2.4M451.7,216.4 l3.7,0.3M450.1,217.4 l-2.0,2.7M452.0,217.4 l3.0,0.5M450.7,218.7 l-3.1,2.7M451.6,218.7 l4.2,0.0M451.1,220.0 l-4.3,0.1M451.3,220.0 l5.2,2.5M450.4,221.5 l-3.8,-0.5M451.5,221.5 l6.6,1.2M450.7,222.4 l-5.0,2.3M451.4,222.4 l4.0,1.5M450.2,223.5 l-8.7,1.1M452.6,223.5 l7.8,2.3M450.7,224.5 l-4.6,3.0M452.2,224.5 l5.1,2.7M451.2,225.4 l-5.6,1.1M452.4,225.4 l7.1,1.7M449.8,226.8 l-5.6,1.0M452.0,226.8 l6.8,2.4M450.2,227.6 l-7.7,1.7M452.5,227.6 l6.3,1.1M450.5,228.7 l-3.9,-0.3M452.3,228.7 l7.2,2.9M451.2,229.9 l-8.3,0.8M451.4,229.9 l4.2,2.4M450.0,231.3 l-6.2,1.9M452.1,231.3 l3.9,1.3M451.1,232.5 l-8.7,-0.1M452.6,232.5 l8.4,0.4M450.2,233.9 l-4.0,1.6M451.6,233.9 l6.6,-0.3M450.9,235.1 l-7.4,-0.4M452.6,235.1 l4.1,2.4M449.9,236.2 l-4.4,0.8M451.5,236.2 l3.3,2.6M450.4,237.3 l-7.6,0.3M451.8,237.3 l4.6,0.5M451.1,238.1 l-4.3,-0.0M451.9,238.1 l8.4,2.7M450.8,239.5 l-6.2,0.6M452.1,239.5 l4.1,1.5M450.2,240.8 l-8.6,1.2M452.0,240.8 l4.7,-0.4M450.8,241.7 l-8.5,2.4M451.4,241.7 l6.4,1.1M450.4,243.1 l-3.1,0.8M451.9,243.1 l4.0,2.5M450.9,244.6 l-8.8,-0.0M452.0,244.6 l5.1,1.2M450.0,245.5 l-8.1,2.5M451.5,245.5 l4.6,2.3M451.1,246.6 l-4.1,0.8M452.5,246.6 l8.0,2.5M450.1,248.0 l-6.9,0.9M452.6,248.0 l8.7,0.0M451.4,249.0 l-5.1,1.5M451.9,249.0 l7.9,2.6M450.0,250.4 l-3.8,1.3M452.4,250.4 l5.6,0.2M451.3,251.5 l-3.7,2.7M452.0,251.5 l5.8,2.7M450.5,252.5 l-4.5,0.1M452.6,252.5 l4.4,1.3M451.4,253.5 l-4.2,2.6M452.5,253.5 l3.8,2.7M450.4,254.4 l-7.2,1.5M451.8,254.4 l3.7,0.9M451.0,255.5 l-4.3,-0.4M452.4,255.5 l5.3,0.5M450.1,256.7 l-7.3,2.0M451.9,256.7 l4.8,1.5M450.6,257.8 l-8.3,1.2M452.7,257.8 l7.1,2.4M450.2,259.0 l-6.3,2.0M452.6,259.0 l7.9,0.6M451.2,260.1 l-6.8,1.9M451.8,260.1 l5.0,3.0M451.5,261.4 l-3.3,0.7M452.9,261.4 l6.2,0.2M451.1,262.6 l-5.4,-0.4M452.3,262.6 l6.1,2.8M450.8,263.6 l-8.1,2.6M452.4,263.6 l4.0,1.7M450.2,264.9 l-3.4,2.0M451.8,264.9 l5.5,0.4M450.5,266.1 l-8.6,0.1M452.0,266.1 l8.0,1.2M451.3,267.1 l-6.4,2.2M452.1,267.1 l6.8,-0.2M451.5,268.5 l-6.7,-0.3M451.9,268.5 l6.3,0.3M451.2,269.6 l-4.6,0.2M452.6,269.6 l7.1,-0.5M451.0,271.1 l-3.0,0.3M452.4,271.1 l3.5,1.1M450.5,272.5 l-4.8,0.1M451.7,272.5 l5.1,2.3M450.4,273.3 l-5.2,1.6M452.9,273.3 l5.9,3.0M451.2,274.1 l-7.1,0.9M452.6,274.1 l8.1,-0.0M450.6,275.0 l-5.9,3.0M452.1,275.0 l3.7,0.3M450.5,276.4 l-7.5,2.6M452.3,276.4 l5.4,2.0M450.5,277.5 l-5.8,-0.4M452.5,277.5 l4.5,1.9M451.8,278.4 l-7.0,2.3M453.1,278.4 l8.7,-0.5M450.5,279.8 l-7.5,-0.2M453.2,279.8 l5.3,1.7M450.5,281.1 l-7.6,0.6M452.9,281.1 l7.1,0.4M451.3,282.0 l-2.8,2.9M452.3,282.0 l3.0,0.5M450.7,282.8 l-8.2,0.7M451.9,282.8 l8.4,2.8M451.8,284.1 l-3.0,2.5M452.6,284.1 l8.1,0.1M450.7,285.4 l-8.3,-0.4M452.6,285.4 l7.4,1.6M451.4,286.4 l-3.4,2.2M451.9,286.4 l7.4,1.2M450.8,287.4 l-3.7,2.0M452.7,287.4 l8.2,2.6M451.6,288.4 l-3.9,0.7M451.9,288.4 l4.3,0.4M450.5,289.4 l-8.6,2.1M452.6,289.4 l3.1,-0.4M451.6,290.7 l-3.7,-0.1M452.2,290.7 l6.5,0.6M450.8,291.6 l-2.9,-0.2M452.7,291.6 l8.3,0.1M451.0,292.8 l-4.1,0.8M453.1,292.8 l5.5,-0.1M451.2,294.0 l-7.7,1.1M452.5,294.0 l6.5,2.2M450.9,295.2 l-6.1,0.3M453.4,295.2 l8.6,2.8M450.6,296.5 l-5.1,2.0M453.2,296.5 l8.7,1.5M450.6,297.9 l-7.3,1.5M452.0,297.9 l4.9,2.6M450.7,299.1 l-4.7,1.2M452.1,299.1 l8.1,2.7M451.0,300.5 l-5.8,1.2M453.5,300.5 l4.3,2.9M451.7,301.9 l-8.1,1.3M452.4,301.9 l4.1,2.8M451.1,303.1 l-5.0,1.0M452.5,303.1 l4.6,1.0M451.5,303.9 l-5.0,0.6M452.1,303.9 l6.6,0.4M451.5,305.0 l-8.5,-0.4M452.8,305.0 l8.6,0.4M451.2,305.9 l-7.8,2.9M452.1,305.9 l6.6,0.4M452.1,307.0 l-8.2,0.2M453.3,307.0 l6.0,0.7M452.1,308.3 l-7.8,0.7M452.6,308.3 l3.9,0.2M452.0,309.4 l-8.8,2.4M452.2,309.4 l6.9,2.8M451.2,310.5 l-3.9,2.5M453.2,310.5 l4.3,1.6M451.8,311.8 l-3.1,0.5M453.5,311.8 l3.4,2.4M451.7,312.8 l-3.4,0.3M453.6,312.8 l5.1,1.1M451.1,314.0 l-8.4,0.4M453.7,314.0 l3.3,-0.4M451.4,315.4 l-6.1,-0.1M453.4,315.4 l6.5,0.7M450.9,316.5 l-5.6,1.7M452.8,316.5 l3.8,0.9M451.2,317.8 l-8.6,1.3M453.0,317.8 l3.9,2.3M451.2,319.3 l-3.5,0.3M453.3,319.3 l8.1,-0.5M451.5,320.4 l-5.9,0.3M453.7,320.4 l6.8,0.6M451.1,321.3 l-4.0,2.6M452.9,321.3 l3.8,-0.4M451.1,322.6 l-8.5,0.7M453.1,322.6 l4.6,-0.3M451.4,323.6 l-5.6,0.1M452.4,323.6 l6.8,0.1M450.8,324.9 l-8.8,1.5M453.6,324.9 l6.1,1.1M451.1,326.4 l-4.1,-0.4M452.8,326.4 l8.2,1.8M451.4,327.8 l-8.6,1.6M453.4,327.8 l8.6,0.2M451.1,329.2 l-5.2,1.9M453.3,329.2 l4.0,2.0M451.3,330.3 l-5.4,2.9M452.7,330.3 l5.1,1.5M452.1,331.2 l-8.0,2.3M452.9,331.2 l8.3,2.5M451.9,332.1 l-3.4,2.4M453.4,332.1 l5.1,1.9M451.1,333.5 l-3.9,0.5M452.8,333.5 l6.1,0.0M452.2,334.5 l-8.7,-0.2M453.8,334.5 l4.2,-0.2M451.1,335.6 l-7.2,1.6M453.2,335.6 l3.3,2.9M451.1,336.6 l-6.6,0.3M453.7,336.6 l5.2,2.8M451.4,337.7 l-4.7,2.6M453.9,337.7 l7.0,0.8M452.1,339.1 l-8.5,1.7M453.3,339.1 l5.0,2.2M452.3,340.1 l-5.1,-0.1M453.6,340.1 l6.9,1.8M452.1,341.3 l-6.8,1.3M452.8,341.3 l5.4,0.5M451.4,342.6 l-3.3,0.6M453.0,342.6 l5.8,-0.4M451.9,343.4 l-5.6,2.4M453.0,343.4 l8.6,2.8M451.3,344.5 l-3.5,0.9M453.8,344.5 l7.3,1.6M451.4,345.7 l-7.5,0.3M452.7,345.7 l6.2,0.7M452.5,346.9 l-6.9,1.3M453.3,346.9 l7.5,1.9M451.4,348.0 l-7.1,2.8M453.6,348.0 l4.4,0.3M451.2,349.1 l-5.5,2.1M453.6,349.1 l8.6,2.1M451.9,350.3 l-6.8,2.3M453.3,350.3 l8.3,2.3M452.4,351.3 l-3.4,0.2M453.0,351.3 l3.7,-0.1M451.4,352.2 l-4.3,2.9M453.3,352.2 l6.6,2.0M451.3,353.2 l-3.2,2.8M453.6,353.2 l3.1,2.3M452.1,354.5 l-8.8,2.3M453.7,354.5 l8.6,0.3M452.0,356.0 l-4.3,2.9M453.4,356.0 l6.3,0.9M451.8,357.3 l-3.6,1.7M454.1,357.3 l5.5,-0.0M452.2,358.3 l-6.8,0.8M452.8,358.3 l8.6,2.1M452.5,359.1 l-7.8,2.5M453.5,359.1 l3.3,-0.0M452.6,360.3 l-8.4,1.9M453.2,360.3 l4.4,0.3M451.4,361.5 l-6.9,1.8M453.0,361.5 l6.9,0.7M451.4,362.8 l-7.5,2.6M453.7,362.8 l4.1,-0.2M452.4,364.1 l-5.2,2.1M453.8,364.1 l7.7,0.8M451.8,365.2 l-3.5,2.0M453.4,365.2 l2.8,2.3M451.9,366.6 l-6.8,0.9M453.8,366.6 l7.0,2.8M452.1,367.8 l-5.1,1.3M453.6,367.8 l5.1,1.2M452.3,369.1 l-3.9,0.4M453.3,369.1 l6.4,0.8M452.1,370.4 l-6.1,2.5M453.5,370.4 l3.9,0.5M452.1,371.8 l-7.7,-0.0M453.6,371.8 l3.9,2.0M451.4,372.9 l-6.8,0.4M453.8,372.9 l8.4,2.4M452.8,373.9 l-6.0,-0.4M453.5,373.9 l3.6,0.2M452.4,375.2 l-4.4,0.5M453.0,375.2 l5.9,-0.2M451.5,376.2 l-2.0,2.9M454.1,376.2 l4.2,-0.2M452.2,377.3 l-3.8,0.7M452.9,377.3 l2.4,-0.3M452.3,378.2 l-3.7,2.3M454.0,378.2 l2.0,0.2M451.7,379.1 l-1.3,0.0M454.0,379.1 l1.7,2.7M452.1,380.2 l-0.7,2.4M453.3,380.2 l0.9,1.8M452.0,381.3 l-0.6,0.9M454.1,381.3 l0.9,0.2M468.2,217.0 l-0.3,0.7M470.1,217.0 l0.4,-0.4M469.3,218.1 l-0.7,2.8M470.8,218.1 l0.7,1.6M468.8,219.5 l-1.8,0.8M470.1,219.5 l1.2,1.4M469.3,220.8 l-2.5,-0.3M470.6,220.8 l2.7,0.9M468.7,221.9 l-1.2,-0.1M470.2,221.9 l1.2,-0.2M468.8,222.9 l-3.6,0.0M470.0,222.9 l1.5,0.1M468.7,224.1 l-2.9,0.3M470.2,224.1 l2.5,0.8M469.5,225.1 l-4.5,2.1M470.2,225.1 l5.0,2.2M468.3,226.0 l-4.9,2.8M469.9,226.0 l5.4,1.3M468.7,226.8 l-5.9,0.8M470.6,226.8 l4.7,1.5M469.1,228.0 l-3.3,-0.3M470.1,228.0 l5.3,2.9M468.2,229.1 l-6.2,2.9M470.2,229.1 l5.0,0.0M469.0,230.3 l-5.8,2.4M470.0,230.3 l4.1,-0.0M468.6,231.3 l-7.0,0.7M470.8,231.3 l8.4,0.5M469.1,232.2 l-3.6,-0.1M470.9,232.2 l3.2,0.6M468.4,233.7 l-5.3,0.6M470.7,233.7 l6.5,2.3M469.3,235.0 l-6.4,2.4M470.8,235.0 l5.1,2.5M468.4,236.1 l-4.1,0.2M471.1,236.1 l6.0,2.1M469.6,237.3 l-3.8,-0.2M469.7,237.3 l4.5,1.3M468.3,238.5 l-8.6,0.9M470.7,238.5 l3.5,-0.0M468.9,239.6 l-3.2,2.5M470.5,239.6 l7.9,1.4M469.0,240.5 l-6.3,0.7M470.7,240.5 l7.9,0.9M468.5,241.9 l-3.6,-0.1M471.0,241.9 l8.8,2.6M468.4,242.7 l-8.8,2.6M470.0,242.7 l5.9,0.0M468.2,244.2 l-3.4,1.9M469.9,244.2 l6.2,2.8M469.2,245.2 l-7.8,-0.1M470.3,245.2 l5.8,0.5M469.2,246.3 l-2.9,1.7M470.6,246.3 l8.2,2.7M469.2,247.4 l-7.2,2.4M469.8,247.4 l6.4,0.2M469.6,248.6 l-6.5,0.9M471.0,248.6 l3.7,0.1M469.2,250.0 l-7.6,2.2M471.0,250.0 l5.7,2.3M468.8,251.2 l-5.2,2.7M470.4,251.2 l7.2,0.4M469.3,252.6 l-5.2,1.5M471.0,252.6 l8.5,1.1M469.3,253.5 l-4.9,-0.3M470.7,253.5 l5.0,2.7M468.4,254.6 l-3.2,0.4M470.7,254.6 l5.2,2.0M468.3,255.5 l-4.4,2.7M470.0,255.5 l5.7,2.2M469.2,256.8 l-7.3,1.2M469.8,256.8 l4.5,1.2M469.5,258.0 l-5.9,0.4M469.8,258.0 l4.8,2.7M469.2,258.9 l-3.4,2.2M470.7,258.9 l4.8,1.6M468.5,260.3 l-6.5,3.0M471.2,260.3 l3.1,-0.2M469.4,261.2 l-6.9,-0.4M470.9,261.2 l7.9,0.2M468.4,262.3 l-5.4,1.7M471.1,262.3 l3.4,2.3M469.1,263.3 l-8.3,1.4M471.0,263.3 l4.2,-0.4M469.5,264.4 l-3.8,0.2M471.0,264.4 l8.2,2.1M469.0,265.8 l-4.5,0.9M470.7,265.8 l4.6,0.7M468.3,267.2 l-3.1,2.2M470.1,267.2 l4.3,0.6M469.4,268.2 l-4.6,1.2M470.7,268.2 l4.7,1.2M469.7,269.2 l-4.7,3.0M470.2,269.2 l7.8,2.4M468.7,270.3 l-3.2,-0.3M471.2,270.3 l8.0,0.6M468.4,271.7 l-8.6,0.1M470.3,271.7 l7.3,1.8M469.2,273.0 l-3.9,0.4M470.8,273.0 l7.7,2.1M468.3,274.4 l-5.6,-0.3M471.2,274.4 l2.9,2.8M468.4,275.6 l-6.0,1.9M469.9,275.6 l7.1,1.1M469.3,276.7 l-5.4,0.0M471.2,276.7 l7.2,2.1M468.9,277.9 l-3.3,2.4M471.2,277.9 l4.5,0.9M469.5,279.1 l-7.5,2.4M470.6,279.1 l4.3,0.9M469.3,280.4 l-6.5,2.8M470.7,280.4 l8.4,-0.4M469.8,281.3 l-6.1,2.0M470.0,281.3 l5.6,0.8M469.1,282.2 l-3.7,2.9M470.4,282.2 l5.8,0.3M469.0,283.4 l-6.7,1.2M471.1,283.4 l5.4,1.0M469.5,284.6 l-5.0,-0.3M471.0,284.6 l6.6,0.3M468.5,286.0 l-6.6,0.3M471.0,286.0 l6.7,-0.4M469.3,287.0 l-8.5,1.4M471.0,287.0 l6.3,0.7M469.9,288.5 l-3.4,-0.3M471.2,288.5 l7.9,0.2M468.9,289.5 l-8.0,1.7M470.9,289.5 l6.5,1.0M469.4,290.6 l-8.3,-0.2M470.9,290.6 l3.8,2.8M469.3,291.9 l-4.6,1.8M471.2,291.9 l3.8,0.4M469.9,293.3 l-4.2,1.1M471.0,293.3 l6.2,1.9M469.5,294.8 l-8.0,0.1M470.6,294.8 l5.7,2.2M469.8,296.2 l-4.5,2.8M470.3,296.2 l5.9,0.5M469.3,297.1 l-3.4,0.0M471.4,297.1 l4.2,2.5M468.6,298.5 l-8.2,2.8M471.4,298.5 l7.8,0.9M469.7,299.5 l-7.6,-0.0M471.1,299.5 l3.2,0.9M469.3,300.5 l-4.2,1.6M470.8,300.5 l3.3,0.0M469.1,301.7 l-7.2,0.6M470.9,301.7 l5.6,0.8M469.4,303.2 l-4.7,1.7M470.6,303.2 l4.6,1.7M468.7,304.4 l-4.9,0.6M470.1,304.4 l7.1,-0.3M469.6,305.6 l-2.9,1.9M470.3,305.6 l3.7,1.4M469.9,307.0 l-4.3,0.6M470.3,307.0 l2.9,-0.5M468.9,308.3 l-5.9,2.0M470.3,308.3 l5.9,-0.1M469.5,309.8 l-6.5,0.5M471.2,309.8 l5.7,-0.4M469.7,310.9 l-8.7,0.0M471.5,310.9 l7.7,-0.1M469.5,312.1 l-5.4,0.8M471.5,312.1 l2.8,1.9M469.9,313.4 l-8.2,1.2M471.3,313.4 l3.7,0.2M469.0,314.5 l-7.3,-0.1M471.3,314.5 l5.2,-0.1M469.5,315.7 l-8.5,0.2M470.5,315.7 l5.8,2.7M469.1,316.8 l-8.2,-0.3M471.4,316.8 l7.9,0.2M468.9,318.0 l-4.9,0.3M470.2,318.0 l5.2,-0.2M469.1,319.4 l-5.5,0.6M471.3,319.4 l5.4,2.7M469.9,320.4 l-5.0,2.0M470.3,320.4 l8.3,0.6M468.8,321.6 l-6.9,0.2M470.6,321.6 l2.9,1.5M469.8,322.9 l-5.9,0.5M470.1,322.9 l6.6,-0.1M469.1,324.1 l-6.2,0.7M470.5,324.1 l3.2,2.2M468.8,325.3 l-5.4,-0.5M471.1,325.3 l3.4,1.0M469.6,326.7 l-5.7,1.1M470.6,326.7 l5.6,2.6M469.4,327.7 l-7.9,0.4M470.9,327.7 l7.7,0.1M469.5,328.5 l-5.0,1.8M470.8,328.5 l4.1,2.8M469.4,329.9 l-4.7,1.5M470.7,329.9 l8.6,2.6M469.0,331.0 l-3.8,1.9M471.1,331.0 l5.5,3.0M469.1,331.9 l-6.6,0.8M471.0,331.9 l4.5,2.0M469.2,333.1 l-5.4,-0.3M470.8,333.1 l4.5,2.6M468.9,334.0 l-6.1,-0.3M470.5,334.0 l7.4,2.0M470.0,334.9 l-5.7,1.8M470.6,334.9 l7.4,0.3M470.1,335.8 l-4.8,1.9M470.5,335.8 l3.2,0.6M469.3,336.6 l-8.4,2.9M470.2,336.6 l2.8,1.6M469.9,337.9 l-3.9,0.4M471.4,337.9 l3.3,1.7M469.4,339.2 l-8.0,0.1M471.7,339.2 l4.9,2.0M470.1,340.4 l-6.1,-0.1M471.0,340.4 l3.4,3.0M468.8,341.4 l-6.5,1.8M471.4,341.4 l5.2,-0.1M469.5,342.5 l-5.4,1.2M470.4,342.5 l3.5,-0.4M469.5,343.4 l-6.4,2.2M471.0,343.4 l6.9,1.7M470.0,344.2 l-6.5,2.4M470.5,344.2 l7.2,0.9M469.3,345.5 l-2.9,-0.3M471.5,345.5 l3.0,2.0M469.3,346.6 l-8.1,2.8M471.7,346.6 l4.5,-0.3M469.9,347.7 l-5.4,1.8M471.2,347.7 l3.1,1.9M469.1,348.7 l-4.9,1.6M471.2,348.7 l6.8,2.2M469.1,349.5 l-3.7,1.8M470.5,349.5 l4.8,0.6M470.1,350.6 l-6.5,1.6M470.7,350.6 l4.6,0.8M469.8,351.7 l-2.8,1.7M471.7,351.7 l8.7,2.8M470.0,352.8 l-3.6,1.1M471.8,352.8 l7.0,-0.1M469.3,354.3 l-8.6,1.6M470.8,354.3 l7.1,2.5M469.1,355.8 l-6.9,2.8M471.3,355.8 l3.9,-0.0M469.0,357.0 l-6.9,0.3M470.7,357.0 l4.2,1.0M470.2,358.0 l-7.0,2.5M471.7,358.0 l5.0,2.8M470.0,359.0 l-4.3,0.9M470.4,359.0 l4.9,0.5M469.8,360.1 l-6.4,0.4M471.7,360.1 l8.5,2.3M469.1,361.5 l-7.2,2.8M471.6,361.5 l5.8,0.2M470.1,362.6 l-8.7,0.8M470.9,362.6 l6.8,2.2M470.2,363.7 l-5.3,0.4M470.4,363.7 l8.7,2.5M470.1,365.1 l-5.3,0.1M471.4,365.1 l8.1,0.5M468.9,365.9 l-2.9,0.4M471.5,365.9 l5.6,0.3M469.7,367.2 l-7.5,0.4M471.7,367.2 l4.0,-0.1M470.1,368.6 l-2.8,0.2M471.1,368.6 l5.7,1.8M470.2,369.6 l-4.9,-0.0M471.8,369.6 l2.6,2.8M469.9,370.9 l-5.4,-0.1M470.7,370.9 l2.4,0.6M470.0,372.3 l-2.6,0.9M471.4,372.3 l2.2,2.0M470.1,373.6 l-1.8,0.5M471.6,373.6 l1.5,0.8M470.3,374.9 l-0.6,0.4M471.2,374.9 l0.6,-0.4M486.0,220.0 l-0.4,0.9M488.8,220.0 l0.3,-0.3M486.4,221.4 l-0.7,-0.3M487.8,221.4 l0.7,1.4M486.4,222.4 l-2.1,1.7M488.9,222.4 l0.7,2.9M487.3,223.8 l-1.2,-0.0M488.7,223.8 l3.0,1.8M486.1,225.0 l-3.1,2.0M488.4,225.0 l2.5,0.3M487.0,226.3 l-4.0,1.6M488.7,226.3 l3.4,2.5M486.3,227.3 l-3.5,0.4M488.1,227.3 l3.6,0.9M486.9,228.3 l-3.0,-0.1M488.0,228.3 l2.0,1.1M487.2,229.5 l-3.2,0.3M489.0,229.5 l2.8,2.6M487.5,230.4 l-5.1,-0.2M488.4,230.4 l5.8,0.1M486.6,231.8 l-3.6,-0.4M488.7,231.8 l2.7,2.7M487.3,232.8 l-5.8,0.7M487.5,232.8 l6.1,0.2M487.1,234.1 l-5.9,0.8M487.9,234.1 l3.7,2.2M487.2,235.2 l-6.7,0.3M488.2,235.2 l6.6,2.0M486.2,236.5 l-8.2,2.9M487.6,236.5 l3.4,0.3M486.8,237.6 l-8.0,1.7M489.0,237.6 l6.3,0.2M487.5,238.8 l-8.4,0.6M488.3,238.8 l5.6,2.8M486.2,240.0 l-7.0,1.8M488.9,240.0 l7.1,1.1M487.3,241.1 l-6.0,-0.4M488.7,241.1 l5.7,0.1M486.6,242.4 l-5.2,0.3M487.7,242.4 l3.1,2.6M486.7,243.8 l-6.5,1.0M488.4,243.8 l5.1,1.6M487.3,244.7 l-5.1,2.2M488.2,244.7 l7.5,2.4M487.3,245.7 l-3.9,0.4M487.8,245.7 l7.2,2.5M487.4,246.7 l-6.8,1.6M488.2,246.7 l7.6,1.6M486.7,247.7 l-6.2,3.0M488.0,247.7 l5.4,-0.3M487.2,249.2 l-3.5,0.3M488.2,249.2 l5.2,0.9M486.2,250.6 l-4.6,2.4M487.8,250.6 l4.7,1.6M486.2,251.5 l-6.5,1.0M488.7,251.5 l4.4,1.8M486.3,252.9 l-3.3,0.7M488.9,252.9 l8.2,2.1M486.8,253.7 l-3.5,2.8M487.9,253.7 l6.2,1.1M486.2,255.1 l-8.0,1.0M488.1,255.1 l7.3,-0.0M487.0,255.9 l-3.9,0.3M488.3,255.9 l5.1,2.4M486.5,257.3 l-5.6,1.5M487.9,257.3 l7.5,-0.5M486.4,258.2 l-4.3,-0.0M488.6,258.2 l4.7,0.5M487.3,259.2 l-6.9,1.1M488.3,259.2 l6.3,1.2M487.5,260.4 l-5.4,2.2M488.0,260.4 l8.7,2.1M486.5,261.4 l-3.7,1.2M488.8,261.4 l5.8,0.3M486.8,262.5 l-6.0,2.8M487.7,262.5 l5.7,0.1M487.1,263.9 l-5.5,2.7M488.5,263.9 l7.2,1.7M487.5,265.4 l-5.3,2.2M489.0,265.4 l3.0,2.2M486.9,266.2 l-6.1,2.7M489.1,266.2 l8.1,1.5M486.3,267.0 l-7.1,2.8M488.1,267.0 l4.4,1.8M486.8,268.0 l-6.5,1.5M487.7,268.0 l4.8,-0.4M486.8,268.9 l-8.0,-0.5M488.5,268.9 l8.0,1.1M486.2,269.9 l-5.5,2.4M488.4,269.9 l7.9,0.9M487.6,271.0 l-8.0,1.4M487.8,271.0 l5.4,2.6M486.7,272.0 l-8.5,1.0M487.6,272.0 l4.2,1.9M486.8,273.2 l-5.1,2.5M488.1,273.2 l8.6,0.2M486.2,274.6 l-6.2,-0.1M488.7,274.6 l3.5,2.8M486.2,275.9 l-8.6,1.8M488.1,275.9 l6.6,1.0M486.3,276.7 l-7.7,1.3M488.9,276.7 l7.0,0.4M487.0,278.2 l-4.9,1.6M487.9,278.2 l4.0,0.8M487.5,279.1 l-8.3,1.9M488.2,279.1 l4.4,2.7M487.4,280.4 l-7.9,2.1M487.7,280.4 l3.5,1.5M486.5,281.5 l-7.9,1.8M488.9,281.5 l8.7,-0.0M486.2,282.6 l-5.4,2.2M488.6,282.6 l7.7,0.0M486.6,283.5 l-5.9,2.1M488.5,283.5 l4.4,0.7M486.8,284.9 l-4.6,1.9M487.9,284.9 l3.1,1.6M487.6,286.0 l-4.9,-0.5M487.8,286.0 l6.4,0.3M486.9,287.1 l-6.8,2.3M489.0,287.1 l7.4,0.0M486.9,288.0 l-5.7,2.0M487.8,288.0 l8.2,1.1M487.1,289.0 l-6.1,1.7M488.9,289.0 l8.5,0.6M487.5,290.2 l-7.6,1.7M487.7,290.2 l5.2,0.6M487.0,291.2 l-5.5,2.8M488.2,291.2 l4.7,2.5M486.5,292.3 l-3.7,-0.0M488.5,292.3 l5.0,2.5M487.1,293.6 l-3.2,2.5M488.3,293.6 l3.5,2.3M487.2,295.0 l-8.3,0.5M487.8,295.0 l3.7,1.1M487.3,296.5 l-3.4,1.2M487.9,296.5 l7.3,-0.4M487.1,297.6 l-4.6,0.5M488.0,297.6 l5.3,0.6M487.3,298.5 l-8.7,0.4M488.6,298.5 l7.0,1.1M487.0,299.6 l-4.9,0.4M488.5,299.6 l6.3,1.4M486.7,300.6 l-2.9,2.4M488.1,300.6 l7.5,0.2M487.0,301.9 l-5.0,0.4M487.9,301.9 l4.5,0.1M487.3,302.9 l-4.0,1.0M489.1,302.9 l4.1,2.9M487.2,304.0 l-6.8,2.2M487.9,304.0 l6.8,1.0M486.5,305.4 l-4.9,2.9M488.4,305.4 l3.3,1.0M487.6,306.6 l-5.8,1.7M487.9,306.6 l8.4,0.2M486.6,307.4 l-6.0,2.5M488.7,307.4 l4.4,0.5M487.5,308.4 l-3.1,2.3M488.4,308.4 l5.1,0.6M487.6,309.9 l-8.1,1.2M488.0,309.9 l7.6,1.2M487.5,310.8 l-8.8,2.7M487.9,310.8 l4.5,2.3M486.3,311.9 l-6.2,2.5M488.8,311.9 l5.2,2.2M486.6,312.8 l-7.3,0.6M489.0,312.8 l8.4,2.8M486.8,314.3 l-3.1,-0.3M488.5,314.3 l4.9,0.9M487.0,315.5 l-2.9,0.4M488.2,315.5 l3.1,0.3M487.4,316.5 l-6.3,0.5M488.2,316.5 l4.6,1.3M486.9,317.9 l-6.6,2.8M488.6,317.9 l7.7,-0.1M487.5,318.9 l-3.9,0.8M488.9,318.9 l3.0,-0.3M487.5,320.1 l-3.3,0.2M488.9,320.1 l6.5,1.0M487.1,321.4 l-8.0,0.2M488.9,321.4 l8.0,1.1M487.3,322.7 l-3.3,0.3M488.9,322.7 l5.7,2.1M486.6,323.9 l-7.1,0.2M487.9,323.9 l8.1,1.3M487.4,325.1 l-4.0,1.5M488.3,325.1 l4.7,2.8M486.9,326.2 l-6.6,0.1M489.0,326.2 l7.9,0.7M486.9,327.1 l-7.2,-0.2M488.6,327.1 l4.5,0.4M486.9,328.3 l-7.5,2.2M489.1,328.3 l7.0,2.1M486.9,329.6 l-3.9,1.2M489.1,329.6 l3.1,1.2M486.4,330.9 l-3.6,0.7M488.8,330.9 l3.6,1.9M487.1,332.2 l-5.4,2.5M489.2,332.2 l8.1,0.6M486.6,333.5 l-7.0,-0.4M489.0,333.5 l4.7,2.8M487.4,334.8 l-8.4,2.3M488.9,334.8 l4.1,0.5M487.3,335.7 l-8.5,1.4M488.3,335.7 l4.8,1.3M487.3,336.6 l-5.3,0.9M488.0,336.6 l8.5,2.7M487.0,337.8 l-3.4,0.3M488.8,337.8 l7.7,1.1M487.6,338.6 l-3.4,1.4M489.0,338.6 l4.8,1.5M486.6,340.1 l-8.0,0.3M488.9,340.1 l8.1,2.2M486.7,341.2 l-7.9,1.2M489.1,341.2 l3.1,-0.3M487.4,342.5 l-6.0,2.2M488.2,342.5 l8.1,0.9M487.7,343.4 l-3.9,2.0M488.2,343.4 l7.8,2.1M487.6,344.5 l-7.1,2.3M488.7,344.5 l3.1,0.0M487.8,345.9 l-4.1,-0.3M488.1,345.9 l8.1,0.9M487.0,346.8 l-7.7,2.0M488.0,346.8 l3.1,1.6M486.9,347.7 l-4.7,1.9M488.3,347.7 l5.0,1.7M487.2,348.8 l-7.1,0.6M487.9,348.8 l6.4,-0.4M486.5,350.0 l-6.8,-0.3M488.4,350.0 l3.4,1.4M486.9,350.9 l-7.9,1.2M488.2,350.9 l3.9,-0.0M486.5,351.9 l-4.3,1.6M488.2,351.9 l5.1,0.4M487.6,353.1 l-6.1,1.0M488.2,353.1 l4.5,0.9M487.5,354.0 l-5.8,-0.4M488.0,354.0 l5.3,2.7M487.1,354.9 l-8.8,1.9M488.1,354.9 l3.0,1.9M487.3,355.9 l-2.9,1.6M488.6,355.9 l5.2,0.8M486.6,357.0 l-5.3,0.8M489.2,357.0 l4.4,2.4M487.1,358.5 l-5.8,0.2M489.2,358.5 l7.5,2.9M487.4,359.7 l-8.6,2.6M489.2,359.7 l7.8,-0.3M486.8,361.2 l-5.9,1.0M487.9,361.2 l7.2,1.8M487.6,362.5 l-2.2,-0.5M488.4,362.5 l4.2,0.6M487.2,363.9 l-2.2,2.0M488.2,363.9 l4.7,1.5M487.3,365.3 l-3.6,0.9M489.0,365.3 l3.7,0.6M486.8,366.5 l-2.8,2.0M487.9,366.5 l2.9,2.8M487.4,367.8 l-0.9,0.4M489.2,367.8 l0.7,2.4M504.3,226.0 l-0.7,-0.4M505.1,226.0 l0.5,2.9M504.0,226.9 l-1.2,1.3M505.8,226.9 l0.8,2.4M503.7,228.0 l-1.6,2.0M505.5,228.0 l0.6,2.7M504.9,229.4 l-1.8,0.8M505.7,229.4 l2.5,1.3M503.7,230.3 l-1.8,0.8M505.9,230.3 l3.0,0.1M504.7,231.2 l-2.6,0.5M506.4,231.2 l2.2,0.3M503.6,232.7 l-4.2,0.5M505.3,232.7 l4.2,1.9M504.6,234.2 l-2.1,0.6M506.3,234.2 l2.6,1.7M504.9,235.2 l-5.0,1.5M505.5,235.2 l2.3,2.8M504.6,236.3 l-5.1,2.1M505.7,236.3 l4.7,1.3M504.5,237.1 l-6.5,2.4M506.4,237.1 l2.5,0.6M503.9,238.3 l-5.9,2.2M506.0,238.3 l3.2,0.0M503.6,239.8 l-6.7,1.3M506.4,239.8 l5.8,1.9M504.8,240.6 l-5.4,0.8M505.4,240.6 l6.1,-0.0M504.9,241.7 l-5.6,2.0M505.7,241.7 l6.9,2.2M503.4,242.9 l-5.1,1.6M505.0,242.9 l5.8,2.5M504.7,243.9 l-7.9,1.4M505.1,243.9 l7.5,2.7M504.0,245.3 l-6.2,0.1M504.9,245.3 l6.2,2.3M504.5,246.7 l-6.8,-0.2M506.3,246.7 l3.2,-0.1M504.8,248.1 l-4.4,1.7M505.1,248.1 l8.5,2.9M503.6,249.5 l-3.2,0.9M506.2,249.5 l4.6,1.0M504.3,250.5 l-7.8,0.1M505.9,250.5 l5.8,0.9M503.9,251.7 l-8.0,0.6M506.0,251.7 l7.2,1.2M504.2,252.7 l-5.4,0.1M506.1,252.7 l2.8,-0.4M504.1,253.6 l-6.5,0.1M505.4,253.6 l6.7,2.1M504.0,254.4 l-4.3,1.8M505.1,254.4 l6.5,2.4M504.6,255.4 l-4.1,0.7M506.0,255.4 l8.8,1.2M504.8,256.6 l-4.4,2.1M505.3,256.6 l6.1,0.1M503.5,257.7 l-6.1,-0.4M505.8,257.7 l6.3,0.4M503.5,258.8 l-3.6,1.0M505.0,258.8 l8.1,2.1M503.6,259.7 l-3.5,-0.1M505.5,259.7 l2.9,2.5M503.8,260.9 l-6.3,0.8M505.8,260.9 l6.9,1.6M503.7,262.3 l-3.2,0.8M505.3,262.3 l4.0,1.7M504.2,263.6 l-6.8,-0.4M506.1,263.6 l5.1,1.6M504.4,264.8 l-3.7,2.7M505.7,264.8 l4.3,1.9M504.6,265.8 l-3.2,0.9M505.0,265.8 l8.5,0.6M504.1,266.9 l-6.8,2.0M505.1,266.9 l8.7,0.7M503.3,268.3 l-5.5,2.2M505.1,268.3 l4.1,2.1M504.1,269.2 l-6.7,2.9M505.4,269.2 l4.3,0.3M504.3,270.0 l-3.0,1.4M505.4,270.0 l3.6,-0.3M504.7,271.1 l-4.7,0.6M505.6,271.1 l8.5,2.6M504.5,272.3 l-7.2,0.9M505.6,272.3 l3.3,0.8M504.1,273.2 l-3.9,2.4M506.0,273.2 l3.3,1.4M504.4,274.5 l-8.1,1.4M504.9,274.5 l3.2,2.4M504.3,275.6 l-6.2,2.4M505.6,275.6 l5.1,2.7M503.7,276.9 l-3.5,0.3M505.1,276.9 l3.4,1.6M504.5,278.3 l-3.3,-0.3M505.1,278.3 l2.9,2.6M504.1,279.7 l-6.5,1.7M506.2,279.7 l7.8,1.2M504.4,280.6 l-8.4,1.4M504.9,280.6 l4.1,2.2M503.8,281.8 l-8.3,2.9M506.1,281.8 l6.0,1.3M503.9,283.0 l-5.5,1.6M505.9,283.0 l3.2,-0.2M503.4,284.4 l-6.6,0.1M505.6,284.4 l4.9,-0.1M503.8,285.7 l-4.6,1.2M505.3,285.7 l6.9,1.8M504.1,287.0 l-6.1,2.1M505.6,287.0 l7.1,0.9M504.4,288.0 l-8.4,1.1M505.8,288.0 l5.7,1.0M504.5,289.4 l-6.6,-0.1M506.0,289.4 l5.8,2.2M503.5,290.4 l-5.1,3.0M505.5,290.4 l5.6,0.2M503.3,291.6 l-7.5,2.8M505.1,291.6 l8.6,2.6M504.4,292.8 l-4.8,0.7M505.0,292.8 l3.8,0.1M503.6,294.2 l-4.1,1.5M505.2,294.2 l8.5,-0.4M504.1,295.1 l-3.5,0.1M505.6,295.1 l6.4,1.4M503.5,295.9 l-3.5,-0.3M505.5,295.9 l8.4,2.6M504.5,297.3 l-6.9,2.1M505.5,297.3 l6.2,2.3M503.3,298.1 l-6.5,2.4M504.7,298.1 l4.4,2.9M503.2,299.2 l-8.4,0.3M506.1,299.2 l4.3,2.2M504.5,300.2 l-3.5,1.7M505.0,300.2 l7.7,1.8M503.6,301.4 l-8.3,1.6M504.7,301.4 l6.4,-0.1M503.4,302.7 l-4.8,2.4M505.0,302.7 l8.2,-0.4M504.6,303.9 l-7.7,2.3M505.8,303.9 l3.7,0.8M503.2,304.9 l-7.6,1.2M505.0,304.9 l4.9,2.3M503.4,306.0 l-7.6,1.9M505.9,306.0 l6.2,0.4M504.4,307.5 l-6.0,-0.2M504.6,307.5 l8.5,2.8M504.0,308.6 l-4.7,2.1M505.7,308.6 l8.2,0.1M503.1,309.8 l-4.9,3.0M505.1,309.8 l6.6,0.9M503.5,311.2 l-5.2,1.1M505.2,311.2 l3.2,0.7M503.4,312.6 l-3.1,2.6M504.6,312.6 l3.7,1.7M504.5,313.6 l-5.4,2.5M505.1,313.6 l3.8,2.4M503.1,314.7 l-5.9,0.9M504.7,314.7 l3.9,1.4M504.3,315.6 l-8.7,0.2M505.1,315.6 l8.2,3.0M503.6,316.4 l-3.4,-0.2M505.7,316.4 l6.9,1.9M504.3,317.2 l-4.4,2.6M504.6,317.2 l7.5,-0.2M503.8,318.7 l-3.6,-0.2M504.8,318.7 l5.4,1.6M504.0,319.7 l-5.4,1.3M505.7,319.7 l8.7,2.0M504.3,320.7 l-5.8,2.1M504.7,320.7 l3.9,0.2M503.9,321.6 l-3.1,1.9M505.3,321.6 l7.4,0.1M504.2,322.5 l-7.3,0.7M505.9,322.5 l8.7,2.6M503.4,323.8 l-6.9,0.0M505.8,323.8 l4.7,0.7M504.2,325.0 l-4.9,-0.4M504.5,325.0 l3.9,0.9M503.7,325.9 l-3.5,0.4M504.8,325.9 l7.2,0.0M503.7,327.0 l-7.5,0.6M504.5,327.0 l8.5,0.0M503.2,328.0 l-3.3,0.5M504.8,328.0 l5.3,2.3M504.0,329.1 l-4.7,1.2M504.5,329.1 l4.2,-0.4M504.3,330.5 l-4.0,0.8M505.9,330.5 l6.3,-0.3M503.1,331.6 l-7.1,0.3M504.6,331.6 l6.9,2.8M503.4,333.1 l-6.8,2.0M505.4,333.1 l7.2,-0.2M504.4,334.1 l-4.1,1.2M505.5,334.1 l7.9,2.6M503.4,335.2 l-3.7,-0.5M504.6,335.2 l7.3,2.8M503.2,336.6 l-3.1,0.8M505.9,336.6 l8.1,-0.1M503.9,337.7 l-5.8,2.7M505.3,337.7 l5.5,0.8M503.9,339.1 l-5.3,0.4M504.6,339.1 l8.4,1.9M504.3,340.2 l-8.3,0.0M504.8,340.2 l3.9,2.6M503.5,341.1 l-7.7,0.5M504.7,341.1 l7.3,-0.4M503.8,342.5 l-8.2,2.1M504.5,342.5 l8.0,0.8M504.3,344.0 l-6.0,-0.3M505.6,344.0 l5.8,1.6M503.8,345.2 l-6.2,2.6M504.9,345.2 l5.4,2.4M503.6,346.7 l-6.8,2.2M505.2,346.7 l8.0,2.7M502.9,348.0 l-6.3,0.8M504.9,348.0 l4.3,-0.2M503.8,349.2 l-4.2,0.4M504.9,349.2 l3.7,0.2M503.6,350.2 l-8.1,-0.0M504.7,350.2 l5.2,2.5M503.6,351.2 l-2.9,2.1M504.8,351.2 l4.6,0.8M503.5,352.6 l-4.0,1.8M504.8,352.6 l5.2,0.1M504.2,353.8 l-6.0,0.5M504.8,353.8 l3.0,0.1M503.3,355.3 l-4.9,1.5M504.3,355.3 l5.2,1.3M503.1,356.5 l-3.1,2.2M505.6,356.5 l6.6,3.0M503.3,357.6 l-5.0,2.2M505.0,357.6 l3.7,-0.3M503.9,358.7 l-4.3,0.9M505.3,358.7 l3.0,2.1M503.7,359.8 l-1.7,1.9M505.2,359.8 l2.4,1.1M503.8,361.2 l-1.2,1.2M505.3,361.2 l1.7,1.7M503.5,362.3 l-0.8,-0.0M504.5,362.3 l1.0,1.2" stroke="currentColor" stroke-width="0.9" fill="none"/><g id="br"><use href="#bh"/><path d="M296.4,255.5 L296.3,257.0 L297.0,259.2 L297.4,261.4 L297.1,263.6 L297.8,265.8 L298.0,268.0 L297.8,270.2 L297.3,272.4 L297.8,274.6 L297.2,276.8 L298.4,279.0 L297.6,281.2 L298.2,283.4 L297.8,285.6 L298.4,287.8 L297.9,290.0 L297.8,292.2 L297.5,294.4 L297.6,296.6 L297.9,298.8 L298.0,301.0 L297.7,303.2 L297.9,305.4 L297.6,307.6 L298.3,309.8 L297.7,312.0 L298.0,314.2 L297.7,316.4 L297.8,318.6 L297.8,320.8 L298.0,323.0 L298.1,325.2 L298.2,327.4 L298.3,329.6 L297.9,331.8 L297.7,334.0 L297.8,336.2 L297.9,338.4 L297.6,340.6 L297.6,342.8 L298.7,345.0 L297.7,347.2 L298.3,349.4 L297.8,351.6 L298.8,353.8 L297.8,356.0 L298.7,358.2 L298.5,360.4 L298.5,362.6 L298.0,364.8 L297.7,367.0 L297.9,369.2 L298.4,371.4 L298.3,373.6 L298.5,375.8 L298.0,378.0 L298.0,380.2 L297.6,382.4 L297.0,387.0 L296.7,382.4 L296.1,380.2 L296.1,378.0 L295.0,375.8 L296.2,373.6 L295.4,371.4 L296.0,369.2 L295.8,367.0 L295.4,364.8 L295.0,362.6 L295.9,360.4 L295.3,358.2 L296.3,356.0 L295.5,353.8 L296.1,351.6 L294.8,349.4 L295.8,347.2 L295.3,345.0 L295.5,342.8 L295.6,340.6 L296.1,338.4 L296.0,336.2 L295.6,334.0 L295.3,331.8 L296.1,329.6 L295.3,327.4 L295.6,325.2 L295.3,323.0 L295.5,320.8 L295.1,318.6 L295.7,316.4 L294.9,314.2 L295.5,312.0 L295.6,309.8 L295.3,307.6 L295.1,305.4 L295.2,303.2 L295.4,301.0 L295.9,298.8 L295.5,296.6 L295.1,294.4 L295.3,292.2 L295.1,290.0 L295.6,287.8 L295.6,285.6 L294.9,283.4 L295.6,281.2 L294.9,279.0 L295.5,276.8 L295.1,274.6 L295.2,272.4 L295.3,270.2 L295.5,268.0 L295.2,265.8 L295.7,263.6 L296.1,261.4 L296.0,259.2 L296.5,257.0Z M313.6,249.5 L313.6,251.0 L313.9,253.2 L314.5,255.4 L315.0,257.6 L315.0,259.8 L314.9,262.0 L315.9,264.2 L315.1,266.4 L315.7,268.6 L315.1,270.8 L315.6,273.0 L314.7,275.2 L315.6,277.4 L315.6,279.6 L315.9,281.8 L315.5,284.0 L316.0,286.2 L315.6,288.4 L316.4,290.6 L315.5,292.8 L315.8,295.0 L315.3,297.2 L316.3,299.4 L315.3,301.6 L315.4,303.8 L315.5,306.0 L316.0,308.2 L315.7,310.4 L315.9,312.6 L315.5,314.8 L316.2,317.0 L316.1,319.2 L315.6,321.4 L315.8,323.6 L315.9,325.8 L316.1,328.0 L316.4,330.2 L315.8,332.4 L315.7,334.6 L316.0,336.8 L316.4,339.0 L316.3,341.2 L316.1,343.4 L316.0,345.6 L316.3,347.8 L315.9,350.0 L316.4,352.2 L316.3,354.4 L316.6,356.6 L316.1,358.8 L316.8,361.0 L316.2,363.2 L316.3,365.4 L316.3,367.6 L316.8,369.8 L316.6,372.0 L316.7,374.2 L316.4,376.4 L316.8,378.6 L316.6,380.8 L316.5,383.0 L316.5,385.2 L316.2,387.4 L315.1,389.6 L315.0,394.0 L314.6,389.6 L313.6,387.4 L313.7,385.2 L313.1,383.0 L313.4,380.8 L312.9,378.6 L313.1,376.4 L312.8,374.2 L313.1,372.0 L313.0,369.8 L313.4,367.6 L313.0,365.4 L313.6,363.2 L312.9,361.0 L312.9,358.8 L312.9,356.6 L313.2,354.4 L312.9,352.2 L313.3,350.0 L312.5,347.8 L313.6,345.6 L313.0,343.4 L313.6,341.2 L312.3,339.0 L312.9,336.8 L312.4,334.6 L313.1,332.4 L313.1,330.2 L312.8,328.0 L313.1,325.8 L312.3,323.6 L312.9,321.4 L313.0,319.2 L312.6,317.0 L312.6,314.8 L312.4,312.6 L312.7,310.4 L311.9,308.2 L312.9,306.0 L312.4,303.8 L312.3,301.6 L312.6,299.4 L312.4,297.2 L312.4,295.0 L313.2,292.8 L312.0,290.6 L312.3,288.4 L312.4,286.2 L312.7,284.0 L311.4,281.8 L312.3,279.6 L312.1,277.4 L312.2,275.2 L312.0,273.0 L312.1,270.8 L312.0,268.6 L311.8,266.4 L311.9,264.2 L312.4,262.0 L312.0,259.8 L312.6,257.6 L313.1,255.4 L312.9,253.2 L313.7,251.0Z M330.6,242.0 L330.8,243.5 L331.5,245.7 L332.6,247.9 L332.9,250.1 L334.3,252.3 L333.3,254.5 L335.2,256.7 L333.4,258.9 L334.4,261.1 L334.5,263.3 L334.0,265.5 L333.1,267.7 L333.9,269.9 L333.6,272.1 L334.6,274.3 L334.4,276.5 L334.3,278.7 L334.0,280.9 L334.4,283.1 L333.9,285.3 L335.9,287.5 L333.6,289.7 L335.3,291.9 L335.0,294.1 L334.4,296.3 L333.9,298.5 L335.5,300.7 L334.7,302.9 L335.6,305.1 L334.2,307.3 L334.9,309.5 L334.0,311.7 L334.9,313.9 L335.0,316.1 L336.0,318.3 L334.1,320.5 L334.9,322.7 L333.9,324.9 L335.2,327.1 L334.3,329.3 L334.4,331.5 L334.2,333.7 L334.7,335.9 L334.1,338.1 L336.2,340.3 L334.5,342.5 L334.8,344.7 L334.8,346.9 L335.7,349.1 L335.3,351.3 L336.4,353.5 L334.9,355.7 L334.9,357.9 L335.1,360.1 L335.2,362.3 L334.8,364.5 L334.8,366.7 L334.5,368.9 L336.6,371.1 L335.0,373.3 L335.0,375.5 L335.6,377.7 L335.6,379.9 L334.5,382.1 L335.5,384.3 L335.5,386.5 L335.4,388.7 L335.3,390.9 L334.4,393.1 L333.3,395.3 L332.5,399.0 L332.1,395.3 L330.9,393.1 L330.6,390.9 L329.2,388.7 L329.9,386.5 L328.1,384.3 L329.7,382.1 L328.5,379.9 L329.5,377.7 L329.2,375.5 L329.4,373.3 L328.8,371.1 L329.7,368.9 L328.2,366.7 L328.8,364.5 L328.8,362.3 L330.0,360.1 L328.2,357.9 L329.7,355.7 L327.6,353.5 L329.9,351.3 L329.3,349.1 L328.1,346.9 L327.9,344.7 L328.9,342.5 L327.8,340.3 L329.2,338.1 L327.4,335.9 L328.4,333.7 L327.3,331.5 L328.5,329.3 L327.8,327.1 L329.6,324.9 L327.4,322.7 L328.0,320.5 L328.2,318.3 L329.4,316.1 L327.5,313.9 L328.4,311.7 L327.5,309.5 L329.0,307.3 L328.0,305.1 L327.6,302.9 L327.5,300.7 L328.7,298.5 L328.6,296.3 L327.7,294.1 L326.8,291.9 L328.3,289.7 L326.5,287.5 L327.7,285.3 L328.1,283.1 L327.7,280.9 L326.7,278.7 L327.7,276.5 L328.3,274.3 L328.4,272.1 L327.1,269.9 L328.5,267.7 L327.9,265.5 L328.3,263.3 L327.3,261.1 L327.5,258.9 L327.2,256.7 L328.4,254.5 L327.3,252.3 L328.9,250.1 L329.1,247.9 L329.5,245.7 L330.6,243.5Z M347.0,238.1 L347.1,239.6 L347.9,241.8 L348.7,244.0 L349.3,246.2 L351.2,248.4 L349.8,250.6 L351.8,252.8 L350.1,255.0 L350.6,257.2 L350.3,259.4 L351.6,261.6 L350.0,263.8 L350.5,266.0 L350.9,268.2 L350.9,270.4 L351.2,272.6 L351.1,274.8 L350.3,277.0 L351.5,279.2 L351.0,281.4 L352.1,283.6 L350.2,285.8 L351.2,288.0 L350.9,290.2 L352.1,292.4 L350.6,294.6 L351.7,296.8 L350.7,299.0 L351.4,301.2 L350.9,303.4 L351.2,305.6 L350.7,307.8 L351.3,310.0 L352.5,312.2 L352.7,314.4 L352.2,316.6 L353.1,318.8 L352.5,321.0 L352.9,323.2 L352.3,325.4 L352.7,327.6 L351.2,329.8 L352.3,332.0 L351.8,334.2 L352.3,336.4 L352.7,338.6 L352.4,340.8 L352.5,343.0 L354.1,345.2 L352.2,347.4 L353.4,349.6 L352.3,351.8 L353.6,354.0 L352.3,356.2 L354.2,358.4 L352.3,360.6 L354.3,362.8 L353.6,365.0 L353.1,367.2 L352.7,369.4 L353.7,371.6 L352.4,373.8 L353.9,376.0 L353.3,378.2 L354.6,380.4 L353.0,382.6 L354.3,384.8 L353.6,387.0 L355.0,389.2 L353.1,391.4 L354.1,393.6 L354.0,395.8 L352.7,398.0 L352.2,400.2 L351.3,402.4 L350.6,406.5 L350.0,402.4 L349.0,400.2 L348.1,398.0 L347.0,395.8 L345.9,393.6 L347.1,391.4 L346.3,389.2 L347.7,387.0 L347.0,384.8 L346.6,382.6 L346.9,380.4 L346.3,378.2 L345.5,376.0 L347.7,373.8 L346.5,371.6 L347.0,369.4 L346.9,367.2 L346.0,365.0 L346.1,362.8 L346.6,360.6 L345.6,358.4 L346.0,356.2 L345.2,354.0 L346.0,351.8 L345.4,349.6 L346.0,347.4 L345.9,345.2 L346.2,343.0 L346.5,340.8 L345.8,338.6 L344.6,336.4 L346.0,334.2 L344.5,332.0 L346.4,329.8 L344.8,327.6 L345.8,325.4 L345.6,323.2 L346.3,321.0 L345.4,318.8 L345.6,316.6 L346.0,314.4 L344.9,312.2 L344.6,310.0 L345.5,307.8 L345.2,305.6 L344.5,303.4 L344.7,301.2 L345.9,299.0 L344.0,296.8 L345.3,294.6 L344.6,292.4 L344.6,290.2 L344.3,288.0 L344.6,285.8 L344.2,283.6 L345.1,281.4 L344.5,279.2 L344.5,277.0 L344.2,274.8 L344.5,272.6 L343.8,270.4 L344.5,268.2 L342.8,266.0 L344.0,263.8 L343.7,261.6 L343.5,259.4 L344.4,257.2 L344.7,255.0 L344.0,252.8 L344.9,250.6 L343.1,248.4 L344.3,246.2 L345.0,244.0 L346.1,241.8 L347.0,239.6Z M364.2,230.3 L364.1,231.8 L365.2,234.0 L365.7,236.2 L366.2,238.4 L367.2,240.6 L366.6,242.8 L368.7,245.0 L367.9,247.2 L367.9,249.4 L367.7,251.6 L368.3,253.8 L367.3,256.0 L367.4,258.2 L368.1,260.4 L368.0,262.6 L367.5,264.8 L369.2,267.0 L367.2,269.2 L367.9,271.4 L368.1,273.6 L369.2,275.8 L367.5,278.0 L369.7,280.2 L368.6,282.4 L368.4,284.6 L368.8,286.8 L369.0,289.0 L368.9,291.2 L369.8,293.4 L368.8,295.6 L369.6,297.8 L368.5,300.0 L369.6,302.2 L368.8,304.4 L370.1,306.6 L369.4,308.8 L369.2,311.0 L369.6,313.2 L370.6,315.4 L370.4,317.6 L369.6,319.8 L370.1,322.0 L369.7,324.2 L369.4,326.4 L370.3,328.6 L369.3,330.8 L371.4,333.0 L369.6,335.2 L370.2,337.4 L370.5,339.6 L371.1,341.8 L370.0,344.0 L370.4,346.2 L370.7,348.4 L371.7,350.6 L370.3,352.8 L371.0,355.0 L370.6,357.2 L371.6,359.4 L370.5,361.6 L371.7,363.8 L371.7,366.0 L371.5,368.2 L372.0,370.4 L372.1,372.6 L370.9,374.8 L371.5,377.0 L371.4,379.2 L372.1,381.4 L372.2,383.6 L372.5,385.8 L372.2,388.0 L372.1,390.2 L372.1,392.4 L373.2,394.6 L371.1,396.8 L372.2,399.0 L372.0,401.2 L372.9,403.4 L371.4,405.6 L370.4,407.8 L369.9,412.0 L368.8,407.8 L368.9,405.6 L367.0,403.4 L366.5,401.2 L366.5,399.0 L367.0,396.8 L366.7,394.6 L366.8,392.4 L366.1,390.2 L367.2,388.0 L366.1,385.8 L367.4,383.6 L365.3,381.4 L366.9,379.2 L365.7,377.0 L366.4,374.8 L365.7,372.6 L366.0,370.4 L365.6,368.2 L365.8,366.0 L364.9,363.8 L366.1,361.6 L365.7,359.4 L365.8,357.2 L365.6,355.0 L365.2,352.8 L365.0,350.6 L365.1,348.4 L363.8,346.2 L365.5,344.0 L364.6,341.8 L365.5,339.6 L363.5,337.4 L364.6,335.2 L364.0,333.0 L365.2,330.8 L363.6,328.6 L365.2,326.4 L363.3,324.2 L364.0,322.0 L364.0,319.8 L364.2,317.6 L364.2,315.4 L364.8,313.2 L363.3,311.0 L363.3,308.8 L363.8,306.6 L364.2,304.4 L364.2,302.2 L364.1,300.0 L362.9,297.8 L363.4,295.6 L363.0,293.4 L364.0,291.2 L362.1,289.0 L363.4,286.8 L363.4,284.6 L364.0,282.4 L363.1,280.2 L362.6,278.0 L362.0,275.8 L362.5,273.6 L362.9,271.4 L362.7,269.2 L362.3,267.0 L362.5,264.8 L362.0,262.6 L362.4,260.4 L361.6,258.2 L363.2,256.0 L361.6,253.8 L362.7,251.6 L361.5,249.4 L362.1,247.2 L362.0,245.0 L362.0,242.8 L361.4,240.6 L362.6,238.4 L362.6,236.2 L363.4,234.0 L364.0,231.8Z M383.5,229.5 L383.7,231.0 L383.8,233.2 L384.4,235.4 L384.6,237.6 L385.2,239.8 L384.9,242.0 L384.9,244.2 L385.4,246.4 L385.3,248.6 L385.1,250.8 L385.2,253.0 L385.0,255.2 L385.7,257.4 L385.7,259.6 L386.1,261.8 L385.2,264.0 L385.8,266.2 L385.2,268.4 L385.8,270.6 L385.4,272.8 L386.1,275.0 L385.1,277.2 L385.8,279.4 L385.9,281.6 L386.4,283.8 L385.7,286.0 L386.1,288.2 L385.9,290.4 L385.7,292.6 L386.1,294.8 L386.6,297.0 L386.2,299.2 L386.2,301.4 L386.2,303.6 L386.2,305.8 L386.2,308.0 L386.0,310.2 L386.1,312.4 L386.2,314.6 L386.2,316.8 L386.4,319.0 L386.4,321.2 L386.8,323.4 L385.9,325.6 L386.7,327.8 L386.3,330.0 L386.8,332.2 L386.4,334.4 L386.6,336.6 L386.3,338.8 L387.3,341.0 L386.8,343.2 L386.8,345.4 L387.0,347.6 L386.8,349.8 L386.9,352.0 L387.7,354.2 L386.5,356.4 L387.1,358.6 L387.0,360.8 L387.2,363.0 L386.8,365.2 L387.2,367.4 L386.7,369.6 L387.5,371.8 L387.3,374.0 L387.3,376.2 L387.4,378.4 L387.2,380.6 L387.2,382.8 L388.0,385.0 L387.3,387.2 L387.5,389.4 L387.6,391.6 L387.9,393.8 L387.1,396.0 L387.1,398.2 L386.7,400.4 L386.5,402.6 L386.2,406.1 L386.2,402.6 L385.7,400.4 L384.9,398.2 L385.2,396.0 L384.2,393.8 L384.4,391.6 L384.1,389.4 L384.6,387.2 L383.9,385.0 L384.9,382.8 L383.8,380.6 L384.1,378.4 L384.0,376.2 L384.6,374.0 L384.1,371.8 L384.5,369.6 L384.2,367.4 L384.6,365.2 L383.9,363.0 L384.1,360.8 L383.7,358.6 L384.1,356.4 L383.8,354.2 L384.5,352.0 L383.7,349.8 L383.8,347.6 L383.6,345.4 L383.6,343.2 L383.7,341.0 L384.3,338.8 L383.6,336.6 L383.9,334.4 L383.0,332.2 L383.8,330.0 L383.2,327.8 L383.7,325.6 L383.5,323.4 L383.7,321.2 L383.1,319.0 L383.7,316.8 L382.9,314.6 L383.1,312.4 L383.2,310.2 L383.5,308.0 L383.3,305.8 L383.1,303.6 L382.8,301.4 L383.1,299.2 L382.6,297.0 L383.0,294.8 L383.4,292.6 L382.9,290.4 L383.1,288.2 L383.2,286.0 L382.5,283.8 L383.1,281.6 L383.2,279.4 L382.9,277.2 L383.0,275.0 L382.8,272.8 L382.1,270.6 L382.8,268.4 L382.2,266.2 L382.8,264.0 L382.5,261.8 L383.0,259.6 L382.7,257.4 L382.9,255.2 L382.6,253.0 L382.8,250.8 L382.3,248.6 L382.0,246.4 L382.6,244.2 L382.6,242.0 L382.7,239.8 L382.6,237.6 L383.0,235.4 L383.1,233.2 L383.3,231.0Z M401.0,219.5 L401.3,221.0 L401.6,223.2 L401.8,225.4 L401.6,227.6 L403.1,229.8 L402.4,232.0 L403.0,234.2 L402.8,236.4 L403.5,238.6 L402.7,240.8 L402.6,243.0 L402.5,245.2 L402.7,247.4 L402.7,249.6 L402.6,251.8 L403.3,254.0 L403.1,256.2 L402.9,258.4 L402.8,260.6 L403.0,262.8 L403.1,265.0 L403.0,267.2 L403.2,269.4 L403.1,271.6 L403.2,273.8 L403.3,276.0 L404.0,278.2 L403.2,280.4 L403.9,282.6 L403.8,284.8 L404.2,287.0 L403.2,289.2 L403.6,291.4 L403.7,293.6 L403.9,295.8 L403.4,298.0 L404.1,300.2 L403.6,302.4 L404.3,304.6 L403.9,306.8 L403.6,309.0 L404.0,311.2 L404.1,313.4 L403.8,315.6 L403.7,317.8 L404.3,320.0 L404.7,322.2 L404.4,324.4 L404.0,326.6 L403.9,328.8 L404.6,331.0 L403.5,333.2 L404.7,335.4 L404.3,337.6 L404.3,339.8 L404.1,342.0 L404.2,344.2 L404.7,346.4 L404.8,348.6 L404.3,350.8 L404.6,353.0 L404.0,355.2 L405.0,357.4 L404.7,359.6 L404.5,361.8 L404.7,364.0 L405.0,366.2 L404.6,368.4 L404.8,370.6 L404.3,372.8 L405.0,375.0 L404.5,377.2 L404.8,379.4 L404.9,381.6 L404.8,383.8 L405.0,386.0 L405.5,388.2 L404.6,390.4 L404.7,392.6 L404.4,394.8 L403.8,399.1 L403.5,394.8 L402.8,392.6 L402.7,390.4 L402.3,388.2 L402.3,386.0 L401.9,383.8 L402.5,381.6 L402.1,379.4 L402.1,377.2 L402.2,375.0 L402.0,372.8 L402.3,370.6 L402.1,368.4 L401.7,366.2 L401.9,364.0 L402.1,361.8 L402.2,359.6 L401.2,357.4 L401.6,355.2 L401.8,353.0 L401.7,350.8 L401.6,348.6 L401.7,346.4 L401.2,344.2 L401.7,342.0 L401.5,339.8 L401.7,337.6 L401.0,335.4 L401.6,333.2 L400.9,331.0 L401.6,328.8 L401.4,326.6 L401.6,324.4 L401.0,322.2 L400.9,320.0 L400.6,317.8 L401.7,315.6 L400.8,313.4 L401.3,311.2 L401.0,309.0 L401.0,306.8 L400.6,304.6 L401.3,302.4 L400.9,300.2 L400.9,298.0 L400.3,295.8 L401.0,293.6 L400.9,291.4 L400.8,289.2 L401.1,287.0 L400.8,284.8 L400.9,282.6 L400.6,280.4 L400.9,278.2 L400.3,276.0 L400.2,273.8 L400.8,271.6 L400.4,269.4 L400.0,267.2 L400.4,265.0 L400.0,262.8 L400.5,260.6 L400.7,258.4 L399.7,256.2 L400.7,254.0 L400.2,251.8 L400.2,249.6 L400.1,247.4 L400.5,245.2 L399.9,243.0 L400.3,240.8 L400.1,238.6 L400.5,236.4 L399.9,234.2 L400.0,232.0 L399.5,229.8 L399.8,227.6 L400.6,225.4 L400.6,223.2 L401.2,221.0Z M417.6,212.0 L417.9,213.5 L418.2,215.7 L418.5,217.9 L418.3,220.1 L419.7,222.3 L419.0,224.5 L419.5,226.7 L419.1,228.9 L419.0,231.1 L418.9,233.3 L419.6,235.5 L419.2,237.7 L419.6,239.9 L419.2,242.1 L419.9,244.3 L419.6,246.5 L420.3,248.7 L419.8,250.9 L420.0,253.1 L419.6,255.3 L419.6,257.5 L419.8,259.7 L419.9,261.9 L419.4,264.1 L420.0,266.3 L419.5,268.5 L420.0,270.7 L419.7,272.9 L419.9,275.1 L419.6,277.3 L420.0,279.5 L419.8,281.7 L420.5,283.9 L420.1,286.1 L420.2,288.3 L420.3,290.5 L420.4,292.7 L419.9,294.9 L420.7,297.1 L419.9,299.3 L420.3,301.5 L420.1,303.7 L420.6,305.9 L420.2,308.1 L420.8,310.3 L420.8,312.5 L420.1,314.7 L420.4,316.9 L420.8,319.1 L420.0,321.3 L421.2,323.5 L420.5,325.7 L420.2,327.9 L420.5,330.1 L420.7,332.3 L420.5,334.5 L421.2,336.7 L420.7,338.9 L421.6,341.1 L421.0,343.3 L421.3,345.5 L420.8,347.7 L420.6,349.9 L420.4,352.1 L421.4,354.3 L420.7,356.5 L421.5,358.7 L420.8,360.9 L421.4,363.1 L421.1,365.3 L421.2,367.5 L421.5,369.7 L421.2,371.9 L421.4,374.1 L421.8,376.3 L421.2,378.5 L421.5,380.7 L421.3,382.9 L421.0,385.1 L420.5,387.3 L420.5,389.5 L420.1,393.3 L419.5,389.5 L419.2,387.3 L418.8,385.1 L418.7,382.9 L417.7,380.7 L418.6,378.5 L417.9,376.3 L418.7,374.1 L418.2,371.9 L418.9,369.7 L418.1,367.5 L418.7,365.3 L417.7,363.1 L418.7,360.9 L418.2,358.7 L418.5,356.5 L418.3,354.3 L418.4,352.1 L417.7,349.9 L418.0,347.7 L417.8,345.5 L417.9,343.3 L417.3,341.1 L418.0,338.9 L417.8,336.7 L418.1,334.5 L417.7,332.3 L418.0,330.1 L417.5,327.9 L417.5,325.7 L418.1,323.5 L418.1,321.3 L417.9,319.1 L418.0,316.9 L417.6,314.7 L417.9,312.5 L417.1,310.3 L417.4,308.1 L417.0,305.9 L417.6,303.7 L417.1,301.5 L417.4,299.3 L416.9,297.1 L417.5,294.9 L416.9,292.7 L417.7,290.5 L417.4,288.3 L417.2,286.1 L416.9,283.9 L417.2,281.7 L416.7,279.5 L416.7,277.3 L416.5,275.1 L417.1,272.9 L417.2,270.7 L417.4,268.5 L417.1,266.3 L416.9,264.1 L416.4,261.9 L417.0,259.7 L416.1,257.5 L417.2,255.3 L416.5,253.1 L416.9,250.9 L416.1,248.7 L417.0,246.5 L416.6,244.3 L416.9,242.1 L416.8,239.9 L416.4,237.7 L416.4,235.5 L416.7,233.3 L416.5,231.1 L416.2,228.9 L416.2,226.7 L416.7,224.5 L416.1,222.3 L416.6,220.1 L417.1,217.9 L417.3,215.7 L417.7,213.5Z M435.0,204.5 L435.0,206.0 L435.7,208.2 L436.1,210.4 L436.0,212.6 L436.9,214.8 L436.2,217.0 L436.7,219.2 L436.2,221.4 L436.8,223.6 L436.5,225.8 L437.4,228.0 L436.3,230.2 L437.3,232.4 L437.2,234.6 L436.9,236.8 L436.7,239.0 L437.2,241.2 L436.9,243.4 L437.1,245.6 L436.8,247.8 L437.1,250.0 L437.4,252.2 L437.7,254.4 L437.3,256.6 L437.6,258.8 L437.3,261.0 L437.3,263.2 L437.1,265.4 L437.6,267.6 L437.3,269.8 L438.0,272.0 L437.7,274.2 L437.8,276.4 L437.5,278.6 L437.9,280.8 L437.4,283.0 L437.9,285.2 L437.7,287.4 L438.1,289.6 L437.8,291.8 L437.8,294.0 L437.7,296.2 L438.0,298.4 L437.5,300.6 L438.1,302.8 L438.0,305.0 L438.2,307.2 L437.6,309.4 L437.5,311.6 L437.9,313.8 L438.2,316.0 L438.5,318.2 L438.7,320.4 L438.0,322.6 L438.3,324.8 L438.3,327.0 L438.7,329.2 L438.0,331.4 L438.6,333.6 L438.4,335.8 L438.2,338.0 L438.4,340.2 L439.0,342.4 L438.4,344.6 L438.4,346.8 L437.9,349.0 L439.0,351.2 L438.6,353.4 L438.9,355.6 L438.4,357.8 L438.6,360.0 L439.2,362.2 L438.8,364.4 L438.9,366.6 L439.1,368.8 L438.7,371.0 L438.9,373.2 L438.9,375.4 L439.6,377.6 L438.6,379.8 L438.2,382.0 L438.0,384.2 L437.7,387.4 L437.3,384.2 L436.7,382.0 L436.6,379.8 L435.9,377.6 L436.0,375.4 L435.8,373.2 L436.0,371.0 L436.1,368.8 L436.1,366.6 L435.6,364.4 L436.6,362.2 L435.9,360.0 L435.8,357.8 L436.0,355.6 L435.9,353.4 L435.8,351.2 L436.0,349.0 L435.4,346.8 L436.3,344.6 L435.2,342.4 L435.7,340.2 L435.4,338.0 L435.4,335.8 L435.8,333.6 L435.3,331.4 L435.1,329.2 L435.9,327.0 L434.8,324.8 L435.4,322.6 L435.4,320.4 L435.7,318.2 L435.5,316.0 L435.4,313.8 L434.9,311.6 L435.4,309.4 L434.6,307.2 L435.1,305.0 L435.0,302.8 L435.5,300.6 L434.6,298.4 L435.6,296.2 L434.9,294.0 L434.5,291.8 L434.4,289.6 L434.8,287.4 L435.2,285.2 L435.2,283.0 L434.5,280.8 L435.1,278.6 L434.5,276.4 L434.9,274.2 L433.9,272.0 L435.0,269.8 L433.8,267.6 L435.0,265.4 L434.6,263.2 L434.5,261.0 L434.5,258.8 L434.5,256.6 L434.2,254.4 L434.6,252.2 L433.9,250.0 L434.0,247.8 L434.1,245.6 L434.5,243.4 L434.3,241.2 L434.6,239.0 L434.0,236.8 L433.8,234.6 L434.0,232.4 L434.4,230.2 L433.9,228.0 L433.7,225.8 L433.0,223.6 L434.1,221.4 L433.9,219.2 L433.9,217.0 L433.8,214.8 L433.8,212.6 L434.5,210.4 L434.8,208.2 L435.2,206.0Z M451.0,211.1 L451.1,212.6 L451.3,214.8 L451.9,217.0 L452.0,219.2 L452.7,221.4 L452.4,223.6 L452.9,225.8 L452.8,228.0 L452.5,230.2 L452.6,232.4 L453.3,234.6 L452.7,236.8 L453.1,239.0 L452.6,241.2 L452.6,243.4 L452.8,245.6 L453.6,247.8 L452.7,250.0 L452.5,252.2 L453.3,254.4 L453.3,256.6 L453.2,258.8 L453.2,261.0 L452.9,263.2 L452.7,265.4 L452.6,267.6 L453.5,269.8 L452.8,272.0 L453.4,274.2 L453.3,276.4 L453.5,278.6 L452.9,280.8 L453.3,283.0 L453.0,285.2 L453.6,287.4 L452.9,289.6 L453.5,291.8 L453.1,294.0 L453.9,296.2 L453.8,298.4 L453.6,300.6 L453.2,302.8 L454.3,305.0 L453.1,307.2 L453.4,309.4 L453.1,311.6 L453.6,313.8 L453.7,316.0 L454.1,318.2 L453.3,320.4 L453.7,322.6 L453.9,324.8 L454.1,327.0 L453.2,329.2 L454.3,331.4 L453.6,333.6 L453.6,335.8 L453.5,338.0 L453.9,340.2 L454.1,342.4 L454.3,344.6 L453.5,346.8 L453.7,349.0 L454.0,351.2 L453.8,353.4 L453.8,355.6 L454.1,357.8 L454.5,360.0 L454.2,362.2 L454.2,364.4 L454.9,366.6 L454.2,368.8 L454.5,371.0 L453.8,373.2 L453.3,375.4 L452.9,380.4 L452.4,375.4 L452.0,373.2 L451.2,371.0 L451.6,368.8 L451.1,366.6 L451.6,364.4 L451.4,362.2 L451.4,360.0 L451.4,357.8 L451.7,355.6 L451.0,353.4 L451.4,351.2 L450.8,349.0 L450.9,346.8 L450.5,344.6 L451.4,342.4 L450.8,340.2 L451.3,338.0 L450.6,335.8 L451.6,333.6 L450.6,331.4 L451.1,329.2 L450.9,327.0 L450.9,324.8 L450.4,322.6 L451.4,320.4 L450.8,318.2 L451.0,316.0 L450.4,313.8 L450.5,311.6 L450.6,309.4 L451.0,307.2 L449.9,305.0 L450.9,302.8 L450.2,300.6 L451.0,298.4 L450.2,296.2 L450.7,294.0 L450.4,291.8 L450.3,289.6 L450.6,287.4 L450.5,285.2 L449.8,283.0 L450.4,280.8 L450.3,278.6 L450.9,276.4 L449.8,274.2 L450.5,272.0 L450.4,269.8 L450.8,267.6 L449.7,265.4 L450.7,263.2 L449.3,261.0 L450.3,258.8 L450.2,256.6 L450.5,254.4 L449.4,252.2 L450.0,250.0 L449.6,247.8 L450.2,245.6 L449.8,243.4 L450.3,241.2 L449.8,239.0 L449.5,236.8 L449.3,234.6 L449.7,232.4 L450.1,230.2 L449.8,228.0 L449.3,225.8 L449.7,223.6 L449.6,221.4 L449.9,219.2 L450.6,217.0 L450.4,214.8 L450.7,212.6Z M469.5,220.5 L469.3,222.0 L469.7,224.2 L470.5,226.4 L470.2,228.6 L471.2,230.8 L471.2,233.0 L471.2,235.2 L470.7,237.4 L471.2,239.6 L470.8,241.8 L470.9,244.0 L470.7,246.2 L471.4,248.4 L470.8,250.6 L470.9,252.8 L471.0,255.0 L471.2,257.2 L471.0,259.4 L471.3,261.6 L471.5,263.8 L470.9,266.0 L471.4,268.2 L471.5,270.4 L471.2,272.6 L471.3,274.8 L471.3,277.0 L471.9,279.2 L470.8,281.4 L471.5,283.6 L471.2,285.8 L471.9,288.0 L471.1,290.2 L471.9,292.4 L471.3,294.6 L471.0,296.8 L471.5,299.0 L471.4,301.2 L471.4,303.4 L471.0,305.6 L471.5,307.8 L471.4,310.0 L471.2,312.2 L472.0,314.4 L471.5,316.6 L471.9,318.8 L471.4,321.0 L471.7,323.2 L471.3,325.4 L471.8,327.6 L471.7,329.8 L471.7,332.0 L471.0,334.2 L471.6,336.4 L471.3,338.6 L472.0,340.8 L471.5,343.0 L472.1,345.2 L471.6,347.4 L471.8,349.6 L471.5,351.8 L472.1,354.0 L471.5,356.2 L472.4,358.4 L471.5,360.6 L471.6,362.8 L471.5,365.0 L471.6,367.2 L471.0,369.4 L470.9,371.6 L470.4,374.6 L470.0,371.6 L470.1,369.4 L469.7,367.2 L469.0,365.0 L468.7,362.8 L469.0,360.6 L469.2,358.4 L469.3,356.2 L468.8,354.0 L469.1,351.8 L468.7,349.6 L468.9,347.4 L468.0,345.2 L469.1,343.0 L469.0,340.8 L468.7,338.6 L468.6,336.4 L468.6,334.2 L469.1,332.0 L468.6,329.8 L468.8,327.6 L468.5,325.4 L468.9,323.2 L469.0,321.0 L468.1,318.8 L468.6,316.6 L468.6,314.4 L468.7,312.2 L468.9,310.0 L468.9,307.8 L468.0,305.6 L469.0,303.4 L468.4,301.2 L468.9,299.0 L467.7,296.8 L468.8,294.6 L468.1,292.4 L468.8,290.2 L468.7,288.0 L468.7,285.8 L468.3,283.6 L468.7,281.4 L468.3,279.2 L468.6,277.0 L468.2,274.8 L468.6,272.6 L468.1,270.4 L468.6,268.2 L467.7,266.0 L468.4,263.8 L467.8,261.6 L468.8,259.4 L468.5,257.2 L468.7,255.0 L468.4,252.8 L468.4,250.6 L467.9,248.4 L468.1,246.2 L468.1,244.0 L468.4,241.8 L468.0,239.6 L468.4,237.4 L468.0,235.2 L468.1,233.0 L468.0,230.8 L468.8,228.6 L469.1,226.4 L469.3,224.2 L469.4,222.0Z M487.5,223.5 L487.6,225.0 L487.8,227.2 L488.6,229.4 L488.4,231.6 L489.0,233.8 L488.8,236.0 L489.0,238.2 L488.5,240.4 L489.3,242.6 L488.7,244.8 L488.6,247.0 L488.8,249.2 L489.1,251.4 L488.5,253.6 L488.9,255.8 L488.7,258.0 L489.7,260.2 L488.7,262.4 L489.5,264.6 L488.8,266.8 L488.8,269.0 L489.0,271.2 L488.8,273.4 L488.8,275.6 L489.0,277.8 L488.8,280.0 L489.5,282.2 L489.1,284.4 L489.5,286.6 L489.0,288.8 L489.1,291.0 L489.5,293.2 L489.4,295.4 L488.6,297.6 L489.8,299.8 L489.2,302.0 L489.4,304.2 L489.2,306.4 L489.3,308.6 L489.1,310.8 L489.2,313.0 L489.3,315.2 L489.6,317.4 L489.2,319.6 L489.7,321.8 L488.6,324.0 L489.5,326.2 L488.7,328.4 L489.5,330.6 L489.2,332.8 L488.9,335.0 L489.1,337.2 L488.9,339.4 L488.8,341.6 L489.1,343.8 L488.9,346.0 L488.9,348.2 L489.2,350.4 L489.0,352.6 L489.3,354.8 L489.8,357.0 L489.0,359.2 L489.0,361.4 L488.0,363.6 L487.9,367.6 L487.5,363.6 L486.9,361.4 L486.7,359.2 L486.4,357.0 L486.8,354.8 L486.6,352.6 L486.8,350.4 L486.5,348.2 L486.6,346.0 L486.5,343.8 L486.4,341.6 L486.2,339.4 L486.5,337.2 L486.5,335.0 L486.5,332.8 L486.5,330.6 L485.9,328.4 L486.4,326.2 L486.6,324.0 L486.7,321.8 L486.6,319.6 L485.9,317.4 L486.9,315.2 L486.6,313.0 L486.2,310.8 L486.0,308.6 L486.6,306.4 L486.0,304.2 L486.2,302.0 L485.6,299.8 L486.4,297.6 L485.9,295.4 L486.1,293.2 L486.4,291.0 L486.4,288.8 L485.9,286.6 L486.4,284.4 L485.6,282.2 L486.9,280.0 L486.1,277.8 L486.1,275.6 L485.9,273.4 L486.1,271.2 L485.7,269.0 L486.2,266.8 L485.8,264.6 L486.5,262.4 L485.8,260.2 L486.3,258.0 L485.9,255.8 L485.9,253.6 L485.8,251.4 L486.3,249.2 L485.5,247.0 L486.6,244.8 L486.2,242.6 L486.2,240.4 L486.0,238.2 L486.1,236.0 L486.3,233.8 L486.6,231.6 L486.7,229.4 L487.1,227.2 L487.5,225.0Z M505.0,229.5 L504.8,231.0 L505.3,233.2 L505.6,235.4 L506.1,237.6 L506.0,239.8 L506.2,242.0 L506.5,244.2 L506.3,246.4 L506.5,248.6 L505.9,250.8 L506.7,253.0 L506.1,255.2 L506.2,257.4 L506.0,259.6 L506.7,261.8 L506.1,264.0 L506.8,266.2 L505.9,268.4 L506.4,270.6 L506.4,272.8 L506.1,275.0 L506.3,277.2 L506.3,279.4 L506.1,281.6 L506.2,283.8 L506.1,286.0 L505.9,288.2 L506.1,290.4 L506.0,292.6 L505.7,294.8 L506.3,297.0 L505.4,299.2 L506.5,301.4 L505.6,303.6 L506.6,305.8 L506.2,308.0 L506.4,310.2 L505.4,312.4 L506.5,314.6 L506.0,316.8 L506.2,319.0 L506.1,321.2 L506.6,323.4 L505.5,325.6 L505.9,327.8 L505.9,330.0 L506.1,332.2 L505.5,334.4 L505.8,336.6 L506.2,338.8 L506.3,341.0 L505.5,343.2 L506.2,345.4 L505.4,347.6 L505.8,349.8 L505.7,352.0 L505.4,354.2 L504.9,356.4 L504.5,358.6 L504.3,361.7 L504.3,358.6 L503.8,356.4 L502.8,354.2 L503.3,352.0 L502.6,349.8 L503.1,347.6 L502.6,345.4 L503.6,343.2 L502.6,341.0 L503.2,338.8 L502.7,336.6 L502.8,334.4 L502.7,332.2 L502.6,330.0 L502.8,327.8 L503.4,325.6 L502.5,323.4 L503.6,321.2 L502.9,319.0 L503.2,316.8 L502.8,314.6 L503.2,312.4 L502.6,310.2 L503.4,308.0 L502.9,305.8 L502.8,303.6 L503.5,301.4 L502.8,299.2 L503.1,297.0 L502.8,294.8 L503.3,292.6 L503.0,290.4 L502.7,288.2 L503.6,286.0 L503.4,283.8 L503.3,281.6 L502.9,279.4 L503.6,277.2 L502.6,275.0 L503.7,272.8 L502.8,270.6 L503.9,268.4 L503.0,266.2 L503.4,264.0 L503.1,261.8 L503.7,259.6 L502.7,257.4 L503.9,255.2 L503.2,253.0 L503.6,250.8 L503.5,248.6 L503.5,246.4 L502.8,244.2 L503.6,242.0 L503.6,239.8 L503.7,237.6 L504.0,235.4 L504.4,233.2 L504.8,231.0Z" fill="currentColor" fill-opacity="1"/><use href="#bf"/><path d="M296.4,251.0 L297.0,388.0 M313.6,245.0 L315.0,395.0 M330.6,237.5 L332.5,400.0 M347.0,233.6 L350.6,407.5 M364.2,225.8 L369.9,413.0 M383.5,225.0 L386.2,407.1 M401.0,215.0 L403.8,400.1 M417.6,207.5 L420.1,394.3 M435.0,200.0 L437.7,388.4 M451.0,206.6 L452.9,381.4 M469.5,216.0 L470.4,375.6 M487.5,219.0 L487.9,368.6 M505.0,225.0 L504.3,362.7" stroke="currentColor" stroke-width="1.3"/></g><g id="br2"><use href="#bh"/><path d="M296.4,255.5 L296.7,257.0 L297.5,259.2 L297.6,261.4 L298.4,263.6 L299.0,265.8 L298.2,268.0 L298.8,270.2 L298.8,272.4 L299.8,274.6 L299.2,276.8 L299.2,279.0 L298.4,281.2 L300.0,283.4 L298.7,285.6 L299.7,287.8 L299.2,290.0 L299.0,292.2 L298.5,294.4 L299.8,296.6 L298.7,298.8 L299.3,301.0 L298.7,303.2 L298.7,305.4 L299.4,307.6 L300.4,309.8 L299.2,312.0 L300.3,314.2 L299.2,316.4 L299.9,318.6 L299.5,320.8 L299.3,323.0 L299.0,325.2 L300.4,327.4 L299.9,329.6 L299.0,331.8 L298.7,334.0 L300.3,336.2 L298.9,338.4 L299.4,340.6 L298.8,342.8 L298.9,345.0 L299.7,347.2 L300.4,349.4 L298.9,351.6 L299.4,353.8 L298.8,356.0 L300.1,358.2 L298.4,360.4 L300.1,362.6 L298.8,364.8 L300.8,367.0 L299.4,369.2 L299.9,371.4 L298.7,373.6 L299.7,375.8 L298.8,378.0 L298.4,380.2 L298.0,382.4 L297.0,387.0 L296.4,382.4 L295.3,380.2 L294.6,378.0 L294.9,375.8 L294.2,373.6 L293.5,371.4 L294.8,369.2 L294.7,367.0 L295.1,364.8 L293.6,362.6 L294.7,360.4 L293.2,358.2 L294.0,356.0 L294.2,353.8 L295.2,351.6 L294.1,349.4 L293.9,347.2 L294.0,345.0 L295.1,342.8 L294.2,340.6 L294.4,338.4 L293.7,336.2 L293.6,334.0 L293.9,331.8 L293.8,329.6 L293.6,327.4 L293.7,325.2 L292.9,323.0 L294.1,320.8 L293.4,318.6 L293.7,316.4 L293.6,314.2 L294.8,312.0 L294.3,309.8 L294.4,307.6 L293.1,305.4 L293.6,303.2 L293.2,301.0 L294.1,298.8 L293.9,296.6 L293.7,294.4 L294.2,292.2 L294.3,290.0 L293.0,287.8 L294.4,285.6 L294.3,283.4 L293.5,281.2 L292.9,279.0 L294.4,276.8 L294.1,274.6 L294.3,272.4 L293.1,270.2 L293.7,268.0 L293.9,265.8 L294.4,263.6 L295.1,261.4 L295.6,259.2 L296.2,257.0Z M313.6,249.5 L313.8,251.0 L314.5,253.2 L315.3,255.4 L314.9,257.6 L316.2,259.8 L315.8,262.0 L316.4,264.2 L315.9,266.4 L316.7,268.6 L315.8,270.8 L317.2,273.0 L315.4,275.2 L317.1,277.4 L315.6,279.6 L316.0,281.8 L316.1,284.0 L317.3,286.2 L316.7,288.4 L317.2,290.6 L316.8,292.8 L317.4,295.0 L316.0,297.2 L316.4,299.4 L317.0,301.6 L317.6,303.8 L316.3,306.0 L317.5,308.2 L316.8,310.4 L317.8,312.6 L316.5,314.8 L317.8,317.0 L316.2,319.2 L317.4,321.4 L316.1,323.6 L316.9,325.8 L317.2,328.0 L317.0,330.2 L317.2,332.4 L317.9,334.6 L316.8,336.8 L317.4,339.0 L317.0,341.2 L317.1,343.4 L316.5,345.6 L318.5,347.8 L317.3,350.0 L317.9,352.2 L316.8,354.4 L316.8,356.6 L317.1,358.8 L317.2,361.0 L317.8,363.2 L318.3,365.4 L317.0,367.6 L318.3,369.8 L316.7,372.0 L318.4,374.2 L317.3,376.4 L318.2,378.6 L316.6,380.8 L317.9,383.0 L316.9,385.2 L316.5,387.4 L315.8,389.6 L315.0,394.0 L314.4,389.6 L313.2,387.4 L313.0,385.2 L312.1,383.0 L312.5,380.8 L311.1,378.6 L312.0,376.4 L312.2,374.2 L312.1,372.0 L312.1,369.8 L312.6,367.6 L311.4,365.4 L312.3,363.2 L310.8,361.0 L312.0,358.8 L312.1,356.6 L311.9,354.4 L311.5,352.2 L312.5,350.0 L312.0,347.8 L311.6,345.6 L311.5,343.4 L312.3,341.2 L311.2,339.0 L312.1,336.8 L312.0,334.6 L312.5,332.4 L310.8,330.2 L311.6,328.0 L311.6,325.8 L312.7,323.6 L311.9,321.4 L311.8,319.2 L311.0,317.0 L312.5,314.8 L311.0,312.6 L311.6,310.4 L310.9,308.2 L311.1,306.0 L310.8,303.8 L311.9,301.6 L310.5,299.4 L312.1,297.2 L311.4,295.0 L311.9,292.8 L311.3,290.6 L311.0,288.4 L311.0,286.2 L311.8,284.0 L311.2,281.8 L311.6,279.6 L310.7,277.4 L311.0,275.2 L310.6,273.0 L311.8,270.8 L311.3,268.6 L311.5,266.4 L311.2,264.2 L312.0,262.0 L311.0,259.8 L312.3,257.6 L311.7,255.4 L313.1,253.2 L313.8,251.0Z M330.6,242.0 L330.7,243.5 L331.7,245.7 L332.2,247.9 L332.0,250.1 L333.8,252.3 L333.0,254.5 L334.3,256.7 L333.1,258.9 L334.1,261.1 L332.8,263.3 L334.7,265.5 L333.5,267.7 L333.6,269.9 L333.6,272.1 L334.3,274.3 L333.7,276.5 L334.0,278.7 L333.6,280.9 L334.0,283.1 L333.3,285.3 L333.8,287.5 L333.6,289.7 L334.6,291.9 L334.3,294.1 L333.7,296.3 L333.3,298.5 L334.3,300.7 L333.5,302.9 L334.7,305.1 L334.0,307.3 L333.9,309.5 L334.2,311.7 L333.6,313.9 L334.4,316.1 L334.9,318.3 L333.4,320.5 L335.3,322.7 L334.2,324.9 L335.4,327.1 L333.5,329.3 L335.4,331.5 L333.3,333.7 L335.2,335.9 L334.7,338.1 L334.1,340.3 L334.3,342.5 L334.8,344.7 L334.9,346.9 L335.0,349.1 L335.0,351.3 L334.5,353.5 L334.8,355.7 L334.7,357.9 L334.4,360.1 L334.2,362.3 L335.0,364.5 L335.6,366.7 L334.7,368.9 L335.1,371.1 L335.1,373.3 L336.0,375.5 L333.9,377.7 L335.5,379.9 L335.0,382.1 L335.8,384.3 L335.3,386.5 L335.4,388.7 L333.9,390.9 L333.4,393.1 L332.8,395.3 L332.5,399.0 L332.2,395.3 L331.2,393.1 L330.5,390.9 L328.9,388.7 L330.0,386.5 L329.3,384.3 L330.7,382.1 L329.3,379.9 L329.7,377.7 L329.1,375.5 L329.5,373.3 L328.9,371.1 L330.2,368.9 L328.5,366.7 L329.2,364.5 L328.8,362.3 L329.3,360.1 L328.5,357.9 L330.0,355.7 L328.7,353.5 L329.8,351.3 L328.6,349.1 L329.4,346.9 L328.2,344.7 L329.0,342.5 L328.8,340.3 L329.4,338.1 L329.2,335.9 L329.0,333.7 L328.2,331.5 L329.5,329.3 L329.0,327.1 L329.6,324.9 L329.2,322.7 L329.6,320.5 L329.5,318.3 L329.0,316.1 L327.8,313.9 L329.1,311.7 L328.2,309.5 L328.6,307.3 L327.6,305.1 L328.3,302.9 L328.9,300.7 L328.5,298.5 L328.4,296.3 L329.0,294.1 L327.7,291.9 L328.6,289.7 L327.7,287.5 L329.1,285.3 L327.8,283.1 L328.8,280.9 L327.8,278.7 L329.4,276.5 L328.2,274.3 L328.3,272.1 L327.9,269.9 L328.3,267.7 L327.8,265.5 L328.0,263.3 L327.0,261.1 L327.9,258.9 L327.7,256.7 L328.2,254.5 L327.5,252.3 L328.6,250.1 L329.2,247.9 L329.9,245.7 L330.5,243.5Z M347.0,238.1 L347.0,239.6 L347.7,241.8 L349.1,244.0 L348.6,246.2 L350.1,248.4 L349.9,250.6 L350.0,252.8 L350.2,255.0 L350.3,257.2 L350.4,259.4 L349.8,261.6 L349.6,263.8 L350.4,266.0 L349.9,268.2 L350.4,270.4 L350.7,272.6 L350.1,274.8 L349.4,277.0 L351.0,279.2 L350.7,281.4 L351.1,283.6 L350.1,285.8 L350.5,288.0 L349.9,290.2 L351.5,292.4 L350.8,294.6 L351.9,296.8 L350.8,299.0 L351.4,301.2 L350.6,303.4 L351.5,305.6 L350.1,307.8 L350.6,310.0 L351.2,312.2 L352.1,314.4 L351.5,316.6 L352.6,318.8 L350.7,321.0 L351.6,323.2 L351.2,325.4 L351.7,327.6 L351.8,329.8 L352.5,332.0 L352.1,334.2 L352.6,336.4 L351.7,338.6 L352.2,340.8 L351.9,343.0 L352.0,345.2 L351.4,347.4 L351.6,349.6 L351.0,351.8 L352.2,354.0 L351.5,356.2 L352.5,358.4 L352.3,360.6 L352.4,362.8 L351.8,365.0 L352.6,367.2 L352.0,369.4 L352.5,371.6 L352.6,373.8 L352.5,376.0 L351.9,378.2 L352.5,380.4 L352.1,382.6 L353.6,384.8 L353.0,387.0 L353.8,389.2 L352.4,391.4 L353.0,393.6 L353.1,395.8 L353.6,398.0 L352.2,400.2 L351.3,402.4 L350.6,406.5 L349.8,402.4 L349.2,400.2 L348.3,398.0 L348.5,395.8 L347.2,393.6 L348.1,391.4 L347.4,389.2 L347.8,387.0 L347.2,384.8 L348.0,382.6 L347.2,380.4 L347.6,378.2 L347.1,376.0 L347.9,373.8 L346.5,371.6 L347.2,369.4 L347.7,367.2 L347.7,365.0 L347.5,362.8 L347.9,360.6 L346.9,358.4 L347.3,356.2 L346.7,354.0 L347.5,351.8 L347.2,349.6 L347.4,347.4 L345.9,345.2 L347.3,343.0 L345.8,340.8 L346.3,338.6 L346.6,336.4 L346.5,334.2 L346.7,332.0 L346.4,329.8 L345.7,327.6 L347.1,325.4 L345.3,323.2 L346.1,321.0 L345.2,318.8 L346.0,316.6 L346.5,314.4 L346.0,312.2 L344.9,310.0 L346.0,307.8 L345.7,305.6 L346.2,303.4 L345.0,301.2 L345.4,299.0 L345.2,296.8 L346.1,294.6 L344.6,292.4 L345.2,290.2 L345.1,288.0 L345.4,285.8 L344.6,283.6 L345.3,281.4 L345.2,279.2 L344.9,277.0 L344.3,274.8 L345.0,272.6 L344.2,270.4 L344.7,268.2 L345.0,266.0 L345.9,263.8 L344.5,261.6 L345.0,259.4 L344.7,257.2 L345.2,255.0 L345.0,252.8 L344.9,250.6 L344.2,248.4 L345.7,246.2 L345.7,244.0 L346.5,241.8 L347.0,239.6Z M364.2,230.3 L364.1,231.8 L364.9,234.0 L366.0,236.2 L366.5,238.4 L367.2,240.6 L366.6,242.8 L367.9,245.0 L367.0,247.2 L367.6,249.4 L367.0,251.6 L368.0,253.8 L367.2,256.0 L367.1,258.2 L366.7,260.4 L368.3,262.6 L367.2,264.8 L368.3,267.0 L368.4,269.2 L369.1,271.4 L368.8,273.6 L367.9,275.8 L368.2,278.0 L368.3,280.2 L368.6,282.4 L368.7,284.6 L369.0,286.8 L369.8,289.0 L368.8,291.2 L369.2,293.4 L369.1,295.6 L369.4,297.8 L368.7,300.0 L368.8,302.2 L368.9,304.4 L369.3,306.6 L369.0,308.8 L370.0,311.0 L369.4,313.2 L370.3,315.4 L369.3,317.6 L369.9,319.8 L369.5,322.0 L370.1,324.2 L370.1,326.4 L370.8,328.6 L369.7,330.8 L371.1,333.0 L369.6,335.2 L369.8,337.4 L370.3,339.6 L371.3,341.8 L369.6,344.0 L371.2,346.2 L370.6,348.4 L370.7,350.6 L370.2,352.8 L371.0,355.0 L370.8,357.2 L372.1,359.4 L371.0,361.6 L371.0,363.8 L371.6,366.0 L370.6,368.2 L371.5,370.4 L371.5,372.6 L371.9,374.8 L371.5,377.0 L370.8,379.2 L371.8,381.4 L371.8,383.6 L372.7,385.8 L371.7,388.0 L373.2,390.2 L372.0,392.4 L371.7,394.6 L372.3,396.8 L371.9,399.0 L372.4,401.2 L372.5,403.4 L370.9,405.6 L370.7,407.8 L369.9,412.0 L369.1,407.8 L368.8,405.6 L366.6,403.4 L367.3,401.2 L366.5,399.0 L367.2,396.8 L366.6,394.6 L366.6,392.4 L365.4,390.2 L366.3,388.0 L366.8,385.8 L366.5,383.6 L365.9,381.4 L366.9,379.2 L366.7,377.0 L365.9,374.8 L365.7,372.6 L366.9,370.4 L365.6,368.2 L365.8,366.0 L365.8,363.8 L366.1,361.6 L365.5,359.4 L365.8,357.2 L364.5,355.0 L365.1,352.8 L365.8,350.6 L365.8,348.4 L365.1,346.2 L365.5,344.0 L365.7,341.8 L365.2,339.6 L364.7,337.4 L365.5,335.2 L364.8,333.0 L364.7,330.8 L364.1,328.6 L364.3,326.4 L364.1,324.2 L364.3,322.0 L363.3,319.8 L364.3,317.6 L363.0,315.4 L365.2,313.2 L364.3,311.0 L364.7,308.8 L363.8,306.6 L363.9,304.4 L364.2,302.2 L363.6,300.0 L363.0,297.8 L363.9,295.6 L363.6,293.4 L363.5,291.2 L363.6,289.0 L362.9,286.8 L363.4,284.6 L363.2,282.4 L362.5,280.2 L363.5,278.0 L362.7,275.8 L363.2,273.6 L362.2,271.4 L363.2,269.2 L362.3,267.0 L362.4,264.8 L361.9,262.6 L362.8,260.4 L361.8,258.2 L362.5,256.0 L361.7,253.8 L362.5,251.6 L362.1,249.4 L362.6,247.2 L361.4,245.0 L362.1,242.8 L361.5,240.6 L362.3,238.4 L362.4,236.2 L363.8,234.0 L364.5,231.8Z M383.5,229.5 L383.5,231.0 L384.3,233.2 L385.2,235.4 L385.4,237.6 L386.3,239.8 L386.0,242.0 L387.3,244.2 L386.5,246.4 L387.3,248.6 L386.6,250.8 L387.7,253.0 L386.1,255.2 L387.6,257.4 L386.0,259.6 L387.3,261.8 L386.3,264.0 L387.6,266.2 L386.3,268.4 L387.3,270.6 L386.5,272.8 L387.6,275.0 L387.1,277.2 L387.2,279.4 L386.0,281.6 L386.5,283.8 L386.4,286.0 L387.8,288.2 L386.1,290.4 L387.2,292.6 L387.2,294.8 L387.7,297.0 L387.1,299.2 L388.0,301.4 L387.2,303.6 L387.2,305.8 L386.8,308.0 L387.0,310.2 L387.5,312.4 L388.4,314.6 L387.4,316.8 L387.2,319.0 L387.0,321.2 L387.8,323.4 L388.1,325.6 L387.5,327.8 L388.0,330.0 L388.4,332.2 L386.9,334.4 L388.4,336.6 L388.1,338.8 L388.0,341.0 L387.6,343.2 L387.8,345.4 L388.3,347.6 L387.9,349.8 L387.4,352.0 L389.4,354.2 L388.7,356.4 L388.0,358.6 L387.7,360.8 L388.9,363.0 L387.3,365.2 L388.7,367.4 L388.1,369.6 L389.5,371.8 L388.7,374.0 L389.3,376.2 L387.7,378.4 L388.6,380.6 L388.7,382.8 L388.5,385.0 L388.7,387.2 L388.5,389.4 L388.7,391.6 L389.8,393.8 L388.3,396.0 L388.4,398.2 L387.0,400.4 L386.7,402.6 L386.2,406.1 L385.7,402.6 L385.1,400.4 L384.0,398.2 L383.3,396.0 L382.9,393.8 L383.6,391.6 L382.2,389.4 L383.4,387.2 L383.3,385.0 L383.3,382.8 L382.7,380.6 L382.9,378.4 L383.7,376.2 L382.8,374.0 L383.1,371.8 L382.7,369.6 L383.3,367.4 L383.7,365.2 L382.6,363.0 L382.5,360.8 L381.7,358.6 L383.2,356.4 L382.3,354.2 L383.6,352.0 L382.7,349.8 L382.6,347.6 L382.2,345.4 L382.4,343.2 L382.5,341.0 L383.2,338.8 L382.8,336.6 L382.7,334.4 L381.2,332.2 L382.7,330.0 L381.4,327.8 L383.0,325.6 L381.5,323.4 L382.2,321.2 L381.8,319.0 L381.9,316.8 L381.7,314.6 L382.8,312.4 L381.5,310.2 L382.4,308.0 L381.4,305.8 L382.3,303.6 L381.4,301.4 L382.6,299.2 L380.9,297.0 L382.0,294.8 L381.9,292.6 L382.4,290.4 L381.7,288.2 L381.9,286.0 L381.0,283.8 L382.3,281.6 L381.7,279.4 L381.2,277.2 L381.2,275.0 L381.4,272.8 L380.6,270.6 L381.4,268.4 L381.9,266.2 L381.6,264.0 L380.8,261.8 L381.4,259.6 L381.7,257.4 L381.9,255.2 L380.1,253.0 L381.8,250.8 L380.8,248.6 L381.7,246.4 L380.1,244.2 L380.8,242.0 L380.5,239.8 L382.2,237.6 L381.5,235.4 L382.7,233.2 L383.4,231.0Z M401.0,219.5 L400.7,221.0 L402.0,223.2 L402.9,225.4 L402.3,227.6 L403.6,229.8 L403.3,232.0 L404.7,234.2 L403.4,236.4 L404.7,238.6 L403.7,240.8 L403.8,243.0 L403.8,245.2 L404.0,247.4 L403.7,249.6 L404.9,251.8 L403.4,254.0 L404.7,256.2 L404.4,258.4 L404.8,260.6 L403.9,262.8 L404.8,265.0 L403.7,267.2 L404.9,269.4 L404.7,271.6 L404.1,273.8 L404.3,276.0 L404.0,278.2 L404.4,280.4 L404.7,282.6 L403.7,284.8 L404.4,287.0 L404.9,289.2 L405.1,291.4 L405.0,293.6 L405.8,295.8 L404.7,298.0 L404.9,300.2 L405.5,302.4 L404.7,304.6 L404.9,306.8 L404.9,309.0 L405.1,311.2 L404.9,313.4 L404.5,315.6 L405.4,317.8 L404.9,320.0 L405.0,322.2 L404.2,324.4 L405.3,326.6 L405.2,328.8 L405.7,331.0 L405.2,333.2 L405.3,335.4 L405.3,337.6 L406.8,339.8 L404.6,342.0 L405.9,344.2 L405.1,346.4 L405.8,348.6 L405.8,350.8 L406.2,353.0 L405.1,355.2 L406.2,357.4 L406.1,359.6 L406.2,361.8 L405.2,364.0 L406.9,366.2 L406.0,368.4 L406.3,370.6 L405.4,372.8 L406.7,375.0 L406.6,377.2 L406.9,379.4 L406.1,381.6 L407.1,383.8 L405.6,386.0 L407.1,388.2 L405.1,390.4 L405.7,392.6 L404.1,394.8 L403.8,399.1 L402.9,394.8 L402.0,392.6 L401.6,390.4 L400.6,388.2 L400.9,386.0 L401.2,383.8 L401.2,381.6 L400.9,379.4 L400.9,377.2 L400.5,375.0 L401.3,372.8 L400.9,370.6 L400.8,368.4 L399.9,366.2 L401.4,364.0 L401.0,361.8 L401.3,359.6 L399.7,357.4 L400.8,355.2 L399.4,353.0 L400.7,350.8 L400.5,348.6 L401.3,346.4 L400.3,344.2 L400.3,342.0 L399.7,339.8 L400.5,337.6 L400.5,335.4 L400.6,333.2 L399.8,331.0 L400.6,328.8 L398.8,326.6 L399.9,324.4 L399.8,322.2 L400.2,320.0 L400.0,317.8 L399.9,315.6 L398.8,313.4 L399.8,311.2 L398.7,309.0 L399.7,306.8 L400.0,304.6 L399.9,302.4 L400.0,300.2 L400.1,298.0 L398.7,295.8 L399.3,293.6 L399.2,291.4 L399.4,289.2 L399.1,287.0 L399.9,284.8 L399.0,282.6 L399.9,280.4 L399.0,278.2 L399.2,276.0 L398.8,273.8 L399.5,271.6 L399.5,269.4 L400.0,267.2 L397.9,265.0 L399.1,262.8 L399.2,260.6 L399.0,258.4 L398.6,256.2 L399.7,254.0 L398.0,251.8 L399.6,249.6 L399.3,247.4 L398.9,245.2 L398.3,243.0 L399.4,240.8 L398.8,238.6 L398.9,236.4 L397.8,234.2 L398.6,232.0 L399.3,229.8 L399.4,227.6 L399.6,225.4 L400.4,223.2 L401.0,221.0Z M417.6,212.0 L417.8,213.5 L418.5,215.7 L419.5,217.9 L419.6,220.1 L420.7,222.3 L420.1,224.5 L420.5,226.7 L420.0,228.9 L420.5,231.1 L420.6,233.3 L421.0,235.5 L420.7,237.7 L421.1,239.9 L420.8,242.1 L420.7,244.3 L420.7,246.5 L420.5,248.7 L420.9,250.9 L420.6,253.1 L420.5,255.3 L421.7,257.5 L420.9,259.7 L421.5,261.9 L420.4,264.1 L421.3,266.3 L420.5,268.5 L421.7,270.7 L420.4,272.9 L421.3,275.1 L421.2,277.3 L421.5,279.5 L420.8,281.7 L421.4,283.9 L420.5,286.1 L421.9,288.3 L421.4,290.5 L422.3,292.7 L421.2,294.9 L422.1,297.1 L420.6,299.3 L421.3,301.5 L420.9,303.7 L421.0,305.9 L420.9,308.1 L422.4,310.3 L421.0,312.5 L422.2,314.7 L420.9,316.9 L421.8,319.1 L422.1,321.3 L422.4,323.5 L422.0,325.7 L422.7,327.9 L421.7,330.1 L422.7,332.3 L421.7,334.5 L422.8,336.7 L421.4,338.9 L421.8,341.1 L422.3,343.3 L423.2,345.5 L421.7,347.7 L421.8,349.9 L422.0,352.1 L422.1,354.3 L422.4,356.5 L423.3,358.7 L422.5,360.9 L422.9,363.1 L422.2,365.3 L423.3,367.5 L421.7,369.7 L423.6,371.9 L422.0,374.1 L422.7,376.3 L423.1,378.5 L423.8,380.7 L422.4,382.9 L421.7,385.1 L421.5,387.3 L420.8,389.5 L420.1,393.3 L419.8,389.5 L418.9,387.3 L418.4,385.1 L417.5,382.9 L416.5,380.7 L418.0,378.5 L417.1,376.3 L416.8,374.1 L416.0,371.9 L417.7,369.7 L416.1,367.5 L417.7,365.3 L416.7,363.1 L417.4,360.9 L416.2,358.7 L416.8,356.5 L416.3,354.3 L416.6,352.1 L416.4,349.9 L417.8,347.7 L416.4,345.5 L417.1,343.3 L417.3,341.1 L416.4,338.9 L415.7,336.7 L416.8,334.5 L417.2,332.3 L416.8,330.1 L416.3,327.9 L417.0,325.7 L415.5,323.5 L416.8,321.3 L416.3,319.1 L416.2,316.9 L416.3,314.7 L416.6,312.5 L416.3,310.3 L416.9,308.1 L416.3,305.9 L415.8,303.7 L415.4,301.5 L416.1,299.3 L415.7,297.1 L416.8,294.9 L416.4,292.7 L416.0,290.5 L416.2,288.3 L416.5,286.1 L416.0,283.9 L416.4,281.7 L416.3,279.5 L415.7,277.3 L415.9,275.1 L416.4,272.9 L415.5,270.7 L416.0,268.5 L415.7,266.3 L415.6,264.1 L415.7,261.9 L416.1,259.7 L415.7,257.5 L415.7,255.3 L415.1,253.1 L416.0,250.9 L415.4,248.7 L416.1,246.5 L415.4,244.3 L415.3,242.1 L414.1,239.9 L415.9,237.7 L415.1,235.5 L415.0,233.3 L415.8,231.1 L415.5,228.9 L415.2,226.7 L415.6,224.5 L414.9,222.3 L416.0,220.1 L415.9,217.9 L417.0,215.7 L417.5,213.5Z M435.0,204.5 L434.8,206.0 L435.5,208.2 L436.6,210.4 L436.5,212.6 L437.5,214.8 L436.8,217.0 L438.0,219.2 L437.9,221.4 L438.1,223.6 L437.4,225.8 L438.5,228.0 L437.8,230.2 L438.5,232.4 L437.4,234.6 L437.7,236.8 L437.7,239.0 L438.6,241.2 L437.8,243.4 L438.4,245.6 L438.0,247.8 L439.0,250.0 L438.0,252.2 L438.4,254.4 L437.5,256.6 L438.4,258.8 L438.3,261.0 L438.3,263.2 L438.2,265.4 L438.9,267.6 L438.6,269.8 L438.6,272.0 L438.2,274.2 L438.7,276.4 L438.6,278.6 L439.7,280.8 L438.4,283.0 L438.6,285.2 L438.6,287.4 L439.5,289.6 L439.0,291.8 L440.2,294.0 L439.1,296.2 L439.8,298.4 L438.9,300.6 L439.5,302.8 L439.2,305.0 L440.2,307.2 L439.4,309.4 L439.7,311.6 L438.8,313.8 L440.0,316.0 L439.3,318.2 L439.3,320.4 L439.2,322.6 L440.7,324.8 L438.8,327.0 L439.8,329.2 L439.3,331.4 L439.9,333.6 L439.8,335.8 L439.9,338.0 L439.8,340.2 L440.9,342.4 L439.2,344.6 L440.7,346.8 L439.8,349.0 L440.8,351.2 L439.3,353.4 L439.9,355.6 L439.5,357.8 L439.6,360.0 L439.3,362.2 L440.4,364.4 L439.3,366.6 L440.6,368.8 L439.7,371.0 L440.4,373.2 L439.8,375.4 L440.1,377.6 L439.8,379.8 L438.5,382.0 L437.7,384.2 L437.7,387.4 L437.3,384.2 L436.4,382.0 L435.7,379.8 L434.8,377.6 L434.9,375.4 L434.0,373.2 L434.9,371.0 L434.6,368.8 L434.9,366.6 L434.4,364.4 L434.9,362.2 L435.1,360.0 L434.7,357.8 L434.8,355.6 L434.6,353.4 L433.9,351.2 L434.8,349.0 L434.1,346.8 L434.9,344.6 L433.7,342.4 L434.4,340.2 L433.6,338.0 L435.1,335.8 L433.8,333.6 L433.8,331.4 L433.3,329.2 L434.2,327.0 L433.0,324.8 L433.7,322.6 L434.5,320.4 L433.9,318.2 L433.9,316.0 L433.8,313.8 L433.9,311.6 L434.5,309.4 L433.5,307.2 L434.4,305.0 L433.2,302.8 L434.4,300.6 L434.1,298.4 L434.3,296.2 L432.8,294.0 L434.1,291.8 L433.0,289.6 L434.4,287.4 L434.0,285.2 L433.3,283.0 L433.0,280.8 L433.4,278.6 L432.5,276.4 L433.7,274.2 L432.5,272.0 L433.3,269.8 L432.7,267.6 L433.2,265.4 L432.3,263.2 L432.7,261.0 L432.2,258.8 L434.2,256.6 L433.2,254.4 L433.5,252.2 L432.6,250.0 L432.7,247.8 L432.5,245.6 L432.5,243.4 L433.1,241.2 L433.4,239.0 L432.9,236.8 L432.3,234.6 L431.9,232.4 L433.6,230.2 L432.5,228.0 L432.6,225.8 L432.4,223.6 L432.6,221.4 L431.6,219.2 L432.3,217.0 L433.0,214.8 L433.3,212.6 L433.4,210.4 L434.3,208.2 L434.7,206.0Z M451.0,211.1 L451.3,212.6 L451.8,214.8 L452.7,217.0 L452.6,219.2 L453.2,221.4 L452.9,223.6 L453.2,225.8 L453.0,228.0 L454.3,230.2 L453.7,232.4 L453.9,234.6 L453.3,236.8 L454.5,239.0 L453.7,241.2 L454.0,243.4 L453.7,245.6 L453.7,247.8 L453.6,250.0 L454.6,252.2 L453.7,254.4 L454.7,256.6 L453.9,258.8 L453.7,261.0 L454.7,263.2 L453.9,265.4 L454.6,267.6 L454.8,269.8 L454.6,272.0 L454.8,274.2 L454.1,276.4 L454.2,278.6 L454.8,280.8 L454.9,283.0 L454.5,285.2 L455.0,287.4 L454.1,289.6 L455.7,291.8 L454.5,294.0 L455.0,296.2 L454.2,298.4 L455.6,300.6 L454.8,302.8 L455.5,305.0 L454.4,307.2 L455.6,309.4 L455.1,311.6 L454.8,313.8 L454.3,316.0 L455.5,318.2 L454.8,320.4 L455.6,322.6 L454.1,324.8 L455.6,327.0 L454.6,329.2 L455.6,331.4 L454.4,333.6 L456.0,335.8 L454.7,338.0 L454.7,340.2 L454.4,342.4 L455.9,344.6 L455.0,346.8 L454.9,349.0 L455.2,351.2 L455.3,353.4 L454.8,355.6 L455.4,357.8 L455.1,360.0 L456.1,362.2 L454.6,364.4 L455.6,366.6 L454.7,368.8 L455.2,371.0 L454.4,373.2 L454.0,375.4 L452.9,380.4 L451.7,375.4 L451.7,373.2 L449.9,371.0 L450.6,368.8 L450.1,366.6 L450.6,364.4 L449.1,362.2 L450.6,360.0 L450.3,357.8 L450.0,355.6 L449.8,353.4 L450.3,351.2 L449.8,349.0 L450.9,346.8 L449.7,344.6 L450.5,342.4 L450.3,340.2 L449.7,338.0 L449.3,335.8 L449.9,333.6 L449.2,331.4 L450.4,329.2 L449.5,327.0 L449.9,324.8 L450.0,322.6 L450.2,320.4 L449.8,318.2 L450.0,316.0 L448.4,313.8 L449.5,311.6 L449.6,309.4 L449.2,307.2 L449.1,305.0 L449.9,302.8 L448.6,300.6 L449.3,298.4 L449.5,296.2 L449.1,294.0 L449.2,291.8 L449.2,289.6 L448.9,287.4 L450.0,285.2 L449.2,283.0 L449.7,280.8 L448.8,278.6 L449.6,276.4 L448.6,274.2 L449.4,272.0 L448.5,269.8 L449.0,267.6 L448.6,265.4 L449.0,263.2 L449.1,261.0 L448.7,258.8 L448.4,256.6 L448.7,254.4 L447.9,252.2 L448.8,250.0 L448.5,247.8 L448.9,245.6 L447.4,243.4 L449.2,241.2 L448.9,239.0 L448.4,236.8 L448.9,234.6 L449.1,232.4 L449.0,230.2 L448.6,228.0 L448.6,225.8 L448.9,223.6 L447.8,221.4 L449.6,219.2 L449.1,217.0 L450.4,214.8 L451.2,212.6Z M469.5,220.5 L469.3,222.0 L470.3,224.2 L471.4,226.4 L471.4,228.6 L472.2,230.8 L471.9,233.0 L472.6,235.2 L471.6,237.4 L472.9,239.6 L471.4,241.8 L471.8,244.0 L472.3,246.2 L472.2,248.4 L472.8,250.6 L473.3,252.8 L472.0,255.0 L473.4,257.2 L472.3,259.4 L473.1,261.6 L471.9,263.8 L473.3,266.0 L472.3,268.2 L473.0,270.4 L471.8,272.6 L472.3,274.8 L472.5,277.0 L473.4,279.2 L472.0,281.4 L472.5,283.6 L472.1,285.8 L472.8,288.0 L471.7,290.2 L473.3,292.4 L472.8,294.6 L472.5,296.8 L472.0,299.0 L473.6,301.2 L472.9,303.4 L472.4,305.6 L472.6,307.8 L472.4,310.0 L473.1,312.2 L473.6,314.4 L472.2,316.6 L473.9,318.8 L472.4,321.0 L473.4,323.2 L472.9,325.4 L474.1,327.6 L472.7,329.8 L473.4,332.0 L472.8,334.2 L473.9,336.4 L473.2,338.6 L473.4,340.8 L472.8,343.0 L472.8,345.2 L473.2,347.4 L473.1,349.6 L473.3,351.8 L473.4,354.0 L472.0,356.2 L473.5,358.4 L472.6,360.6 L472.7,362.8 L473.0,365.0 L472.3,367.2 L471.6,369.4 L470.7,371.6 L470.4,374.6 L469.9,371.6 L469.3,369.4 L467.9,367.2 L468.0,365.0 L467.7,362.8 L468.5,360.6 L467.1,358.4 L467.9,356.2 L466.8,354.0 L468.6,351.8 L467.0,349.6 L467.6,347.4 L467.4,345.2 L467.5,343.0 L466.7,340.8 L467.7,338.6 L467.5,336.4 L467.9,334.2 L467.5,332.0 L467.9,329.8 L466.8,327.6 L467.1,325.4 L467.4,323.2 L467.0,321.0 L466.9,318.8 L468.4,316.6 L466.5,314.4 L467.0,312.2 L467.3,310.0 L467.8,307.8 L467.6,305.6 L467.4,303.4 L466.5,301.2 L466.9,299.0 L467.5,296.8 L467.4,294.6 L466.7,292.4 L467.6,290.2 L466.3,288.0 L467.9,285.8 L467.2,283.6 L467.8,281.4 L467.3,279.2 L467.6,277.0 L467.6,274.8 L466.9,272.6 L466.2,270.4 L467.4,268.2 L465.9,266.0 L467.4,263.8 L466.5,261.6 L467.3,259.4 L466.3,257.2 L467.4,255.0 L466.0,252.8 L467.2,250.6 L466.1,248.4 L467.5,246.2 L466.4,244.0 L467.3,241.8 L466.3,239.6 L466.7,237.4 L466.2,235.2 L467.7,233.0 L466.7,230.8 L467.9,228.6 L468.0,226.4 L468.9,224.2 L469.4,222.0Z M487.5,223.5 L487.7,225.0 L488.4,227.2 L489.5,229.4 L489.0,231.6 L490.2,233.8 L490.0,236.0 L490.7,238.2 L490.3,240.4 L489.9,242.6 L489.5,244.8 L490.3,247.0 L490.2,249.2 L490.4,251.4 L489.9,253.6 L490.8,255.8 L490.4,258.0 L491.2,260.2 L490.3,262.4 L490.4,264.6 L489.8,266.8 L491.3,269.0 L490.6,271.2 L490.1,273.4 L490.5,275.6 L491.3,277.8 L490.7,280.0 L491.0,282.2 L490.3,284.4 L490.3,286.6 L490.5,288.8 L491.1,291.0 L489.7,293.2 L490.6,295.4 L489.9,297.6 L490.5,299.8 L489.9,302.0 L490.2,304.2 L490.2,306.4 L490.7,308.6 L489.8,310.8 L491.3,313.0 L490.3,315.2 L491.6,317.4 L490.4,319.6 L490.5,321.8 L489.9,324.0 L490.2,326.2 L489.6,328.4 L491.3,330.6 L490.2,332.8 L491.0,335.0 L490.6,337.2 L490.2,339.4 L490.4,341.6 L490.3,343.8 L490.3,346.0 L491.0,348.2 L490.3,350.4 L491.7,352.6 L489.8,354.8 L490.8,357.0 L490.1,359.2 L489.3,361.4 L488.7,363.6 L487.9,367.6 L487.1,363.6 L486.4,361.4 L486.0,359.2 L485.2,357.0 L485.5,354.8 L485.7,352.6 L485.6,350.4 L484.3,348.2 L484.9,346.0 L484.2,343.8 L485.2,341.6 L484.5,339.4 L485.1,337.2 L484.7,335.0 L485.6,332.8 L485.2,330.6 L485.6,328.4 L484.8,326.2 L485.2,324.0 L484.6,321.8 L485.4,319.6 L484.3,317.4 L485.8,315.2 L485.0,313.0 L485.4,310.8 L484.6,308.6 L485.8,306.4 L485.0,304.2 L485.6,302.0 L484.7,299.8 L486.0,297.6 L485.1,295.4 L485.9,293.2 L484.2,291.0 L484.8,288.8 L484.2,286.6 L485.2,284.4 L485.5,282.2 L484.6,280.0 L484.2,277.8 L485.7,275.6 L484.3,273.4 L485.0,271.2 L484.3,269.0 L485.5,266.8 L483.9,264.6 L485.0,262.4 L484.1,260.2 L485.5,258.0 L485.4,255.8 L485.5,253.6 L484.3,251.4 L484.5,249.2 L485.4,247.0 L485.7,244.8 L484.2,242.6 L484.5,240.4 L484.3,238.2 L485.2,236.0 L484.9,233.8 L485.8,231.6 L486.3,229.4 L486.7,227.2 L487.4,225.0Z M505.0,229.5 L505.2,231.0 L505.5,233.2 L506.4,235.4 L506.1,237.6 L506.9,239.8 L507.4,242.0 L507.9,244.2 L506.6,246.4 L508.5,248.6 L507.0,250.8 L507.3,253.0 L507.2,255.2 L507.6,257.4 L507.1,259.6 L507.6,261.8 L507.8,264.0 L507.6,266.2 L506.7,268.4 L507.0,270.6 L506.7,272.8 L507.9,275.0 L507.6,277.2 L507.3,279.4 L507.5,281.6 L508.2,283.8 L507.0,286.0 L508.1,288.2 L507.8,290.4 L507.3,292.6 L507.2,294.8 L507.5,297.0 L507.6,299.2 L507.6,301.4 L507.4,303.6 L507.5,305.8 L506.8,308.0 L507.6,310.2 L506.6,312.4 L507.3,314.6 L506.8,316.8 L507.2,319.0 L507.5,321.2 L508.4,323.4 L507.1,325.6 L507.1,327.8 L506.4,330.0 L507.4,332.2 L506.5,334.4 L507.3,336.6 L506.8,338.8 L506.9,341.0 L506.2,343.2 L507.1,345.4 L507.4,347.6 L507.0,349.8 L506.9,352.0 L506.1,354.2 L505.5,356.4 L504.5,358.6 L504.3,361.7 L504.2,358.6 L503.7,356.4 L502.2,354.2 L501.9,352.0 L500.9,349.8 L502.2,347.6 L501.8,345.4 L502.2,343.2 L502.2,341.0 L502.2,338.8 L500.6,336.6 L501.6,334.4 L501.0,332.2 L501.6,330.0 L501.2,327.8 L502.6,325.6 L501.7,323.4 L502.0,321.2 L502.1,319.0 L502.5,316.8 L500.6,314.6 L502.3,312.4 L501.6,310.2 L501.9,308.0 L502.0,305.8 L502.0,303.6 L501.2,301.4 L502.0,299.2 L501.5,297.0 L501.8,294.8 L501.1,292.6 L502.5,290.4 L502.3,288.2 L503.1,286.0 L501.8,283.8 L502.3,281.6 L502.1,279.4 L503.0,277.2 L501.4,275.0 L501.8,272.8 L502.3,270.6 L502.0,268.4 L501.6,266.2 L502.8,264.0 L502.4,261.8 L501.7,259.6 L501.7,257.4 L502.5,255.2 L502.5,253.0 L502.2,250.8 L502.4,248.6 L502.4,246.4 L501.7,244.2 L502.4,242.0 L502.2,239.8 L503.3,237.6 L503.2,235.4 L504.5,233.2 L504.9,231.0Z" fill="currentColor" fill-opacity="1"/><use href="#bf"/></g>
<linearGradient id="bg" x1="0" x2="1" y1="0" y2="0"><stop offset="0" stop-color="#f5f6f8"/><stop offset="1" stop-color="#ffffff"/></linearGradient>
<clipPath id="cTank"><path d="M267.5,119.6 L597.3,221.8 L599.0,222.3 L600.7,223.0 L602.4,223.6 L604.1,224.3 L605.7,225.1 L607.3,226.0 L608.9,226.8 L610.4,227.8 L612.0,228.8 L613.5,229.8 L614.9,230.9 L616.3,232.0 L617.7,233.2 L619.1,234.4 L620.4,235.6 L621.7,236.9 L623.0,238.2 L624.2,239.6 L625.3,241.0 L626.5,242.4 L627.6,243.9 L628.6,245.4 L629.7,246.9 L630.7,248.4 L631.6,250.0 L632.5,251.6 L633.4,253.2 L634.2,254.8 L635.0,256.4 L635.8,258.0 L636.5,259.7 L637.2,261.3 L637.9,263.0 L638.5,264.7 L639.1,266.3 L639.7,268.0 L640.3,269.7 L640.8,271.3 L641.3,273.0 L641.7,274.7 L642.2,276.3 L642.6,278.0 L643.0,279.6 L643.4,281.3 L643.7,282.9 L644.1,284.5 L644.4,286.1 L644.7,287.7 L644.9,289.3 L645.2,290.9 L645.5,292.5 L645.7,294.0 L645.9,295.6 L646.1,297.1 L646.3,298.6 L646.5,300.1 L646.7,301.6 L646.9,303.1 L647.0,304.6 L647.1,306.1 L647.3,307.6 L647.4,309.0 L647.5,310.4 L647.6,311.9 L647.7,313.3 L647.8,314.7 L647.9,316.1 L647.9,317.5 L648.0,318.9 L648.0,320.3 L648.1,321.6 L648.1,323.0 L648.1,324.4 L648.1,325.7 L648.1,327.1 L648.1,328.4 L648.1,329.7 L648.0,331.0 L648.0,332.4 L647.9,333.7 L647.8,335.0 L647.7,336.3 L647.6,337.6 L647.5,338.9 L647.4,340.1 L647.2,341.4 L647.1,342.7 L646.9,343.9 L646.7,345.2 L646.5,346.4 L646.3,347.7 L646.1,348.9 L645.8,350.1 L645.6,351.4 L645.3,352.6 L645.0,353.8 L644.7,355.0 L644.4,356.2 L644.1,357.4 L643.8,358.5 L643.5,359.7 L643.1,360.9 L642.8,362.0 L642.4,363.2 L642.0,364.3 L641.7,365.4 L641.3,366.6 L640.9,367.7 L640.5,368.8 L640.1,369.9 L639.7,371.0 L639.3,372.1 L638.9,373.2 L638.5,374.3 L638.0,375.4 L637.6,376.5 L637.2,377.5 L636.8,378.6 L636.3,379.7 L635.9,380.8 L635.5,381.8 L635.1,382.9 L634.6,383.9 L634.2,385.0 L633.8,386.1 L633.4,387.1 L632.9,388.2 L632.5,389.3 L632.1,390.3 L631.6,391.4 L631.2,392.5 L630.8,393.5 L630.3,394.6 L629.9,395.7 L629.5,396.8 L629.0,397.9 L628.6,399.0 L628.2,400.1 L627.7,401.1 L627.3,402.3 L626.8,403.4 L626.3,404.5 L625.9,405.6 L625.4,406.7 L624.9,407.8 L624.4,408.9 L623.9,410.1 L623.4,411.2 L622.9,412.3 L622.4,413.5 L621.8,414.6 L621.3,415.8 L620.7,416.9 L620.1,418.1 L619.5,419.2 L618.9,420.4 L618.3,421.5 L617.7,422.7 L617.0,423.8 L616.4,425.0 L615.7,426.1 L615.0,427.3 L614.3,428.4 L613.6,429.6 L612.8,430.7 L612.1,431.8 L611.3,433.0 L610.5,434.1 L609.7,435.2 L608.9,436.4 L608.1,437.5 L607.2,438.6 L606.3,439.7 L605.4,440.9 L604.5,442.0 L603.6,443.1 L602.6,444.2 L601.7,445.3 L600.7,446.4 L599.7,447.4 L598.7,448.5 L597.6,449.6 L596.6,450.6 L595.5,451.7 L594.4,452.8 L593.3,453.8 L592.2,454.8 L591.0,455.9 L589.8,456.9 L588.7,457.9 L587.5,458.9 L586.2,459.9 L585.0,460.9 L583.7,461.9 L582.5,462.9 L581.2,463.9 L579.8,464.8 L578.5,465.7 L577.2,466.7 L575.8,467.6 L574.4,468.5 L573.0,469.4 L571.5,470.3 L570.1,471.1 L568.6,472.0 L567.1,472.8 L565.6,473.6 L564.1,474.4 L562.5,475.2 L561.0,475.9 L559.4,476.6 L557.8,477.3 L556.2,478.0 L554.6,478.6 L552.9,479.2 L551.2,479.8 L549.6,480.4 L547.9,480.9 L546.1,481.4 L544.4,481.8 L542.7,482.3 L540.9,482.6 L539.2,483.0 L537.4,483.3 L535.7,483.5 L533.9,483.7 L532.1,483.9 L530.3,484.0 L528.5,484.1 L526.7,484.1 L524.9,484.1 L523.1,484.1 L521.4,484.0 L519.6,483.8 L517.8,483.6 L516.0,483.3 L514.3,483.0 L512.5,482.6 L510.8,482.2 L509.0,481.7 L507.3,481.2 L505.6,480.7 L504.5,480.2 L182.8,358.9 L181.2,358.2 L179.7,357.6 L178.2,356.9 L176.7,356.1 L175.2,355.3 L173.8,354.4 L172.4,353.5 L171.0,352.6 L169.6,351.6 L168.3,350.6 L167.0,349.5 L165.8,348.4 L164.5,347.3 L163.3,346.1 L162.2,344.9 L161.0,343.6 L159.9,342.3 L158.9,341.0 L157.8,339.7 L156.8,338.3 L155.9,337.0 L155.0,335.5 L154.1,334.1 L153.2,332.7 L152.4,331.2 L151.6,329.7 L150.8,328.3 L150.1,326.8 L149.4,325.2 L148.8,323.7 L148.1,322.2 L147.5,320.7 L147.0,319.1 L146.4,317.6 L145.9,316.0 L145.4,314.5 L145.0,312.9 L144.5,311.4 L144.1,309.9 L143.7,308.3 L143.4,306.8 L143.0,305.3 L142.7,303.7 L142.4,302.2 L142.2,300.7 L141.9,299.2 L141.7,297.7 L141.4,296.2 L141.2,294.8 L141.1,293.3 L140.9,291.8 L140.7,290.4 L140.6,289.0 L140.5,287.5 L140.3,286.1 L140.2,284.7 L140.2,283.3 L140.1,281.9 L140.0,280.5 L140.0,279.2 L139.9,277.8 L139.9,276.5 L139.9,275.1 L139.8,273.8 L139.8,272.5 L139.8,271.2 L139.9,269.9 L139.9,268.6 L139.9,267.3 L140.0,266.0 L140.0,264.8 L140.1,263.5 L140.2,262.3 L140.3,261.0 L140.3,259.8 L140.4,258.6 L140.6,257.4 L140.7,256.2 L140.8,255.0 L140.9,253.8 L141.1,252.6 L141.2,251.4 L141.4,250.2 L141.6,249.1 L141.7,247.9 L141.9,246.8 L142.1,245.6 L142.3,244.5 L142.6,243.4 L142.8,242.2 L143.0,241.1 L143.2,240.0 L143.5,238.9 L143.7,237.8 L144.0,236.7 L144.2,235.6 L144.5,234.6 L144.8,233.5 L145.1,232.4 L145.3,231.4 L145.6,230.3 L145.9,229.3 L146.2,228.2 L146.5,227.2 L146.8,226.1 L147.2,225.1 L147.5,224.1 L147.8,223.1 L148.1,222.0 L148.4,221.0 L148.8,220.0 L149.1,219.0 L149.4,218.0 L149.8,217.0 L150.1,216.0 L150.5,215.0 L150.8,214.0 L151.2,213.0 L151.5,212.0 L151.9,211.0 L152.2,210.0 L152.6,209.0 L152.9,208.0 L153.3,207.0 L153.6,206.0 L154.0,205.0 L154.4,204.0 L154.8,203.0 L155.1,202.0 L155.5,201.0 L155.9,200.0 L156.3,199.0 L156.7,198.0 L157.1,197.0 L157.5,196.0 L157.9,194.9 L158.3,193.9 L158.8,192.9 L159.2,191.9 L159.6,190.9 L160.1,189.8 L160.5,188.8 L161.0,187.8 L161.5,186.8 L161.9,185.7 L162.4,184.7 L162.9,183.7 L163.4,182.6 L164.0,181.6 L164.5,180.5 L165.0,179.5 L165.6,178.4 L166.2,177.4 L166.7,176.4 L167.3,175.3 L167.9,174.3 L168.5,173.2 L169.2,172.2 L169.8,171.1 L170.4,170.1 L171.1,169.0 L171.8,168.0 L172.5,166.9 L173.2,165.9 L173.9,164.8 L174.6,163.8 L175.4,162.7 L176.2,161.7 L176.9,160.7 L177.7,159.6 L178.5,158.6 L179.4,157.5 L180.2,156.5 L181.0,155.5 L181.9,154.4 L182.8,153.4 L183.7,152.4 L184.6,151.3 L185.5,150.3 L186.5,149.3 L187.5,148.3 L188.4,147.3 L189.4,146.3 L190.5,145.3 L191.5,144.3 L192.6,143.3 L193.6,142.3 L194.7,141.3 L195.8,140.3 L196.9,139.3 L198.1,138.4 L199.3,137.4 L200.4,136.5 L201.6,135.6 L202.9,134.6 L204.1,133.7 L205.4,132.8 L206.6,131.9 L207.9,131.1 L209.2,130.2 L210.6,129.4 L211.9,128.6 L213.3,127.8 L214.7,127.0 L216.1,126.2 L217.5,125.5 L219.0,124.8 L220.5,124.1 L221.9,123.4 L223.4,122.8 L224.9,122.2 L226.5,121.6 L228.0,121.0 L229.6,120.5 L231.1,120.0 L232.7,119.6 L234.3,119.1 L235.9,118.8 L237.5,118.4 L239.2,118.1 L240.8,117.8 L242.4,117.6 L244.1,117.4 L245.7,117.3 L247.4,117.2 L249.0,117.1 L250.7,117.1 L252.3,117.1 L254.0,117.2 L255.7,117.3 L257.3,117.5 L258.9,117.7 L260.6,118.0 L262.2,118.3 L263.8,118.6 L265.4,119.0 L267.0,119.5 L267.5,119.6Z"/></clipPath>
<clipPath id="cE2"><path d="M460.8,352.6 L461.2,351.0 L461.6,349.4 L462.0,347.8 L462.4,346.2 L462.9,344.7 L463.3,343.2 L463.8,341.6 L464.3,340.1 L464.7,338.6 L465.2,337.1 L465.7,335.6 L466.2,334.1 L466.8,332.7 L467.3,331.2 L467.8,329.8 L468.3,328.3 L468.9,326.9 L469.4,325.4 L469.9,324.0 L470.5,322.6 L471.0,321.1 L471.6,319.7 L472.1,318.3 L472.7,316.9 L473.2,315.4 L473.8,314.0 L474.4,312.6 L475.0,311.1 L475.5,309.7 L476.1,308.3 L476.7,306.8 L477.4,305.4 L478.0,303.9 L478.6,302.5 L479.3,301.0 L479.9,299.5 L480.6,298.1 L481.3,296.6 L482.0,295.2 L482.7,293.7 L483.5,292.2 L484.2,290.7 L485.0,289.3 L485.8,287.8 L486.7,286.3 L487.5,284.9 L488.4,283.4 L489.3,281.9 L490.2,280.4 L491.1,279.0 L492.1,277.5 L493.1,276.0 L494.1,274.6 L495.2,273.1 L496.3,271.7 L497.4,270.2 L498.5,268.8 L499.6,267.3 L500.8,265.9 L502.0,264.4 L503.3,263.0 L504.5,261.6 L505.8,260.1 L507.1,258.7 L508.5,257.3 L509.8,255.8 L511.2,254.4 L512.7,253.0 L514.1,251.6 L515.6,250.2 L517.2,248.8 L518.7,247.3 L520.3,246.0 L521.9,244.6 L523.6,243.2 L525.3,241.8 L527.0,240.5 L528.8,239.1 L530.6,237.8 L532.4,236.5 L534.3,235.2 L536.2,233.9 L538.2,232.7 L540.2,231.5 L542.2,230.3 L544.3,229.2 L546.4,228.1 L548.5,227.1 L550.7,226.1 L552.9,225.1 L555.1,224.2 L557.4,223.4 L559.7,222.6 L562.0,222.0 L564.4,221.3 L566.7,220.8 L569.1,220.3 L571.5,220.0 L574.0,219.7 L576.4,219.5 L578.8,219.3 L581.2,219.3 L583.6,219.4 L586.1,219.6 L588.5,219.9 L590.8,220.2 L593.2,220.7 L595.6,221.3 L597.9,222.0 L600.2,222.7 L602.4,223.6 L604.6,224.6 L606.8,225.7 L608.9,226.8 L610.9,228.1 L613.0,229.4 L614.9,230.9 L616.8,232.4 L618.6,234.0 L620.4,235.6 L622.1,237.4 L623.8,239.2 L625.3,241.0 L626.9,242.9 L628.3,244.9 L629.7,246.9 L631.0,249.0 L632.2,251.0 L633.4,253.2 L634.5,255.3 L635.6,257.5 L636.5,259.7 L637.5,261.9 L638.3,264.1 L639.1,266.3 L639.9,268.6 L640.6,270.8 L641.3,273.0 L641.9,275.2 L642.5,277.4 L643.0,279.6 L643.5,281.8 L643.9,284.0 L644.4,286.1 L644.8,288.2 L645.1,290.4 L645.5,292.5 L645.8,294.5 L646.1,296.6 L646.3,298.6 L646.6,300.6 L646.8,302.6 L647.0,304.6 L647.2,306.6 L647.4,308.5 L647.5,310.4 L647.7,312.4 L647.8,314.2 L647.9,316.1 L648.0,318.0 L648.0,319.8 L648.1,321.6 L648.1,323.5 L648.1,325.3 L648.1,327.1 L648.1,328.8 L648.0,330.6 L648.0,332.4 L647.9,334.1 L647.8,335.8 L647.6,337.6 L647.5,339.3 L647.3,341.0 L647.1,342.7 L646.8,344.4 L646.6,346.0 L646.3,347.7 L646.0,349.3 L645.6,351.0 L645.3,352.6 L644.9,354.2 L644.5,355.8 L644.1,357.4 L643.7,358.9 L643.2,360.5 L642.8,362.0 L642.3,363.5 L641.8,365.1 L641.3,366.6 L640.8,368.1 L640.2,369.5 L639.7,371.0 L639.1,372.5 L638.6,373.9 L638.0,375.4 L637.5,376.8 L636.9,378.3 L636.3,379.7 L635.8,381.1 L635.2,382.5 L634.6,383.9 L634.1,385.4 L633.5,386.8 L632.9,388.2 L632.4,389.6 L631.8,391.0 L631.2,392.5 L630.6,393.9 L630.1,395.3 L629.5,396.8 L628.9,398.2 L628.3,399.7 L627.7,401.1 L627.1,402.6 L626.5,404.1 L625.9,405.6 L625.2,407.1 L624.6,408.6 L623.9,410.1 L623.2,411.6 L622.5,413.1 L621.8,414.6 L621.1,416.1 L620.3,417.7 L619.5,419.2 L618.7,420.7 L617.9,422.3 L617.0,423.8 L616.2,425.3 L615.2,426.9 L614.3,428.4 L613.3,429.9 L612.3,431.5 L611.3,433.0 L610.3,434.5 L609.2,436.0 L608.1,437.5 L606.9,439.0 L605.7,440.5 L604.5,442.0 L603.3,443.4 L602.0,444.9 L600.7,446.4 L599.3,447.8 L598.0,449.2 L596.6,450.6 L595.1,452.1 L593.7,453.5 L592.2,454.8 L590.6,456.2 L589.1,457.6 L587.5,458.9 L585.8,460.3 L584.2,461.6 L582.5,462.9 L580.7,464.2 L579.0,465.4 L577.2,466.7 L575.3,467.9 L573.4,469.1 L571.5,470.3 L569.6,471.4 L567.6,472.5 L565.6,473.6 L563.6,474.6 L561.5,475.7 L559.4,476.6 L557.3,477.5 L555.1,478.4 L552.9,479.2 L550.7,480.0 L548.4,480.7 L546.1,481.4 L543.9,482.0 L541.5,482.5 L539.2,483.0 L536.8,483.4 L534.5,483.7 L532.1,483.9 L529.7,484.1 L527.3,484.1 L524.9,484.1 L522.5,484.0 L520.2,483.9 L517.8,483.6 L515.4,483.2 L513.1,482.8 L510.8,482.2 L508.5,481.6 L506.2,480.9 L504.0,480.0 L501.8,479.1 L499.6,478.1 L497.5,477.0 L495.4,475.9 L493.4,474.6 L491.4,473.3 L489.5,471.9 L487.6,470.4 L485.8,468.8 L484.0,467.2 L482.3,465.5 L480.7,463.8 L479.1,462.0 L477.6,460.1 L476.2,458.2 L474.8,456.2 L473.5,454.2 L472.2,452.2 L471.0,450.1 L469.9,448.1 L468.8,445.9 L467.8,443.8 L466.9,441.6 L466.0,439.5 L465.2,437.3 L464.4,435.1 L463.7,432.9 L463.0,430.7 L462.4,428.5 L461.8,426.4 L461.2,424.2 L460.7,422.0 L460.3,419.9 L459.9,417.7 L459.5,415.6 L459.1,413.5 L458.8,411.4 L458.5,409.3 L458.3,407.2 L458.0,405.2 L457.8,403.1 L457.7,401.1 L457.5,399.1 L457.4,397.1 L457.3,395.2 L457.2,393.2 L457.1,391.3 L457.1,389.4 L457.0,387.5 L457.0,385.6 L457.1,383.7 L457.1,381.9 L457.2,380.0 L457.2,378.2 L457.3,376.4 L457.5,374.6 L457.6,372.8 L457.8,371.1 L457.9,369.3 L458.1,367.6 L458.4,365.9 L458.6,364.1 L458.8,362.5 L459.1,360.8 L459.4,359.1 L459.7,357.5 L460.1,355.8 L460.4,354.2Z"/></clipPath>
<clipPath id="cSurf"><path d="M146.9,224.9 L307.4,159.5 L636.3,260.4 L469.3,322.9Z"/></clipPath>
<clipPath id="cBody"><path d="M86.9,206.9 L146.9,224.9 L469.3,322.9 L636.3,260.4 L696.3,238.4 L720,520 L100,520Z"/></clipPath>
<clipPath id="cDA"><path d="M440.3,314.5 L438.7,318.8 L437.0,323.1 L435.2,327.3 L433.3,331.5 L431.3,335.6 L429.2,339.7 L427.0,343.7 L424.8,347.6 L422.5,351.4 L420.1,355.2 L417.6,358.9 L415.1,362.5 L412.5,366.0 L409.8,369.4 L407.1,372.7 L404.3,375.9 L401.5,378.9 L398.6,381.9 L395.6,384.7 L392.7,387.5 L389.6,390.1 L386.6,392.5 L383.5,394.9 L380.4,397.1 L377.2,399.1 L374.1,401.1 L370.9,402.8 L367.7,404.5 L364.5,406.0 L361.3,407.3 L358.1,408.5 L355.0,409.6 L351.8,410.5 L348.6,411.2 L345.4,411.8 L342.3,412.2 L339.2,412.5 L336.1,412.6 L333.0,412.5 L330.0,412.4 L327.0,412.0 L324.0,411.5 L321.1,410.8 L318.3,410.0 L315.5,409.0 L312.7,407.9 L310.1,406.6 L307.4,405.2 L304.9,403.7 L302.4,401.9 L300.0,400.1 L297.6,398.1 L295.4,395.9 L293.2,393.7 L291.1,391.3 L289.1,388.7 L287.2,386.1 L285.3,383.3 L283.6,380.4 L281.9,377.3 L280.4,374.2 L278.9,371.0 L277.6,367.6 L276.4,364.2 L275.2,360.6 L274.2,357.0 L273.2,353.3 L272.4,349.4 L271.7,345.6 L271.1,341.6 L270.6,337.6 L270.2,333.5 L270.0,329.3 L269.8,325.1 L269.8,320.8 L269.9,316.5 L270.0,312.2 L270.3,307.8 L270.7,303.4 L271.2,299.0 L271.9,294.6 L272.6,290.1 L273.5,285.7 L274.4,281.2 L275.5,276.8 L276.6,272.3 L277.9,267.9 L279.3,263.5 L280.7,259.2 L282.3,254.8 L284.0,250.5 L285.7,246.3 L287.6,242.1 L289.5,237.9 L291.6,233.8 L293.7,229.8 L295.9,225.8 L298.2,221.9 L300.5,218.1 L303.0,214.4 L305.5,210.8 L308.0,207.2 L310.7,203.8 L313.4,200.4 L316.1,197.2 L318.9,194.0 L321.8,191.0 L324.7,188.1 L327.7,185.3 L330.7,182.7 L333.7,180.1 L336.8,177.7 L339.9,175.5 L343.0,173.3 L346.2,171.3 L349.3,169.5 L352.5,167.8 L355.7,166.2 L358.9,164.8 L362.1,163.5 L365.3,162.4 L368.5,161.4 L371.7,160.6 L374.8,160.0 L378.0,159.4 L381.1,159.1 L384.2,158.9 L387.3,158.9 L390.3,159.0 L393.3,159.3 L396.3,159.7 L399.2,160.3 L402.1,161.0 L404.9,161.9 L407.7,163.0 L410.4,164.2 L413.1,165.5 L415.7,167.0 L418.2,168.6 L420.7,170.4 L423.0,172.4 L425.3,174.4 L427.6,176.6 L429.7,179.0 L431.8,181.4 L433.7,184.0 L435.6,186.8 L437.4,189.6 L439.1,192.6 L440.7,195.7 L442.2,198.9 L443.6,202.2 L444.9,205.6 L446.1,209.1 L447.1,212.6 L448.1,216.3 L449.0,220.1 L449.8,224.0 L450.4,227.9 L451.0,231.9 L451.4,235.9 L451.7,240.1 L451.9,244.2 L452.0,248.5 L452.0,252.8 L451.9,257.1 L451.7,261.4 L451.3,265.8 L450.9,270.2 L450.3,274.7 L449.6,279.1 L448.8,283.6 L447.9,288.0 L446.9,292.5 L445.8,296.9 L444.6,301.3 L443.3,305.7 L441.8,310.1 L440.3,314.5Z"/></clipPath>
<clipPath id="cDB"><path d="M523.2,341.4 L521.6,345.9 L520.0,350.2 L518.2,354.5 L516.4,358.8 L514.5,363.0 L512.5,367.2 L510.4,371.3 L508.2,375.3 L505.9,379.2 L503.5,383.1 L501.1,386.9 L498.6,390.6 L496.0,394.2 L493.4,397.6 L490.7,401.0 L487.9,404.3 L485.1,407.5 L482.2,410.5 L479.2,413.5 L476.3,416.3 L473.2,419.0 L470.2,421.5 L467.1,424.0 L463.9,426.2 L460.8,428.4 L457.6,430.4 L454.4,432.3 L451.1,434.0 L447.9,435.5 L444.6,437.0 L441.4,438.2 L438.1,439.3 L434.9,440.3 L431.6,441.1 L428.4,441.8 L425.2,442.2 L422.0,442.6 L418.8,442.7 L415.7,442.8 L412.6,442.6 L409.5,442.3 L406.4,441.8 L403.4,441.2 L400.5,440.4 L397.6,439.5 L394.7,438.4 L391.9,437.2 L389.2,435.8 L386.5,434.2 L383.9,432.5 L381.4,430.7 L378.9,428.7 L376.5,426.6 L374.2,424.3 L372.0,421.9 L369.8,419.4 L367.8,416.7 L365.8,413.9 L363.9,411.0 L362.2,408.0 L360.5,404.8 L358.9,401.5 L357.4,398.2 L356.0,394.7 L354.8,391.1 L353.6,387.5 L352.5,383.7 L351.6,379.8 L350.7,375.9 L350.0,371.9 L349.4,367.8 L348.9,363.7 L348.5,359.5 L348.2,355.2 L348.0,350.9 L348.0,346.5 L348.0,342.1 L348.2,337.7 L348.5,333.2 L348.9,328.7 L349.4,324.2 L350.0,319.7 L350.8,315.2 L351.6,310.7 L352.6,306.1 L353.7,301.6 L354.8,297.1 L356.1,292.6 L357.5,288.2 L359.0,283.7 L360.6,279.4 L362.3,275.0 L364.1,270.7 L365.9,266.5 L367.9,262.3 L370.0,258.2 L372.1,254.1 L374.4,250.1 L376.7,246.2 L379.1,242.4 L381.5,238.7 L384.1,235.0 L386.7,231.5 L389.4,228.0 L392.1,224.7 L394.9,221.5 L397.8,218.4 L400.7,215.4 L403.6,212.5 L406.6,209.8 L409.7,207.1 L412.8,204.6 L415.9,202.3 L419.1,200.1 L422.2,198.0 L425.4,196.1 L428.6,194.3 L431.9,192.6 L435.1,191.1 L438.4,189.8 L441.6,188.6 L444.9,187.6 L448.1,186.7 L451.4,185.9 L454.6,185.4 L457.8,185.0 L461.0,184.7 L464.2,184.6 L467.3,184.7 L470.4,184.9 L473.5,185.3 L476.5,185.9 L479.5,186.6 L482.4,187.4 L485.3,188.4 L488.1,189.6 L490.9,190.9 L493.6,192.4 L496.2,194.0 L498.8,195.8 L501.3,197.7 L503.7,199.7 L506.1,201.9 L508.3,204.3 L510.5,206.7 L512.6,209.3 L514.6,212.1 L516.5,214.9 L518.4,217.9 L520.1,221.0 L521.7,224.2 L523.3,227.5 L524.7,230.9 L526.0,234.5 L527.2,238.1 L528.4,241.8 L529.4,245.6 L530.3,249.5 L531.1,253.5 L531.7,257.5 L532.3,261.6 L532.7,265.8 L533.1,270.1 L533.3,274.3 L533.4,278.7 L533.4,283.1 L533.3,287.5 L533.1,291.9 L532.7,296.4 L532.3,300.9 L531.7,305.4 L531.0,310.0 L530.2,314.5 L529.3,319.0 L528.3,323.5 L527.2,328.0 L525.9,332.5 L524.6,337.0 L523.2,341.4Z"/></clipPath>
<clipPath id="cNotDB"><path clip-rule="evenodd" d="M0,0 H800 V513 H0Z M523.2,341.4 L521.6,345.9 L520.0,350.2 L518.2,354.5 L516.4,358.8 L514.5,363.0 L512.5,367.2 L510.4,371.3 L508.2,375.3 L505.9,379.2 L503.5,383.1 L501.1,386.9 L498.6,390.6 L496.0,394.2 L493.4,397.6 L490.7,401.0 L487.9,404.3 L485.1,407.5 L482.2,410.5 L479.2,413.5 L476.3,416.3 L473.2,419.0 L470.2,421.5 L467.1,424.0 L463.9,426.2 L460.8,428.4 L457.6,430.4 L454.4,432.3 L451.1,434.0 L447.9,435.5 L444.6,437.0 L441.4,438.2 L438.1,439.3 L434.9,440.3 L431.6,441.1 L428.4,441.8 L425.2,442.2 L422.0,442.6 L418.8,442.7 L415.7,442.8 L412.6,442.6 L409.5,442.3 L406.4,441.8 L403.4,441.2 L400.5,440.4 L397.6,439.5 L394.7,438.4 L391.9,437.2 L389.2,435.8 L386.5,434.2 L383.9,432.5 L381.4,430.7 L378.9,428.7 L376.5,426.6 L374.2,424.3 L372.0,421.9 L369.8,419.4 L367.8,416.7 L365.8,413.9 L363.9,411.0 L362.2,408.0 L360.5,404.8 L358.9,401.5 L357.4,398.2 L356.0,394.7 L354.8,391.1 L353.6,387.5 L352.5,383.7 L351.6,379.8 L350.7,375.9 L350.0,371.9 L349.4,367.8 L348.9,363.7 L348.5,359.5 L348.2,355.2 L348.0,350.9 L348.0,346.5 L348.0,342.1 L348.2,337.7 L348.5,333.2 L348.9,328.7 L349.4,324.2 L350.0,319.7 L350.8,315.2 L351.6,310.7 L352.6,306.1 L353.7,301.6 L354.8,297.1 L356.1,292.6 L357.5,288.2 L359.0,283.7 L360.6,279.4 L362.3,275.0 L364.1,270.7 L365.9,266.5 L367.9,262.3 L370.0,258.2 L372.1,254.1 L374.4,250.1 L376.7,246.2 L379.1,242.4 L381.5,238.7 L384.1,235.0 L386.7,231.5 L389.4,228.0 L392.1,224.7 L394.9,221.5 L397.8,218.4 L400.7,215.4 L403.6,212.5 L406.6,209.8 L409.7,207.1 L412.8,204.6 L415.9,202.3 L419.1,200.1 L422.2,198.0 L425.4,196.1 L428.6,194.3 L431.9,192.6 L435.1,191.1 L438.4,189.8 L441.6,188.6 L444.9,187.6 L448.1,186.7 L451.4,185.9 L454.6,185.4 L457.8,185.0 L461.0,184.7 L464.2,184.6 L467.3,184.7 L470.4,184.9 L473.5,185.3 L476.5,185.9 L479.5,186.6 L482.4,187.4 L485.3,188.4 L488.1,189.6 L490.9,190.9 L493.6,192.4 L496.2,194.0 L498.8,195.8 L501.3,197.7 L503.7,199.7 L506.1,201.9 L508.3,204.3 L510.5,206.7 L512.6,209.3 L514.6,212.1 L516.5,214.9 L518.4,217.9 L520.1,221.0 L521.7,224.2 L523.3,227.5 L524.7,230.9 L526.0,234.5 L527.2,238.1 L528.4,241.8 L529.4,245.6 L530.3,249.5 L531.1,253.5 L531.7,257.5 L532.3,261.6 L532.7,265.8 L533.1,270.1 L533.3,274.3 L533.4,278.7 L533.4,283.1 L533.3,287.5 L533.1,291.9 L532.7,296.4 L532.3,300.9 L531.7,305.4 L531.0,310.0 L530.2,314.5 L529.3,319.0 L528.3,323.5 L527.2,328.0 L525.9,332.5 L524.6,337.0 L523.2,341.4Z"/></clipPath>
<clipPath id="cDBup"><path d="M207.2,349.9 L607.2,185.9 L607.2,0 L207.2,0Z"/></clipPath>
<clipPath id="cWater"><path d="M146.9,224.9 L307.4,159.5 L636.3,260.4 L469.3,322.9Z M86.9,206.9 L146.9,224.9 L469.3,322.9 L636.3,260.4 L696.3,238.4 L720,520 L100,520Z"/></clipPath>
<clipPath id="cDAlow"><path d="M199.1,296.0 L523.8,168.8 L642.2,600 L79.1,600Z"/></clipPath>
</defs>
<rect width="800" height="513" fill="#fff"/>
<rect width="44" height="513" fill="url(#bg)"/>
<path d="M267.5,119.6 L597.3,221.8 L599.0,222.3 L600.7,223.0 L602.4,223.6 L604.1,224.3 L605.7,225.1 L607.3,226.0 L608.9,226.8 L610.4,227.8 L612.0,228.8 L613.5,229.8 L614.9,230.9 L616.3,232.0 L617.7,233.2 L619.1,234.4 L620.4,235.6 L621.7,236.9 L623.0,238.2 L624.2,239.6 L625.3,241.0 L626.5,242.4 L627.6,243.9 L628.6,245.4 L629.7,246.9 L630.7,248.4 L631.6,250.0 L632.5,251.6 L633.4,253.2 L634.2,254.8 L635.0,256.4 L635.8,258.0 L636.5,259.7 L637.2,261.3 L637.9,263.0 L638.5,264.7 L639.1,266.3 L639.7,268.0 L640.3,269.7 L640.8,271.3 L641.3,273.0 L641.7,274.7 L642.2,276.3 L642.6,278.0 L643.0,279.6 L643.4,281.3 L643.7,282.9 L644.1,284.5 L644.4,286.1 L644.7,287.7 L644.9,289.3 L645.2,290.9 L645.5,292.5 L645.7,294.0 L645.9,295.6 L646.1,297.1 L646.3,298.6 L646.5,300.1 L646.7,301.6 L646.9,303.1 L647.0,304.6 L647.1,306.1 L647.3,307.6 L647.4,309.0 L647.5,310.4 L647.6,311.9 L647.7,313.3 L647.8,314.7 L647.9,316.1 L647.9,317.5 L648.0,318.9 L648.0,320.3 L648.1,321.6 L648.1,323.0 L648.1,324.4 L648.1,325.7 L648.1,327.1 L648.1,328.4 L648.1,329.7 L648.0,331.0 L648.0,332.4 L647.9,333.7 L647.8,335.0 L647.7,336.3 L647.6,337.6 L647.5,338.9 L647.4,340.1 L647.2,341.4 L647.1,342.7 L646.9,343.9 L646.7,345.2 L646.5,346.4 L646.3,347.7 L646.1,348.9 L645.8,350.1 L645.6,351.4 L645.3,352.6 L645.0,353.8 L644.7,355.0 L644.4,356.2 L644.1,357.4 L643.8,358.5 L643.5,359.7 L643.1,360.9 L642.8,362.0 L642.4,363.2 L642.0,364.3 L641.7,365.4 L641.3,366.6 L640.9,367.7 L640.5,368.8 L640.1,369.9 L639.7,371.0 L639.3,372.1 L638.9,373.2 L638.5,374.3 L638.0,375.4 L637.6,376.5 L637.2,377.5 L636.8,378.6 L636.3,379.7 L635.9,380.8 L635.5,381.8 L635.1,382.9 L634.6,383.9 L634.2,385.0 L633.8,386.1 L633.4,387.1 L632.9,388.2 L632.5,389.3 L632.1,390.3 L631.6,391.4 L631.2,392.5 L630.8,393.5 L630.3,394.6 L629.9,395.7 L629.5,396.8 L629.0,397.9 L628.6,399.0 L628.2,400.1 L627.7,401.1 L627.3,402.3 L626.8,403.4 L626.3,404.5 L625.9,405.6 L625.4,406.7 L624.9,407.8 L624.4,408.9 L623.9,410.1 L623.4,411.2 L622.9,412.3 L622.4,413.5 L621.8,414.6 L621.3,415.8 L620.7,416.9 L620.1,418.1 L619.5,419.2 L618.9,420.4 L618.3,421.5 L617.7,422.7 L617.0,423.8 L616.4,425.0 L615.7,426.1 L615.0,427.3 L614.3,428.4 L613.6,429.6 L612.8,430.7 L612.1,431.8 L611.3,433.0 L610.5,434.1 L609.7,435.2 L608.9,436.4 L608.1,437.5 L607.2,438.6 L606.3,439.7 L605.4,440.9 L604.5,442.0 L603.6,443.1 L602.6,444.2 L601.7,445.3 L600.7,446.4 L599.7,447.4 L598.7,448.5 L597.6,449.6 L596.6,450.6 L595.5,451.7 L594.4,452.8 L593.3,453.8 L592.2,454.8 L591.0,455.9 L589.8,456.9 L588.7,457.9 L587.5,458.9 L586.2,459.9 L585.0,460.9 L583.7,461.9 L582.5,462.9 L581.2,463.9 L579.8,464.8 L578.5,465.7 L577.2,466.7 L575.8,467.6 L574.4,468.5 L573.0,469.4 L571.5,470.3 L570.1,471.1 L568.6,472.0 L567.1,472.8 L565.6,473.6 L564.1,474.4 L562.5,475.2 L561.0,475.9 L559.4,476.6 L557.8,477.3 L556.2,478.0 L554.6,478.6 L552.9,479.2 L551.2,479.8 L549.6,480.4 L547.9,480.9 L546.1,481.4 L544.4,481.8 L542.7,482.3 L540.9,482.6 L539.2,483.0 L537.4,483.3 L535.7,483.5 L533.9,483.7 L532.1,483.9 L530.3,484.0 L528.5,484.1 L526.7,484.1 L524.9,484.1 L523.1,484.1 L521.4,484.0 L519.6,483.8 L517.8,483.6 L516.0,483.3 L514.3,483.0 L512.5,482.6 L510.8,482.2 L509.0,481.7 L507.3,481.2 L505.6,480.7 L504.5,480.2 L182.8,358.9 L181.2,358.2 L179.7,357.6 L178.2,356.9 L176.7,356.1 L175.2,355.3 L173.8,354.4 L172.4,353.5 L171.0,352.6 L169.6,351.6 L168.3,350.6 L167.0,349.5 L165.8,348.4 L164.5,347.3 L163.3,346.1 L162.2,344.9 L161.0,343.6 L159.9,342.3 L158.9,341.0 L157.8,339.7 L156.8,338.3 L155.9,337.0 L155.0,335.5 L154.1,334.1 L153.2,332.7 L152.4,331.2 L151.6,329.7 L150.8,328.3 L150.1,326.8 L149.4,325.2 L148.8,323.7 L148.1,322.2 L147.5,320.7 L147.0,319.1 L146.4,317.6 L145.9,316.0 L145.4,314.5 L145.0,312.9 L144.5,311.4 L144.1,309.9 L143.7,308.3 L143.4,306.8 L143.0,305.3 L142.7,303.7 L142.4,302.2 L142.2,300.7 L141.9,299.2 L141.7,297.7 L141.4,296.2 L141.2,294.8 L141.1,293.3 L140.9,291.8 L140.7,290.4 L140.6,289.0 L140.5,287.5 L140.3,286.1 L140.2,284.7 L140.2,283.3 L140.1,281.9 L140.0,280.5 L140.0,279.2 L139.9,277.8 L139.9,276.5 L139.9,275.1 L139.8,273.8 L139.8,272.5 L139.8,271.2 L139.9,269.9 L139.9,268.6 L139.9,267.3 L140.0,266.0 L140.0,264.8 L140.1,263.5 L140.2,262.3 L140.3,261.0 L140.3,259.8 L140.4,258.6 L140.6,257.4 L140.7,256.2 L140.8,255.0 L140.9,253.8 L141.1,252.6 L141.2,251.4 L141.4,250.2 L141.6,249.1 L141.7,247.9 L141.9,246.8 L142.1,245.6 L142.3,244.5 L142.6,243.4 L142.8,242.2 L143.0,241.1 L143.2,240.0 L143.5,238.9 L143.7,237.8 L144.0,236.7 L144.2,235.6 L144.5,234.6 L144.8,233.5 L145.1,232.4 L145.3,231.4 L145.6,230.3 L145.9,229.3 L146.2,228.2 L146.5,227.2 L146.8,226.1 L147.2,225.1 L147.5,224.1 L147.8,223.1 L148.1,222.0 L148.4,221.0 L148.8,220.0 L149.1,219.0 L149.4,218.0 L149.8,217.0 L150.1,216.0 L150.5,215.0 L150.8,214.0 L151.2,213.0 L151.5,212.0 L151.9,211.0 L152.2,210.0 L152.6,209.0 L152.9,208.0 L153.3,207.0 L153.6,206.0 L154.0,205.0 L154.4,204.0 L154.8,203.0 L155.1,202.0 L155.5,201.0 L155.9,200.0 L156.3,199.0 L156.7,198.0 L157.1,197.0 L157.5,196.0 L157.9,194.9 L158.3,193.9 L158.8,192.9 L159.2,191.9 L159.6,190.9 L160.1,189.8 L160.5,188.8 L161.0,187.8 L161.5,186.8 L161.9,185.7 L162.4,184.7 L162.9,183.7 L163.4,182.6 L164.0,181.6 L164.5,180.5 L165.0,179.5 L165.6,178.4 L166.2,177.4 L166.7,176.4 L167.3,175.3 L167.9,174.3 L168.5,173.2 L169.2,172.2 L169.8,171.1 L170.4,170.1 L171.1,169.0 L171.8,168.0 L172.5,166.9 L173.2,165.9 L173.9,164.8 L174.6,163.8 L175.4,162.7 L176.2,161.7 L176.9,160.7 L177.7,159.6 L178.5,158.6 L179.4,157.5 L180.2,156.5 L181.0,155.5 L181.9,154.4 L182.8,153.4 L183.7,152.4 L184.6,151.3 L185.5,150.3 L186.5,149.3 L187.5,148.3 L188.4,147.3 L189.4,146.3 L190.5,145.3 L191.5,144.3 L192.6,143.3 L193.6,142.3 L194.7,141.3 L195.8,140.3 L196.9,139.3 L198.1,138.4 L199.3,137.4 L200.4,136.5 L201.6,135.6 L202.9,134.6 L204.1,133.7 L205.4,132.8 L206.6,131.9 L207.9,131.1 L209.2,130.2 L210.6,129.4 L211.9,128.6 L213.3,127.8 L214.7,127.0 L216.1,126.2 L217.5,125.5 L219.0,124.8 L220.5,124.1 L221.9,123.4 L223.4,122.8 L224.9,122.2 L226.5,121.6 L228.0,121.0 L229.6,120.5 L231.1,120.0 L232.7,119.6 L234.3,119.1 L235.9,118.8 L237.5,118.4 L239.2,118.1 L240.8,117.8 L242.4,117.6 L244.1,117.4 L245.7,117.3 L247.4,117.2 L249.0,117.1 L250.7,117.1 L252.3,117.1 L254.0,117.2 L255.7,117.3 L257.3,117.5 L258.9,117.7 L260.6,118.0 L262.2,118.3 L263.8,118.6 L265.4,119.0 L267.0,119.5 L267.5,119.6Z" fill="#fff"/>
<g clip-path="url(#cTank)">
 <path d="M146.9,224.9 L307.4,159.5 L636.3,260.4 L469.3,322.9Z" fill="#bee3f8"/>
 <path d="M86.9,206.9 L146.9,224.9 L469.3,322.9 L636.3,260.4 L696.3,238.4 L720,520 L100,520Z" fill="#80cef3"/>
 <g clip-path="url(#cE2)">
  <path d="M146.9,224.9 L307.4,159.5 L636.3,260.4 L469.3,322.9Z" fill="#cbe8f9"/>
  <path d="M86.9,206.9 L146.9,224.9 L469.3,322.9 L636.3,260.4 L696.3,238.4 L720,520 L100,520Z" fill="#8ed2f3"/>
 </g>
 <!-- disk A -->
 <g clip-path="url(#cDA)">
  <rect width="800" height="513" fill="#dde3e3"/>
  <g clip-path="url(#cSurf)"><rect width="800" height="513" fill="#a0d1dd"/></g>
  <g clip-path="url(#cDAlow)"><rect width="800" height="513" fill="#2ab4d8"/></g>
 </g>
 <g clip-path="url(#cWater)"><path d="M440.3,314.5 L438.7,318.8 L437.0,323.1 L435.2,327.3 L433.3,331.5 L431.3,335.6 L429.2,339.7 L427.0,343.7 L424.8,347.6 L422.5,351.4 L420.1,355.2 L417.6,358.9 L415.1,362.5 L412.5,366.0 L409.8,369.4 L407.1,372.7 L404.3,375.9 L401.5,378.9 L398.6,381.9 L395.6,384.7 L392.7,387.5 L389.6,390.1 L386.6,392.5 L383.5,394.9 L380.4,397.1 L377.2,399.1 L374.1,401.1 L370.9,402.8 L367.7,404.5 L364.5,406.0 L361.3,407.3 L358.1,408.5 L355.0,409.6 L351.8,410.5 L348.6,411.2 L345.4,411.8 L342.3,412.2 L339.2,412.5 L336.1,412.6 L333.0,412.5 L330.0,412.4 L327.0,412.0 L324.0,411.5 L321.1,410.8 L318.3,410.0 L315.5,409.0 L312.7,407.9 L310.1,406.6 L307.4,405.2 L304.9,403.7 L302.4,401.9 L300.0,400.1 L297.6,398.1 L295.4,395.9 L293.2,393.7 L291.1,391.3 L289.1,388.7 L287.2,386.1 L285.3,383.3 L283.6,380.4 L281.9,377.3 L280.4,374.2 L278.9,371.0 L277.6,367.6 L276.4,364.2 L275.2,360.6 L274.2,357.0 L273.2,353.3 L272.4,349.4 L271.7,345.6 L271.1,341.6 L270.6,337.6 L270.2,333.5 L270.0,329.3 L269.8,325.1 L269.8,320.8 L269.9,316.5 L270.0,312.2 L270.3,307.8 L270.7,303.4 L271.2,299.0 L271.9,294.6 L272.6,290.1 L273.5,285.7 L274.4,281.2 L275.5,276.8 L276.6,272.3 L277.9,267.9 L279.3,263.5 L280.7,259.2 L282.3,254.8 L284.0,250.5 L285.7,246.3 L287.6,242.1 L289.5,237.9 L291.6,233.8 L293.7,229.8 L295.9,225.8 L298.2,221.9 L300.5,218.1 L303.0,214.4 L305.5,210.8 L308.0,207.2 L310.7,203.8 L313.4,200.4 L316.1,197.2 L318.9,194.0 L321.8,191.0 L324.7,188.1 L327.7,185.3 L330.7,182.7 L333.7,180.1 L336.8,177.7 L339.9,175.5 L343.0,173.3 L346.2,171.3 L349.3,169.5 L352.5,167.8 L355.7,166.2 L358.9,164.8 L362.1,163.5 L365.3,162.4 L368.5,161.4 L371.7,160.6 L374.8,160.0 L378.0,159.4 L381.1,159.1 L384.2,158.9 L387.3,158.9 L390.3,159.0 L393.3,159.3 L396.3,159.7 L399.2,160.3 L402.1,161.0 L404.9,161.9 L407.7,163.0 L410.4,164.2 L413.1,165.5 L415.7,167.0 L418.2,168.6 L420.7,170.4 L423.0,172.4 L425.3,174.4 L427.6,176.6 L429.7,179.0 L431.8,181.4 L433.7,184.0 L435.6,186.8 L437.4,189.6 L439.1,192.6 L440.7,195.7 L442.2,198.9 L443.6,202.2 L444.9,205.6 L446.1,209.1 L447.1,212.6 L448.1,216.3 L449.0,220.1 L449.8,224.0 L450.4,227.9 L451.0,231.9 L451.4,235.9 L451.7,240.1 L451.9,244.2 L452.0,248.5 L452.0,252.8 L451.9,257.1 L451.7,261.4 L451.3,265.8 L450.9,270.2 L450.3,274.7 L449.6,279.1 L448.8,283.6 L447.9,288.0 L446.9,292.5 L445.8,296.9 L444.6,301.3 L443.3,305.7 L441.8,310.1 L440.3,314.5Z" fill="none" stroke="#3a8fa0" stroke-width="0.8" opacity="0.8"/></g>
 <ellipse cx="361" cy="225.8" rx="8" ry="10.8" transform="rotate(20 361 225.8)" fill="#c2e5f8"/>
 <path d="M364.5,216.2 A8,10.8 20 0 1 366.5,234.5" fill="none" stroke="#3f8797" stroke-width="0.9"/>
 <path d="M267.5,119.6 L269.1,120.1 L270.7,120.7 L272.2,121.3 L273.7,121.9 L275.2,122.6 L276.7,123.4 L278.2,124.1 L279.6,124.9 L281.0,125.8 L282.4,126.7 L283.8,127.6 L285.1,128.6 L286.4,129.6 L287.7,130.6 L289.0,131.7 L290.2,132.8 L291.4,134.0 L292.6,135.1 L293.7,136.3 L294.8,137.6 L295.9,138.8 L296.9,140.1 L298.0,141.4 L298.9,142.7 L299.9,144.1 L300.8,145.4 L301.7,146.8 L302.6,148.2 L303.4,149.6 L304.2,151.1 L305.0,152.5 L305.7,153.9 L306.4,155.4 L307.1,156.9 L307.7,158.3 L308.4,159.8 L308.9,161.3 L309.5,162.8 L310.1,164.3 L310.6,165.8 L311.1,167.3 L311.5,168.8 L312.0,170.3 L312.4,171.8 L312.8,173.3 L313.1,174.7 L313.5,176.2 L313.8,177.7 L314.1,179.2 L314.4,180.7 L314.7,182.1 L314.9,183.6 L315.2,185.0 L315.4,186.5 L315.6,187.9 L315.8,189.3 L315.9,190.8 L316.1,192.2 L316.2,193.6 L316.3,195.0 L316.4,196.4 L316.5,197.8 L316.6,199.1 L316.7,200.5 L316.7,201.9 L316.8,203.2 L316.8,204.6 L316.8,205.9 L316.8,207.2 L316.8,208.5 L316.8,209.8 L316.8,211.1 L316.7,212.4 L316.7,213.7 L316.6,215.0 L316.6,216.2 L316.5,217.5 L316.4,218.8 L316.3,220.0 L316.2,221.2 L316.1,222.5 L316.0,223.7 L315.9,224.9 L315.7,226.1 L315.6,227.3 L315.4,228.5 L315.3,229.7 L315.1,230.8 L314.9,232.0 L314.8,233.2 L314.6,234.3 L314.4,235.5 L314.2,236.6 L314.0,237.8 L313.8,238.9 L313.6,240.0 L313.4,241.2 L313.1,242.3 L312.9,243.4 L312.7,244.5 L312.4,245.6 L312.2,246.7 L311.9,247.8 L311.7,248.9 L311.4,250.0 L311.2,251.0 L310.9,252.1 L310.7,253.2 L310.4,254.3 L310.1,255.3 L309.8,256.4 L309.5,257.5 L309.3,258.5 L309.0,259.6 L308.7,260.7 L308.4,261.7 L308.1,262.8 L307.8,263.8 L307.4,264.9 L307.1,265.9 L306.8,267.0 L306.5,268.0 L306.1,269.1 L305.8,270.1 L305.4,271.2 L305.1,272.2 L304.7,273.3 L304.4,274.3 L304.0,275.3 L303.6,276.4 L303.2,277.4 L302.8,278.5 L302.4,279.5 L302.0,280.6 L301.5,281.6 L301.1,282.6 L300.6,283.7 L300.2,284.7 L299.7,285.7 L299.2,286.8 L298.7,287.8 L298.2,288.8 L297.7,289.8 L297.2,290.9 L296.7,291.9 L296.1,292.9 L295.6,293.9 L295.0,294.9 L294.4,295.9 L293.8,296.9 L293.2,297.9 L292.6,298.9 L291.9,299.9 L291.3,300.9 L290.6,301.9 L290.0,302.9 L289.3,303.8 L288.6,304.8 L287.9,305.8 L287.2,306.7 L286.5,307.7 L285.7,308.7 L285.0,309.6 L284.2,310.6 L283.4,311.5 L282.7,312.5 L281.9,313.4 L281.1,314.4 L280.2,315.3 L279.4,316.2 L278.6,317.2 L277.7,318.1 L276.9,319.1 L276.0,320.0 L275.1,320.9 L274.2,321.9 L273.3,322.8 L272.4,323.7 L271.5,324.7 L270.5,325.6 L269.6,326.5 L268.6,327.5 L267.7,328.4 L266.7,329.4 L265.7,330.3 L264.7,331.3 L263.6,332.2 L262.6,333.1 L261.5,334.1 L260.5,335.0 L259.4,336.0 L258.3,336.9 L257.2,337.9 L256.0,338.8 L254.9,339.8 L253.7,340.7 L252.5,341.6 L251.3,342.6 L250.1,343.5 L248.9,344.4 L247.6,345.3 L246.4,346.2 L245.1,347.1 L243.7,348.0 L242.4,348.9 L241.1,349.7 L239.7,350.5 L238.3,351.4 L236.9,352.2 L235.4,353.0 L234.0,353.7 L232.5,354.5 L231.0,355.2 L229.5,355.9 L228.0,356.5 L226.5,357.2 L224.9,357.8 L223.3,358.4 L221.8,358.9 L220.2,359.4 L218.5,359.9 L216.9,360.3 L215.3,360.7 L213.6,361.1 L212.0,361.4 L210.3,361.6 L208.6,361.8 L207.0,362.0 L205.3,362.1 L203.6,362.2 L201.9,362.3 L200.2,362.2 L198.6,362.2 L196.9,362.0 L195.2,361.9 L193.6,361.7 L191.9,361.4 L190.3,361.1 L188.6,360.7 L187.0,360.3 L185.4,359.8 L183.8,359.2" fill="none" stroke="#a4aeae" stroke-width="0.9"/>
 <g clip-path="url(#cWater)"><path d="M267.5,119.6 L269.1,120.1 L270.7,120.7 L272.2,121.3 L273.7,121.9 L275.2,122.6 L276.7,123.4 L278.2,124.1 L279.6,124.9 L281.0,125.8 L282.4,126.7 L283.8,127.6 L285.1,128.6 L286.4,129.6 L287.7,130.6 L289.0,131.7 L290.2,132.8 L291.4,134.0 L292.6,135.1 L293.7,136.3 L294.8,137.6 L295.9,138.8 L296.9,140.1 L298.0,141.4 L298.9,142.7 L299.9,144.1 L300.8,145.4 L301.7,146.8 L302.6,148.2 L303.4,149.6 L304.2,151.1 L305.0,152.5 L305.7,153.9 L306.4,155.4 L307.1,156.9 L307.7,158.3 L308.4,159.8 L308.9,161.3 L309.5,162.8 L310.1,164.3 L310.6,165.8 L311.1,167.3 L311.5,168.8 L312.0,170.3 L312.4,171.8 L312.8,173.3 L313.1,174.7 L313.5,176.2 L313.8,177.7 L314.1,179.2 L314.4,180.7 L314.7,182.1 L314.9,183.6 L315.2,185.0 L315.4,186.5 L315.6,187.9 L315.8,189.3 L315.9,190.8 L316.1,192.2 L316.2,193.6 L316.3,195.0 L316.4,196.4 L316.5,197.8 L316.6,199.1 L316.7,200.5 L316.7,201.9 L316.8,203.2 L316.8,204.6 L316.8,205.9 L316.8,207.2 L316.8,208.5 L316.8,209.8 L316.8,211.1 L316.7,212.4 L316.7,213.7 L316.6,215.0 L316.6,216.2 L316.5,217.5 L316.4,218.8 L316.3,220.0 L316.2,221.2 L316.1,222.5 L316.0,223.7 L315.9,224.9 L315.7,226.1 L315.6,227.3 L315.4,228.5 L315.3,229.7 L315.1,230.8 L314.9,232.0 L314.8,233.2 L314.6,234.3 L314.4,235.5 L314.2,236.6 L314.0,237.8 L313.8,238.9 L313.6,240.0 L313.4,241.2 L313.1,242.3 L312.9,243.4 L312.7,244.5 L312.4,245.6 L312.2,246.7 L311.9,247.8 L311.7,248.9 L311.4,250.0 L311.2,251.0 L310.9,252.1 L310.7,253.2 L310.4,254.3 L310.1,255.3 L309.8,256.4 L309.5,257.5 L309.3,258.5 L309.0,259.6 L308.7,260.7 L308.4,261.7 L308.1,262.8 L307.8,263.8 L307.4,264.9 L307.1,265.9 L306.8,267.0 L306.5,268.0 L306.1,269.1 L305.8,270.1 L305.4,271.2 L305.1,272.2 L304.7,273.3 L304.4,274.3 L304.0,275.3 L303.6,276.4 L303.2,277.4 L302.8,278.5 L302.4,279.5 L302.0,280.6 L301.5,281.6 L301.1,282.6 L300.6,283.7 L300.2,284.7 L299.7,285.7 L299.2,286.8 L298.7,287.8 L298.2,288.8 L297.7,289.8 L297.2,290.9 L296.7,291.9 L296.1,292.9 L295.6,293.9 L295.0,294.9 L294.4,295.9 L293.8,296.9 L293.2,297.9 L292.6,298.9 L291.9,299.9 L291.3,300.9 L290.6,301.9 L290.0,302.9 L289.3,303.8 L288.6,304.8 L287.9,305.8 L287.2,306.7 L286.5,307.7 L285.7,308.7 L285.0,309.6 L284.2,310.6 L283.4,311.5 L282.7,312.5 L281.9,313.4 L281.1,314.4 L280.2,315.3 L279.4,316.2 L278.6,317.2 L277.7,318.1 L276.9,319.1 L276.0,320.0 L275.1,320.9 L274.2,321.9 L273.3,322.8 L272.4,323.7 L271.5,324.7 L270.5,325.6 L269.6,326.5 L268.6,327.5 L267.7,328.4 L266.7,329.4 L265.7,330.3 L264.7,331.3 L263.6,332.2 L262.6,333.1 L261.5,334.1 L260.5,335.0 L259.4,336.0 L258.3,336.9 L257.2,337.9 L256.0,338.8 L254.9,339.8 L253.7,340.7 L252.5,341.6 L251.3,342.6 L250.1,343.5 L248.9,344.4 L247.6,345.3 L246.4,346.2 L245.1,347.1 L243.7,348.0 L242.4,348.9 L241.1,349.7 L239.7,350.5 L238.3,351.4 L236.9,352.2 L235.4,353.0 L234.0,353.7 L232.5,354.5 L231.0,355.2 L229.5,355.9 L228.0,356.5 L226.5,357.2 L224.9,357.8 L223.3,358.4 L221.8,358.9 L220.2,359.4 L218.5,359.9 L216.9,360.3 L215.3,360.7 L213.6,361.1 L212.0,361.4 L210.3,361.6 L208.6,361.8 L207.0,362.0 L205.3,362.1 L203.6,362.2 L201.9,362.3 L200.2,362.2 L198.6,362.2 L196.9,362.0 L195.2,361.9 L193.6,361.7 L191.9,361.4 L190.3,361.1 L188.6,360.7 L187.0,360.3 L185.4,359.8 L183.8,359.2" fill="none" stroke="#4d8f9c" stroke-width="0.9"/></g>
 <!-- brushes outside disk B -->
 <g clip-path="url(#cNotDB)"><use href="#br" color="#06090b" fill-opacity="0.4"/></g>
 <!-- disk B -->
 <g clip-path="url(#cDB)">
  <rect width="800" height="513" fill="#e8eef0"/><use href="#br2" color="#c0ced2" fill-opacity="0.8"/>
  <g clip-path="url(#cSurf)"><rect width="800" height="513" fill="#86c8e2"/><use href="#br2" color="#4b8292" fill-opacity="0.85"/>
   <g clip-path="url(#cDBup)"><rect width="800" height="513" fill="#a2cddb"/><use href="#br2" color="#5a8c9b" fill-opacity="0.85"/></g>
   <g clip-path="url(#cE2)"><rect width="800" height="513" fill="#9bd2e2"/><use href="#br2" color="#6e9fae" fill-opacity="0.85"/></g>
   <g clip-path="url(#cDA)"><rect width="800" height="513" fill="#4eaed0"/><use href="#br2" color="#4b7d87" fill-opacity="0.88"/></g>
  </g>
  <g clip-path="url(#cBody)"><rect width="800" height="513" fill="#46bbd8"/><use href="#br2" color="#286e7d" fill-opacity="0.85"/>
   <g clip-path="url(#cDA)"><rect width="800" height="513" fill="#2c9fc2"/><use href="#br2" color="#126476" fill-opacity="0.9"/></g>
   <g clip-path="url(#cE2)"><rect width="800" height="513" fill="#64c0e1"/><use href="#br2" color="#4b8ca0" fill-opacity="0.85"/></g>
  </g>
 </g>
 <path d="M440.5,261.8 C435,262 430.5,269 430.8,277 C431,284 434,288 437.5,287.2 C441,286.5 442.5,283 441.3,279.5 C440.2,276 440.3,272 441.8,268.5 C443.2,265 443,262 440.5,261.8Z" fill="#05080a"/>
 <path d="M441,266 l4,-1.5 M441.5,269 l5,0.5 M441,272.5 l4.5,-1 M440.8,276 l5.5,0.8 M441,279 l4,1.2 M442,282 l3,1" stroke="#0a1a1e" stroke-width="1.2" opacity="0.8"/>
</g>
<!-- inlet pipe -->
<g fill="#fff" stroke="#c4c9c9" stroke-width="0.8">
 <ellipse cx="229" cy="148.5" rx="10" ry="14" transform="rotate(15 229 148.5)"/>
 <ellipse cx="232.5" cy="149" rx="9.5" ry="13.3" transform="rotate(15 232.5 149)"/>
 <ellipse cx="236.5" cy="149.5" rx="9" ry="12.5" transform="rotate(15 236.5 149.5)"/>
 <ellipse cx="240" cy="150" rx="8.5" ry="12" transform="rotate(15 240 150)"/>
</g>
<path d="M267.5,119.6 L597.3,221.8 L599.0,222.3 L600.7,223.0 L602.4,223.6 L604.1,224.3 L605.7,225.1 L607.3,226.0 L608.9,226.8 L610.4,227.8 L612.0,228.8 L613.5,229.8 L614.9,230.9 L616.3,232.0 L617.7,233.2 L619.1,234.4 L620.4,235.6 L621.7,236.9 L623.0,238.2 L624.2,239.6 L625.3,241.0 L626.5,242.4 L627.6,243.9 L628.6,245.4 L629.7,246.9 L630.7,248.4 L631.6,250.0 L632.5,251.6 L633.4,253.2 L634.2,254.8 L635.0,256.4 L635.8,258.0 L636.5,259.7 L637.2,261.3 L637.9,263.0 L638.5,264.7 L639.1,266.3 L639.7,268.0 L640.3,269.7 L640.8,271.3 L641.3,273.0 L641.7,274.7 L642.2,276.3 L642.6,278.0 L643.0,279.6 L643.4,281.3 L643.7,282.9 L644.1,284.5 L644.4,286.1 L644.7,287.7 L644.9,289.3 L645.2,290.9 L645.5,292.5 L645.7,294.0 L645.9,295.6 L646.1,297.1 L646.3,298.6 L646.5,300.1 L646.7,301.6 L646.9,303.1 L647.0,304.6 L647.1,306.1 L647.3,307.6 L647.4,309.0 L647.5,310.4 L647.6,311.9 L647.7,313.3 L647.8,314.7 L647.9,316.1 L647.9,317.5 L648.0,318.9 L648.0,320.3 L648.1,321.6 L648.1,323.0 L648.1,324.4 L648.1,325.7 L648.1,327.1 L648.1,328.4 L648.1,329.7 L648.0,331.0 L648.0,332.4 L647.9,333.7 L647.8,335.0 L647.7,336.3 L647.6,337.6 L647.5,338.9 L647.4,340.1 L647.2,341.4 L647.1,342.7 L646.9,343.9 L646.7,345.2 L646.5,346.4 L646.3,347.7 L646.1,348.9 L645.8,350.1 L645.6,351.4 L645.3,352.6 L645.0,353.8 L644.7,355.0 L644.4,356.2 L644.1,357.4 L643.8,358.5 L643.5,359.7 L643.1,360.9 L642.8,362.0 L642.4,363.2 L642.0,364.3 L641.7,365.4 L641.3,366.6 L640.9,367.7 L640.5,368.8 L640.1,369.9 L639.7,371.0 L639.3,372.1 L638.9,373.2 L638.5,374.3 L638.0,375.4 L637.6,376.5 L637.2,377.5 L636.8,378.6 L636.3,379.7 L635.9,380.8 L635.5,381.8 L635.1,382.9 L634.6,383.9 L634.2,385.0 L633.8,386.1 L633.4,387.1 L632.9,388.2 L632.5,389.3 L632.1,390.3 L631.6,391.4 L631.2,392.5 L630.8,393.5 L630.3,394.6 L629.9,395.7 L629.5,396.8 L629.0,397.9 L628.6,399.0 L628.2,400.1 L627.7,401.1 L627.3,402.3 L626.8,403.4 L626.3,404.5 L625.9,405.6 L625.4,406.7 L624.9,407.8 L624.4,408.9 L623.9,410.1 L623.4,411.2 L622.9,412.3 L622.4,413.5 L621.8,414.6 L621.3,415.8 L620.7,416.9 L620.1,418.1 L619.5,419.2 L618.9,420.4 L618.3,421.5 L617.7,422.7 L617.0,423.8 L616.4,425.0 L615.7,426.1 L615.0,427.3 L614.3,428.4 L613.6,429.6 L612.8,430.7 L612.1,431.8 L611.3,433.0 L610.5,434.1 L609.7,435.2 L608.9,436.4 L608.1,437.5 L607.2,438.6 L606.3,439.7 L605.4,440.9 L604.5,442.0 L603.6,443.1 L602.6,444.2 L601.7,445.3 L600.7,446.4 L599.7,447.4 L598.7,448.5 L597.6,449.6 L596.6,450.6 L595.5,451.7 L594.4,452.8 L593.3,453.8 L592.2,454.8 L591.0,455.9 L589.8,456.9 L588.7,457.9 L587.5,458.9 L586.2,459.9 L585.0,460.9 L583.7,461.9 L582.5,462.9 L581.2,463.9 L579.8,464.8 L578.5,465.7 L577.2,466.7 L575.8,467.6 L574.4,468.5 L573.0,469.4 L571.5,470.3 L570.1,471.1 L568.6,472.0 L567.1,472.8 L565.6,473.6 L564.1,474.4 L562.5,475.2 L561.0,475.9 L559.4,476.6 L557.8,477.3 L556.2,478.0 L554.6,478.6 L552.9,479.2 L551.2,479.8 L549.6,480.4 L547.9,480.9 L546.1,481.4 L544.4,481.8 L542.7,482.3 L540.9,482.6 L539.2,483.0 L537.4,483.3 L535.7,483.5 L533.9,483.7 L532.1,483.9 L530.3,484.0 L528.5,484.1 L526.7,484.1 L524.9,484.1 L523.1,484.1 L521.4,484.0 L519.6,483.8 L517.8,483.6 L516.0,483.3 L514.3,483.0 L512.5,482.6 L510.8,482.2 L509.0,481.7 L507.3,481.2 L505.6,480.7 L504.5,480.2 L182.8,358.9 L181.2,358.2 L179.7,357.6 L178.2,356.9 L176.7,356.1 L175.2,355.3 L173.8,354.4 L172.4,353.5 L171.0,352.6 L169.6,351.6 L168.3,350.6 L167.0,349.5 L165.8,348.4 L164.5,347.3 L163.3,346.1 L162.2,344.9 L161.0,343.6 L159.9,342.3 L158.9,341.0 L157.8,339.7 L156.8,338.3 L155.9,337.0 L155.0,335.5 L154.1,334.1 L153.2,332.7 L152.4,331.2 L151.6,329.7 L150.8,328.3 L150.1,326.8 L149.4,325.2 L148.8,323.7 L148.1,322.2 L147.5,320.7 L147.0,319.1 L146.4,317.6 L145.9,316.0 L145.4,314.5 L145.0,312.9 L144.5,311.4 L144.1,309.9 L143.7,308.3 L143.4,306.8 L143.0,305.3 L142.7,303.7 L142.4,302.2 L142.2,300.7 L141.9,299.2 L141.7,297.7 L141.4,296.2 L141.2,294.8 L141.1,293.3 L140.9,291.8 L140.7,290.4 L140.6,289.0 L140.5,287.5 L140.3,286.1 L140.2,284.7 L140.2,283.3 L140.1,281.9 L140.0,280.5 L140.0,279.2 L139.9,277.8 L139.9,276.5 L139.9,275.1 L139.8,273.8 L139.8,272.5 L139.8,271.2 L139.9,269.9 L139.9,268.6 L139.9,267.3 L140.0,266.0 L140.0,264.8 L140.1,263.5 L140.2,262.3 L140.3,261.0 L140.3,259.8 L140.4,258.6 L140.6,257.4 L140.7,256.2 L140.8,255.0 L140.9,253.8 L141.1,252.6 L141.2,251.4 L141.4,250.2 L141.6,249.1 L141.7,247.9 L141.9,246.8 L142.1,245.6 L142.3,244.5 L142.6,243.4 L142.8,242.2 L143.0,241.1 L143.2,240.0 L143.5,238.9 L143.7,237.8 L144.0,236.7 L144.2,235.6 L144.5,234.6 L144.8,233.5 L145.1,232.4 L145.3,231.4 L145.6,230.3 L145.9,229.3 L146.2,228.2 L146.5,227.2 L146.8,226.1 L147.2,225.1 L147.5,224.1 L147.8,223.1 L148.1,222.0 L148.4,221.0 L148.8,220.0 L149.1,219.0 L149.4,218.0 L149.8,217.0 L150.1,216.0 L150.5,215.0 L150.8,214.0 L151.2,213.0 L151.5,212.0 L151.9,211.0 L152.2,210.0 L152.6,209.0 L152.9,208.0 L153.3,207.0 L153.6,206.0 L154.0,205.0 L154.4,204.0 L154.8,203.0 L155.1,202.0 L155.5,201.0 L155.9,200.0 L156.3,199.0 L156.7,198.0 L157.1,197.0 L157.5,196.0 L157.9,194.9 L158.3,193.9 L158.8,192.9 L159.2,191.9 L159.6,190.9 L160.1,189.8 L160.5,188.8 L161.0,187.8 L161.5,186.8 L161.9,185.7 L162.4,184.7 L162.9,183.7 L163.4,182.6 L164.0,181.6 L164.5,180.5 L165.0,179.5 L165.6,178.4 L166.2,177.4 L166.7,176.4 L167.3,175.3 L167.9,174.3 L168.5,173.2 L169.2,172.2 L169.8,171.1 L170.4,170.1 L171.1,169.0 L171.8,168.0 L172.5,166.9 L173.2,165.9 L173.9,164.8 L174.6,163.8 L175.4,162.7 L176.2,161.7 L176.9,160.7 L177.7,159.6 L178.5,158.6 L179.4,157.5 L180.2,156.5 L181.0,155.5 L181.9,154.4 L182.8,153.4 L183.7,152.4 L184.6,151.3 L185.5,150.3 L186.5,149.3 L187.5,148.3 L188.4,147.3 L189.4,146.3 L190.5,145.3 L191.5,144.3 L192.6,143.3 L193.6,142.3 L194.7,141.3 L195.8,140.3 L196.9,139.3 L198.1,138.4 L199.3,137.4 L200.4,136.5 L201.6,135.6 L202.9,134.6 L204.1,133.7 L205.4,132.8 L206.6,131.9 L207.9,131.1 L209.2,130.2 L210.6,129.4 L211.9,128.6 L213.3,127.8 L214.7,127.0 L216.1,126.2 L217.5,125.5 L219.0,124.8 L220.5,124.1 L221.9,123.4 L223.4,122.8 L224.9,122.2 L226.5,121.6 L228.0,121.0 L229.6,120.5 L231.1,120.0 L232.7,119.6 L234.3,119.1 L235.9,118.8 L237.5,118.4 L239.2,118.1 L240.8,117.8 L242.4,117.6 L244.1,117.4 L245.7,117.3 L247.4,117.2 L249.0,117.1 L250.7,117.1 L252.3,117.1 L254.0,117.2 L255.7,117.3 L257.3,117.5 L258.9,117.7 L260.6,118.0 L262.2,118.3 L263.8,118.6 L265.4,119.0 L267.0,119.5 L267.5,119.6Z" fill="none" stroke="#323c3c" stroke-width="1.4"/>
<path d="M460.8,352.6 L461.2,351.0 L461.6,349.4 L462.0,347.8 L462.4,346.2 L462.9,344.7 L463.3,343.2 L463.8,341.6 L464.3,340.1 L464.7,338.6 L465.2,337.1 L465.7,335.6 L466.2,334.1 L466.8,332.7 L467.3,331.2 L467.8,329.8 L468.3,328.3 L468.9,326.9 L469.4,325.4 L469.9,324.0 L470.5,322.6 L471.0,321.1 L471.6,319.7 L472.1,318.3 L472.7,316.9 L473.2,315.4 L473.8,314.0 L474.4,312.6 L475.0,311.1 L475.5,309.7 L476.1,308.3 L476.7,306.8 L477.4,305.4 L478.0,303.9 L478.6,302.5 L479.3,301.0 L479.9,299.5 L480.6,298.1 L481.3,296.6 L482.0,295.2 L482.7,293.7 L483.5,292.2 L484.2,290.7 L485.0,289.3 L485.8,287.8 L486.7,286.3 L487.5,284.9 L488.4,283.4 L489.3,281.9 L490.2,280.4 L491.1,279.0 L492.1,277.5 L493.1,276.0 L494.1,274.6 L495.2,273.1 L496.3,271.7 L497.4,270.2 L498.5,268.8 L499.6,267.3 L500.8,265.9 L502.0,264.4 L503.3,263.0 L504.5,261.6 L505.8,260.1 L507.1,258.7 L508.5,257.3 L509.8,255.8 L511.2,254.4 L512.7,253.0 L514.1,251.6 L515.6,250.2 L517.2,248.8 L518.7,247.3 L520.3,246.0 L521.9,244.6 L523.6,243.2 L525.3,241.8 L527.0,240.5 L528.8,239.1 L530.6,237.8 L532.4,236.5 L534.3,235.2 L536.2,233.9 L538.2,232.7 L540.2,231.5 L542.2,230.3 L544.3,229.2 L546.4,228.1 L548.5,227.1 L550.7,226.1 L552.9,225.1 L555.1,224.2 L557.4,223.4 L559.7,222.6 L562.0,222.0 L564.4,221.3 L566.7,220.8 L569.1,220.3 L571.5,220.0 L574.0,219.7 L576.4,219.5 L578.8,219.3 L581.2,219.3 L583.6,219.4 L586.1,219.6 L588.5,219.9 L590.8,220.2 L593.2,220.7 L595.6,221.3 L597.9,222.0 L600.2,222.7 L602.4,223.6 L604.6,224.6 L606.8,225.7 L608.9,226.8 L610.9,228.1 L613.0,229.4 L614.9,230.9 L616.8,232.4 L618.6,234.0 L620.4,235.6 L622.1,237.4 L623.8,239.2 L625.3,241.0 L626.9,242.9 L628.3,244.9 L629.7,246.9 L631.0,249.0 L632.2,251.0 L633.4,253.2 L634.5,255.3 L635.6,257.5 L636.5,259.7 L637.5,261.9 L638.3,264.1 L639.1,266.3 L639.9,268.6 L640.6,270.8 L641.3,273.0 L641.9,275.2 L642.5,277.4 L643.0,279.6 L643.5,281.8 L643.9,284.0 L644.4,286.1 L644.8,288.2 L645.1,290.4 L645.5,292.5 L645.8,294.5 L646.1,296.6 L646.3,298.6 L646.6,300.6 L646.8,302.6 L647.0,304.6 L647.2,306.6 L647.4,308.5 L647.5,310.4 L647.7,312.4 L647.8,314.2 L647.9,316.1 L648.0,318.0 L648.0,319.8 L648.1,321.6 L648.1,323.5 L648.1,325.3 L648.1,327.1 L648.1,328.8 L648.0,330.6 L648.0,332.4 L647.9,334.1 L647.8,335.8 L647.6,337.6 L647.5,339.3 L647.3,341.0 L647.1,342.7 L646.8,344.4 L646.6,346.0 L646.3,347.7 L646.0,349.3 L645.6,351.0 L645.3,352.6 L644.9,354.2 L644.5,355.8 L644.1,357.4 L643.7,358.9 L643.2,360.5 L642.8,362.0 L642.3,363.5 L641.8,365.1 L641.3,366.6 L640.8,368.1 L640.2,369.5 L639.7,371.0 L639.1,372.5 L638.6,373.9 L638.0,375.4 L637.5,376.8 L636.9,378.3 L636.3,379.7 L635.8,381.1 L635.2,382.5 L634.6,383.9 L634.1,385.4 L633.5,386.8 L632.9,388.2 L632.4,389.6 L631.8,391.0 L631.2,392.5 L630.6,393.9 L630.1,395.3 L629.5,396.8 L628.9,398.2 L628.3,399.7 L627.7,401.1 L627.1,402.6 L626.5,404.1 L625.9,405.6 L625.2,407.1 L624.6,408.6 L623.9,410.1 L623.2,411.6 L622.5,413.1 L621.8,414.6 L621.1,416.1 L620.3,417.7 L619.5,419.2 L618.7,420.7 L617.9,422.3 L617.0,423.8 L616.2,425.3 L615.2,426.9 L614.3,428.4 L613.3,429.9 L612.3,431.5 L611.3,433.0 L610.3,434.5 L609.2,436.0 L608.1,437.5 L606.9,439.0 L605.7,440.5 L604.5,442.0 L603.3,443.4 L602.0,444.9 L600.7,446.4 L599.3,447.8 L598.0,449.2 L596.6,450.6 L595.1,452.1 L593.7,453.5 L592.2,454.8 L590.6,456.2 L589.1,457.6 L587.5,458.9 L585.8,460.3 L584.2,461.6 L582.5,462.9 L580.7,464.2 L579.0,465.4 L577.2,466.7 L575.3,467.9 L573.4,469.1 L571.5,470.3 L569.6,471.4 L567.6,472.5 L565.6,473.6 L563.6,474.6 L561.5,475.7 L559.4,476.6 L557.3,477.5 L555.1,478.4 L552.9,479.2 L550.7,480.0 L548.4,480.7 L546.1,481.4 L543.9,482.0 L541.5,482.5 L539.2,483.0 L536.8,483.4 L534.5,483.7 L532.1,483.9 L529.7,484.1 L527.3,484.1 L524.9,484.1 L522.5,484.0 L520.2,483.9 L517.8,483.6 L515.4,483.2 L513.1,482.8 L510.8,482.2 L508.5,481.6 L506.2,480.9 L504.0,480.0 L501.8,479.1 L499.6,478.1 L497.5,477.0 L495.4,475.9 L493.4,474.6 L491.4,473.3 L489.5,471.9 L487.6,470.4 L485.8,468.8 L484.0,467.2 L482.3,465.5 L480.7,463.8 L479.1,462.0 L477.6,460.1 L476.2,458.2 L474.8,456.2 L473.5,454.2 L472.2,452.2 L471.0,450.1 L469.9,448.1 L468.8,445.9 L467.8,443.8 L466.9,441.6 L466.0,439.5 L465.2,437.3 L464.4,435.1 L463.7,432.9 L463.0,430.7 L462.4,428.5 L461.8,426.4 L461.2,424.2 L460.7,422.0 L460.3,419.9 L459.9,417.7 L459.5,415.6 L459.1,413.5 L458.8,411.4 L458.5,409.3 L458.3,407.2 L458.0,405.2 L457.8,403.1 L457.7,401.1 L457.5,399.1 L457.4,397.1 L457.3,395.2 L457.2,393.2 L457.1,391.3 L457.1,389.4 L457.0,387.5 L457.0,385.6 L457.1,383.7 L457.1,381.9 L457.2,380.0 L457.2,378.2 L457.3,376.4 L457.5,374.6 L457.6,372.8 L457.8,371.1 L457.9,369.3 L458.1,367.6 L458.4,365.9 L458.6,364.1 L458.8,362.5 L459.1,360.8 L459.4,359.1 L459.7,357.5 L460.1,355.8 L460.4,354.2Z" fill="none" stroke="#323c3c" stroke-width="1.4"/>
<!-- risers -->
<path d="M247.5,70 L247.5,162.5  C248.1,165.0 248.8,173.4 251.3,177.5 C253.8,181.6 258.1,184.8 262.5,186.9 C266.9,189.0 271.9,190.0 277.5,190.3 C283.1,190.6 290.1,189.8 296.3,188.8 C302.6,187.7 308.8,186.0 315.0,184.0 C321.2,182.0 327.6,179.2 333.8,176.6 C340.1,173.9 346.4,170.6 352.5,168.1 C358.6,165.6 366.2,163.5 370.3,161.6 C374.4,159.7 375.8,157.3 376.9,156.5 L376.9,70Z" fill="#fff" fill-opacity="0.6" stroke="#323c3c" stroke-width="1.4"/>
<path d="M370.6,108 L370.6,204.4  C371.2,206.4 372.2,213.2 374.4,216.6 C376.6,220.0 380.0,222.8 383.8,225.0 C387.5,227.2 392.2,228.8 396.9,229.7 C401.6,230.6 406.9,230.6 411.9,230.2 C416.9,229.9 420.6,229.5 426.9,227.8 C433.1,226.1 441.0,223.4 449.4,220.3 C457.8,217.2 469.7,212.2 477.5,209.0 C485.3,205.8 491.5,203.4 496.0,201.2 C500.5,199.0 503.2,196.9 504.7,196.0 L504.7,108Z" fill="#fff" fill-opacity="0.6" stroke="#323c3c" stroke-width="1.4"/>
<path d="M243.5,63.4 L243.5,76.0 A68.05,20.5 0 0 0 379.6,76.0 L379.6,63.4Z" fill="#7db098" stroke="#323c3c" stroke-width="1.4" stroke-linejoin="round"/><path d="M243.5,63.4 A68.05,20.5 0 0 1 379.6,63.4 A68.05,20.5 0 0 1 243.5,63.4Z" fill="#7db098" stroke="#323c3c" stroke-width="1.4"/>
<path d="M367.5,100.8 L367.5,113.0 A70.2,21.2 0 0 0 507.9,113.0 L507.9,100.8Z" fill="#7db098" stroke="#323c3c" stroke-width="1.4" stroke-linejoin="round"/><path d="M367.5,100.8 A70.2,21.2 0 0 1 507.9,100.8 A70.2,21.2 0 0 1 367.5,100.8Z" fill="#7db098" stroke="#323c3c" stroke-width="1.4"/>
<!-- outlet pipe -->
<g>
 <ellipse cx="552" cy="293.5" rx="8.5" ry="13" transform="rotate(12 552 293.5)" fill="#e8f4fb" stroke="#a9b0b0" stroke-width="0.8" stroke-dasharray="1 1"/>
 <ellipse cx="557.5" cy="295" rx="9" ry="13.8" transform="rotate(12 557.5 295)" fill="#eef7fc" stroke="#a9b0b0" stroke-width="0.8" stroke-dasharray="1 1"/>
 <ellipse cx="568.5" cy="297" rx="10.5" ry="15.4" transform="rotate(12 568.5 297)" fill="#fff" stroke="#323c3c" stroke-width="1.4"/>
 <ellipse cx="574.2" cy="297.3" rx="10.6" ry="15.4" transform="rotate(12 574.2 297.3)" fill="#fff" stroke="#323c3c" stroke-width="1.4"/>
</g>
<line x1="138" y1="116.4" x2="188.1" y2="131.5" stroke="#9a9a9a" stroke-width="1.35"/><path d="M197.7,134.4 L183.7,135.9 L188.4,131.6 L186.8,125.4Z" fill="#9a9a9a"/>
<line x1="574.2" y1="301.6" x2="624.3" y2="315.5" stroke="#9a9a9a" stroke-width="1.35"/><path d="M633.9,318.2 L619.9,320.0 L624.5,315.6 L622.8,309.4Z" fill="#9a9a9a"/>
<line x1="290.7" y1="416.2" x2="323.8" y2="397.5" stroke="#8a9a9c" stroke-width="1"/>
<g class="t" font-size="18.5" letter-spacing="0.3" fill="#384446" stroke="#384446" stroke-width="0.35">
 <text x="122.6" y="112.2">Вход</text>
 <text x="571.3" y="346.6">Выход</text>
 <text x="189.8" y="430.9">Биозагрузка</text>
</g>
</svg>
</body></html>
